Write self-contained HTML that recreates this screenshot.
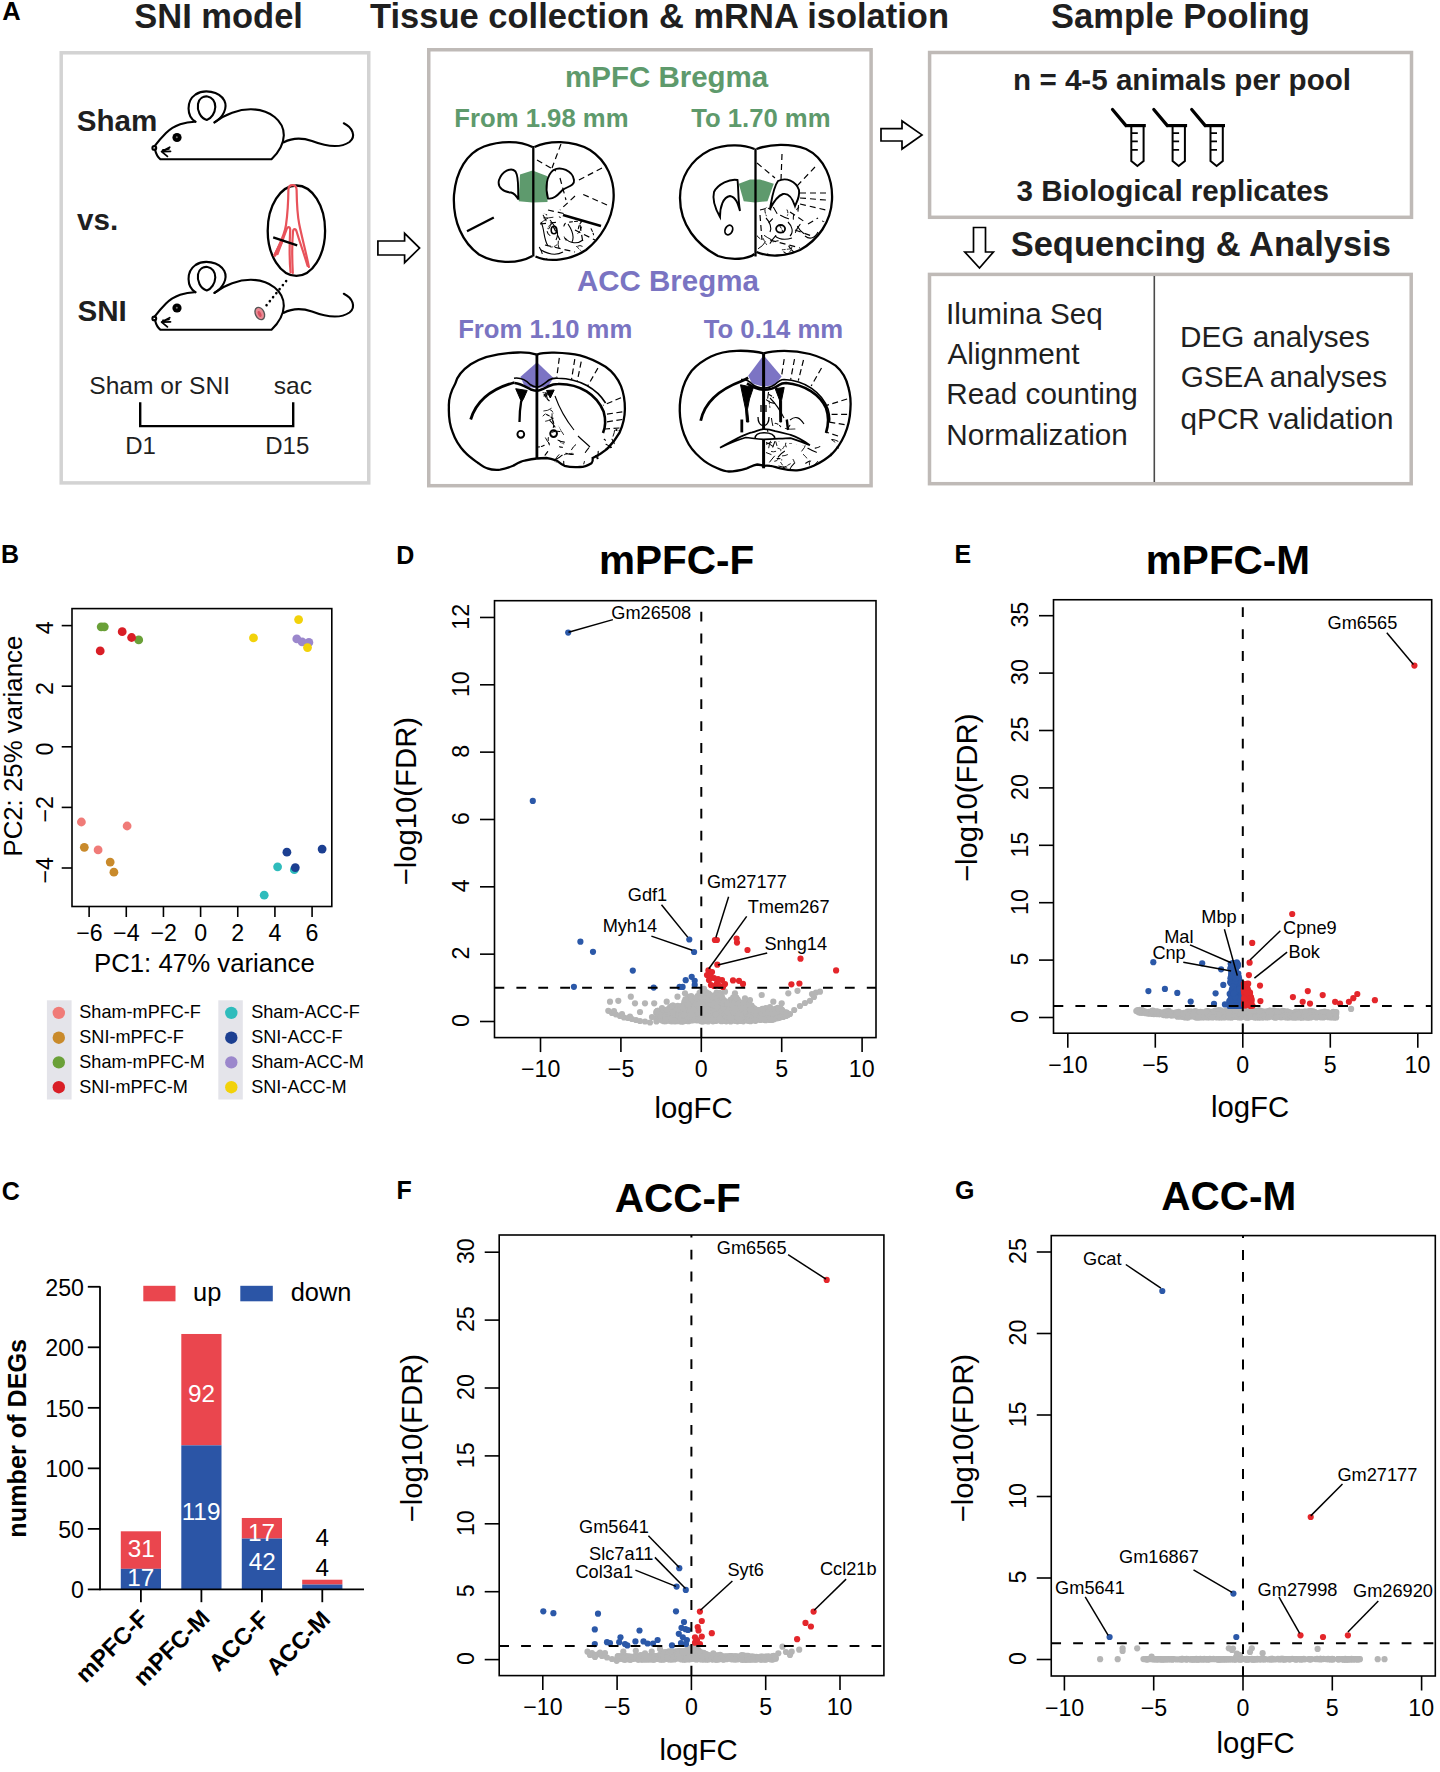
<!DOCTYPE html><html><head><meta charset="utf-8"><style>html,body{margin:0;padding:0;background:#fff;}svg{display:block;} text{font-family:"Liberation Sans",sans-serif;}</style></head><body>
<svg width="1440" height="1772" viewBox="0 0 1440 1772">
<rect width="1440" height="1772" fill="#fff"/>
<rect x="61.20" y="52.80" width="307.55" height="430.10" fill="none" stroke="#d3d3d3" stroke-width="3.5"/>
<rect x="428.75" y="49.75" width="442.35" height="435.95" fill="none" stroke="#bfbab7" stroke-width="3.5"/>
<rect x="929.60" y="52.50" width="481.90" height="164.80" fill="none" stroke="#bfbab7" stroke-width="3.5"/>
<rect x="929.50" y="274.40" width="481.70" height="209.30" fill="none" stroke="#bfbab7" stroke-width="3.5"/>
<line x1="1154.30" y1="276.00" x2="1154.30" y2="482.00" stroke="#4a4a4a" stroke-width="1.6"/>
<text x="2.16" y="20.30" font-size="25.5" font-weight="bold" fill="#000">A</text>
<text x="134.27" y="27.80" font-size="34.5" font-weight="bold" fill="#1f1f1f">SNI model</text>
<text x="370.05" y="28.30" font-size="34.5" font-weight="bold" fill="#1f1f1f">Tissue collection &amp; mRNA isolation</text>
<text x="1051.06" y="27.80" font-size="34.5" font-weight="bold" fill="#1f1f1f">Sample Pooling</text>
<text x="76.81" y="130.60" font-size="29.6" font-weight="bold" fill="#1f1f1f">Sham</text>
<text x="77.05" y="230.00" font-size="29.6" font-weight="bold" fill="#1f1f1f">vs.</text>
<text x="77.41" y="320.50" font-size="29.6" font-weight="bold" fill="#1f1f1f">SNI</text>
<text x="89.29" y="394.00" font-size="24.6" fill="#1f1f1f">Sham or SNI</text>
<text x="273.66" y="394.00" font-size="24.6" fill="#1f1f1f">sac</text>
<text x="125.28" y="453.50" font-size="24" fill="#1f1f1f">D1</text>
<text x="265.28" y="453.50" font-size="24" fill="#1f1f1f">D15</text>
<path d="M 140.2,402.3 L 140.2,426.1 L 293.2,426.1 L 293.2,402.3" stroke="#000" stroke-width="2.4" fill="none" stroke-linejoin="miter"/>
<g transform="translate(0,0)" stroke="#000" stroke-width="2.1" fill="none" stroke-linecap="round" stroke-linejoin="round">
<path d="M 195.4,121.7 C 186,121.5 174,125 166,133 C 161,138 157,143 154.6,146.2 M 155,149.5 C 156,154 158,157.5 160.5,159.3 L 271.5,159.3 C 278,153 283.5,145 283.8,135.5 C 284,121 270,109.5 251,109.3 C 239,109.2 225,114 214.5,122.4"/>
<circle cx="154.3" cy="147.9" r="1.9"/>
<path d="M 195.4,121.7 C 186.5,116.5 186,101 195.5,94.5 C 204,89 219,91 224.3,100.5 C 228,108 223,117.5 214.5,122.4"/>
<path d="M 206.8,120 C 200,118 197,110 198,104 C 199,98 203.5,96 207.5,96.5 C 212,97 215.5,101.5 215.3,107 C 215,113 211.5,118.5 206.8,120 Z"/>
<path d="M 283.8,142.3 C 291,138.5 300,137 312,141 C 325,146 340,148.5 349.5,142 C 356.5,136.5 352.5,127.5 343.8,123.3"/>
<path d="M 169.7,147.2 L 161.6,151.6 L 170.5,151.3 M 161.6,151.6 L 167.4,156.4 M 163,150 L 169,148.8" stroke-width="1.8"/>
</g>
<circle cx="177" cy="137.5" r="4.6" fill="#000"/>
<circle cx="176.8" cy="137.2" r="1.0" fill="#777"/>
<g transform="translate(0,170.5)" stroke="#000" stroke-width="2.1" fill="none" stroke-linecap="round" stroke-linejoin="round">
<path d="M 195.4,121.7 C 186,121.5 174,125 166,133 C 161,138 157,143 154.6,146.2 M 155,149.5 C 156,154 158,157.5 160.5,159.3 L 271.5,159.3 C 278,153 283.5,145 283.8,135.5 C 284,121 270,109.5 251,109.3 C 239,109.2 225,114 214.5,122.4"/>
<circle cx="154.3" cy="147.9" r="1.9"/>
<path d="M 195.4,121.7 C 186.5,116.5 186,101 195.5,94.5 C 204,89 219,91 224.3,100.5 C 228,108 223,117.5 214.5,122.4"/>
<path d="M 206.8,120 C 200,118 197,110 198,104 C 199,98 203.5,96 207.5,96.5 C 212,97 215.5,101.5 215.3,107 C 215,113 211.5,118.5 206.8,120 Z"/>
<path d="M 283.8,142.3 C 291,138.5 300,137 312,141 C 325,146 340,148.5 349.5,142 C 356.5,136.5 352.5,127.5 343.8,123.3"/>
<path d="M 169.7,147.2 L 161.6,151.6 L 170.5,151.3 M 161.6,151.6 L 167.4,156.4 M 163,150 L 169,148.8" stroke-width="1.8"/>
</g>
<circle cx="177" cy="308.0" r="4.6" fill="#000"/>
<circle cx="176.8" cy="307.7" r="1.0" fill="#777"/>
<ellipse cx="296.4" cy="230.7" rx="28.7" ry="45.2" stroke="#000" stroke-width="2.3" fill="#fff"/>
<g stroke="#e8525a" stroke-width="2.2" fill="none" stroke-linecap="round">
<path d="M 274.5,255.5 C 279,245 284.5,236 286,225 C 287.8,212 288.3,200 288.4,190 C 288.4,186.5 290,185.2 292.5,185.2 C 295,185.2 296.5,186.5 296.6,190 C 296.8,202 297.2,214 299.2,224 C 302,238 306,252 308.9,267"/>
<path d="M 277.5,254 C 281,245 284,236 286.5,229.5 C 287.5,226.5 289.7,226.3 290.2,229.5 C 289.6,242 289,258 290.6,272.5"/>
<path d="M 292.8,273 C 292,258 292,243 293,231.5 C 293.5,228.3 295.7,228.3 296.6,231.5 C 300,243 304.5,255 307.6,266"/>
<path d="M 275,255 L 281.5,242" stroke-width="3.2"/>
</g>
<line x1="273.20" y1="237.30" x2="297.20" y2="245.40" stroke="#000" stroke-width="2.3"/>
<line x1="286.10" y1="281.10" x2="264.10" y2="308.20" stroke="#000" stroke-width="2.6" stroke-dasharray="0.01,5.15" stroke-linecap="round"/>
<ellipse cx="259.8" cy="313.5" rx="4.4" ry="6.5" transform="rotate(-25 259.8 313.5)" stroke="#555" stroke-width="1.3" fill="#ea8a94"/>
<ellipse cx="259.6" cy="314" rx="1.6" ry="3.2" transform="rotate(-25 259.6 314)" fill="#d85060"/>
<path d="M 377.9,241 L 404.6,241 L 404.6,233.3 L 419.6,248.1 L 404.6,262.7 L 404.6,255 L 377.9,255 Z" stroke="#000" stroke-width="1.7" fill="#fff" stroke-linejoin="miter"/>
<path d="M 881,128.7 L 902,128.7 L 902,121 L 922,134.9 L 902,149 L 902,141 L 881,141 Z" stroke="#000" stroke-width="1.7" fill="#fff" stroke-linejoin="miter"/>
<path d="M 973.5,227.5 L 985.5,227.5 L 985.5,252 L 993.4,252 L 979.5,268 L 964.8,252 L 973.5,252 Z" stroke="#000" stroke-width="1.7" fill="#fff" stroke-linejoin="miter"/>
<text x="564.98" y="87.10" font-size="29.5" font-weight="bold" fill="#5e9a6c">mPFC Bregma</text>
<text x="454.33" y="126.50" font-size="25.7" font-weight="bold" fill="#5e9a6c">From 1.98 mm</text>
<text x="691.14" y="126.50" font-size="25.7" font-weight="bold" fill="#5e9a6c">To 1.70 mm</text>
<text x="576.96" y="291.20" font-size="29.5" font-weight="bold" fill="#7a74c2">ACC Bregma</text>
<text x="458.13" y="338.20" font-size="25.7" font-weight="bold" fill="#7a74c2">From 1.10 mm</text>
<text x="703.74" y="338.20" font-size="25.7" font-weight="bold" fill="#7a74c2">To 0.14 mm</text>
<polygon points="520,174.4 532.5,170.6 547.5,176.25 547.5,201.9 532.5,202.5 518.75,201.25" fill="#5e9a6d"/>
<path d="M 532.5,147 C 520,140.5 500,140.5 484,146.5 C 467,153 456,171 454,195 C 452.5,222 463,243 479,254.5 C 494,263 516,265 532.5,256" stroke="#000" stroke-width="2.3" fill="none"/>
<path d="M 534.5,147 C 548,140.5 572,139.5 590,150 C 607,161 615,180 613.5,200 C 612,220 601,238 586,250 C 571,260 550,263 535.5,256.5" stroke="#000" stroke-width="2.3" fill="none"/>
<line x1="533.30" y1="146.00" x2="533.30" y2="256.50" stroke="#000" stroke-width="2.3"/>
<path d="M 518.5,199.5 C 517.5,190 519.5,178 515.5,171.5 C 511,166.5 502,171.5 499,180 C 497,187.5 504,192.5 511,192.5 C 515,193.5 517,197 518.5,199.5 Z" stroke="#000" stroke-width="1.9" fill="#fff"/>
<path d="M 548,198.5 C 545,188 546.5,175 553.5,170 C 560.5,166 572.5,170.5 574,180 C 575,186 567,186.5 562.5,190 C 558.5,194 554.5,199.5 548,198.5 Z" stroke="#000" stroke-width="1.9" fill="#fff"/>
<line x1="467.00" y1="231.30" x2="493.80" y2="217.50" stroke="#000" stroke-width="2.3"/>
<line x1="563.00" y1="215.00" x2="601.00" y2="226.00" stroke="#000" stroke-width="2.6"/>
<g stroke="#000" stroke-width="1.2" fill="none" stroke-dasharray="6,4">
<line x1="561.00" y1="144.00" x2="552.00" y2="168.00" stroke="#000" stroke-width="1.2"/>
<line x1="537.00" y1="160.00" x2="556.00" y2="171.00" stroke="#000" stroke-width="1.2"/>
<line x1="602.00" y1="168.00" x2="577.00" y2="181.00" stroke="#000" stroke-width="1.2"/>
<line x1="607.00" y1="205.00" x2="580.00" y2="193.00" stroke="#000" stroke-width="1.2"/>
<line x1="560.00" y1="178.00" x2="566.00" y2="200.00" stroke="#000" stroke-width="1.2"/>
<line x1="575.00" y1="196.00" x2="560.00" y2="210.00" stroke="#000" stroke-width="1.2"/>
<line x1="548.00" y1="210.00" x2="566.00" y2="214.00" stroke="#000" stroke-width="1.2"/>
<line x1="540.00" y1="224.00" x2="560.00" y2="222.00" stroke="#000" stroke-width="1.2"/>
<line x1="575.00" y1="230.00" x2="595.00" y2="240.00" stroke="#000" stroke-width="1.2"/>
<line x1="545.00" y1="245.00" x2="575.00" y2="252.00" stroke="#000" stroke-width="1.2"/>
<line x1="553.00" y1="226.00" x2="560.00" y2="240.00" stroke="#000" stroke-width="1.2"/>
<line x1="580.00" y1="225.00" x2="583.00" y2="243.00" stroke="#000" stroke-width="1.2"/>
</g>
<g stroke="#000" stroke-width="1.1" fill="none">
<path d="M 541,222 C 545,230 543,238 548,246 M 550,220 C 556,228 560,232 556,240 M 565,238 C 570,244 578,244 583,240 M 541,250 C 548,254 556,256 563,252 M 568,224 C 572,230 575,236 572,242" stroke="#000" stroke-width="1.1" fill="none"/>
</g>
<ellipse cx="554" cy="230" rx="2.8" ry="3.8" stroke="#000" stroke-width="1.6" fill="none"/>
<clipPath id="clp1"><path d="M 535,212 L 600,224 C 596,240 585,250 571,256 C 556,262 545,261 535,257 Z"/></clipPath>
<g clip-path="url(#clp1)" stroke="#000" fill="none" stroke-linecap="round">
<path d="M 577.5,221.2 Q 572.8,221.8 568.0,222.3" stroke-width="1.03" stroke-dasharray="3,2"/>
<path d="M 550.9,224.3 Q 548.2,225.6 547.9,228.6" stroke-width="0.82" stroke-dasharray="3,2"/>
<path d="M 539.4,247.4 Q 541.3,250.3 542.2,253.6" stroke-width="1.02"/>
<path d="M 547.2,231.6 Q 547.7,234.1 549.9,235.4" stroke-width="1.04"/>
<path d="M 591.1,228.7 Q 592.6,231.6 593.6,234.8" stroke-width="1.03" stroke-dasharray="3,2"/>
<path d="M 564.2,236.9 Q 564.6,239.0 566.1,240.6" stroke-width="0.80"/>
<path d="M 543.1,212.5 Q 545.5,212.8 546.8,214.9" stroke-width="1.04"/>
<path d="M 558.3,241.1 Q 557.5,244.7 558.9,248.1" stroke-width="0.91"/>
<path d="M 577.7,246.1 Q 579.9,244.8 582.2,246.2" stroke-width="0.92"/>
<path d="M 588.1,252.4 Q 591.6,254.7 595.8,255.4" stroke-width="1.08"/>
<path d="M 547.5,218.4 Q 543.4,220.0 540.8,223.5" stroke-width="0.96"/>
<path d="M 546.9,258.8 Q 544.5,261.1 541.2,260.9" stroke-width="0.99"/>
<path d="M 554.9,211.4 Q 558.7,214.1 560.6,218.3" stroke-width="1.13" stroke-dasharray="3,2"/>
<path d="M 553.0,217.3 Q 548.3,218.2 543.6,217.9" stroke-width="0.83"/>
<path d="M 594.5,208.4 Q 592.8,212.7 590.8,216.8" stroke-width="1.00"/>
<path d="M 552.3,222.5 Q 550.4,225.6 548.7,228.9" stroke-width="0.92"/>
<path d="M 556.8,244.9 Q 554.2,247.2 550.7,247.0" stroke-width="0.88" stroke-dasharray="3,2"/>
<path d="M 543.2,215.3 Q 544.8,217.9 546.1,220.8" stroke-width="1.03"/>
<path d="M 581.5,227.0 Q 580.6,230.8 577.9,233.4" stroke-width="0.99" stroke-dasharray="3,2"/>
<path d="M 576.5,246.5 Q 579.0,248.6 581.3,251.0" stroke-width="0.90" stroke-dasharray="3,2"/>
<path d="M 540.5,259.2 Q 537.9,261.3 536.0,264.1" stroke-width="0.89"/>
<path d="M 596.3,245.7 Q 595.5,250.8 597.3,255.6" stroke-width="0.82"/>
<path d="M 565.3,223.4 Q 563.7,225.4 563.5,228.0" stroke-width="1.10" stroke-dasharray="3,2"/>
<path d="M 581.7,221.6 Q 578.7,224.7 578.3,229.0" stroke-width="1.08" stroke-dasharray="3,2"/>
<path d="M 584.5,216.8 Q 583.0,219.8 580.4,221.9" stroke-width="0.88" stroke-dasharray="3,2"/>
<path d="M 584.8,215.1 Q 587.4,216.0 588.7,218.5" stroke-width="1.06"/>
</g>
<polygon points="738.75,183.75 750,179.4 760,179.4 773.75,183.75 767.5,201.25 755,202.5 743.75,201.25" fill="#5e9a6d"/>
<path d="M 754.5,149 C 745,145 727,143 710,150 C 690,160 680,178 680,198 C 680,225 697,245 718,256 C 732,261 748,259 754.5,254" stroke="#000" stroke-width="2.3" fill="none"/>
<path d="M 756.5,149 C 770,144 790,143 806,149 C 825,158 833,180 832,200 C 831,222 818,240 800,250 C 785,257 768,257 756.5,252" stroke="#000" stroke-width="2.3" fill="none"/>
<line x1="755.50" y1="148.50" x2="755.50" y2="256.50" stroke="#000" stroke-width="2.3"/>
<path d="M 740,211 C 738,200 738.5,188 737.5,180 C 730,178.5 718,184 714,192 C 712,200 716,210 720,217 C 720,207 723,197 730,196 C 736,197 738,204 740,211 Z" stroke="#000" stroke-width="1.9" fill="#fff"/>
<path d="M 770,209 C 772,198 773,188 778,181 C 786,177 796,181 799,190 C 800,198 796,203 795,206 C 792,197 788,193 783,194 C 777,196 773,203 770,209 Z" stroke="#000" stroke-width="1.9" fill="#fff"/>
<ellipse cx="728.8" cy="230" rx="3.6" ry="5" transform="rotate(25 728.8 230)" stroke="#000" stroke-width="1.8" fill="none"/>
<ellipse cx="780.6" cy="228.8" rx="4.5" ry="3.8" stroke="#000" stroke-width="1.8" fill="none"/>
<g stroke="#000" stroke-width="1.2" fill="none" stroke-dasharray="6,4">
<line x1="782.00" y1="154.00" x2="781.00" y2="180.00" stroke="#000" stroke-width="1.2"/>
<line x1="757.00" y1="163.00" x2="775.00" y2="178.00" stroke="#000" stroke-width="1.2"/>
<line x1="815.00" y1="167.00" x2="797.00" y2="186.00" stroke="#000" stroke-width="1.2"/>
<line x1="800.00" y1="193.00" x2="826.00" y2="193.00" stroke="#000" stroke-width="1.2"/>
<line x1="800.00" y1="198.00" x2="826.00" y2="200.00" stroke="#000" stroke-width="1.2"/>
<line x1="800.00" y1="204.00" x2="826.00" y2="210.00" stroke="#000" stroke-width="1.2"/>
<line x1="760.00" y1="210.00" x2="768.00" y2="208.00" stroke="#000" stroke-width="1.2"/>
<line x1="760.00" y1="215.00" x2="762.00" y2="240.00" stroke="#000" stroke-width="1.2"/>
<line x1="790.00" y1="212.00" x2="805.00" y2="222.00" stroke="#000" stroke-width="1.2"/>
<line x1="808.00" y1="224.00" x2="818.00" y2="218.00" stroke="#000" stroke-width="1.2"/>
<line x1="770.00" y1="240.00" x2="800.00" y2="248.00" stroke="#000" stroke-width="1.2"/>
<line x1="795.00" y1="230.00" x2="812.00" y2="236.00" stroke="#000" stroke-width="1.2"/>
</g>
<clipPath id="clp2"><path d="M 757,208 L 800,205 L 828,212 C 822,232 810,246 795,252 C 782,257 768,257 757,252 Z"/></clipPath>
<g clip-path="url(#clp2)" stroke="#000" fill="none" stroke-linecap="round">
<path d="M 764.3,235.5 Q 767.7,237.9 771.4,239.7" stroke-width="0.93"/>
<path d="M 798.7,203.4 Q 798.3,207.3 798.0,211.1" stroke-width="1.11"/>
<path d="M 780.5,215.3 Q 784.3,217.5 788.6,218.8" stroke-width="1.01"/>
<path d="M 793.8,214.3 Q 793.2,216.7 793.3,219.2" stroke-width="1.02"/>
<path d="M 773.0,206.4 Q 775.0,209.9 777.0,213.4" stroke-width="1.06"/>
<path d="M 783.8,251.8 Q 786.0,253.3 788.4,254.4" stroke-width="1.02"/>
<path d="M 800.1,224.3 Q 796.9,227.9 795.4,232.4" stroke-width="1.02"/>
<path d="M 827.9,224.4 Q 825.7,228.5 824.4,232.9" stroke-width="0.94"/>
<path d="M 802.2,250.2 Q 799.5,253.0 799.5,256.8" stroke-width="0.98"/>
<path d="M 823.6,253.9 Q 824.9,256.0 827.4,256.2" stroke-width="1.11"/>
<path d="M 778.2,240.8 Q 775.6,241.4 773.0,241.8" stroke-width="1.03" stroke-dasharray="3,2"/>
<path d="M 787.1,209.9 Q 788.5,212.5 787.5,215.3" stroke-width="0.94" stroke-dasharray="3,2"/>
<path d="M 764.9,210.1 Q 765.0,213.2 766.4,215.8" stroke-width="0.95" stroke-dasharray="3,2"/>
<path d="M 772.5,218.9 Q 770.8,220.8 768.9,222.6" stroke-width="1.08"/>
<path d="M 791.9,247.2 Q 791.9,250.2 789.6,252.1" stroke-width="0.86"/>
<path d="M 790.2,248.9 Q 785.5,249.5 780.7,249.9" stroke-width="0.80" stroke-dasharray="3,2"/>
<path d="M 775.8,235.6 Q 772.5,239.0 770.2,243.2" stroke-width="1.14"/>
<path d="M 788.8,246.1 Q 791.1,249.8 794.5,252.6" stroke-width="1.10" stroke-dasharray="3,2"/>
<path d="M 767.7,253.9 Q 770.6,255.6 773.8,256.8" stroke-width="0.97"/>
<path d="M 822.4,221.1 Q 826.8,223.0 831.1,225.0" stroke-width="0.89" stroke-dasharray="3,2"/>
<path d="M 755.3,233.0 Q 756.7,236.7 760.0,238.7" stroke-width="0.97"/>
<path d="M 765.4,241.8 Q 762.9,246.2 758.4,248.6" stroke-width="0.98"/>
<path d="M 797.6,226.4 Q 799.8,230.7 803.8,233.5" stroke-width="1.05"/>
<path d="M 798.7,207.3 Q 796.8,208.8 796.1,211.1" stroke-width="1.03" stroke-dasharray="3,2"/>
<path d="M 763.9,206.0 Q 768.6,207.9 772.3,211.2" stroke-width="1.11" stroke-dasharray="3,2"/>
<path d="M 779.6,225.6 Q 782.4,229.7 783.8,234.4" stroke-width="0.97" stroke-dasharray="3,2"/>
<path d="M 763.3,238.6 Q 764.5,241.9 766.6,244.6" stroke-width="0.83" stroke-dasharray="3,2"/>
<path d="M 803.8,257.5 Q 807.1,259.2 810.5,257.9" stroke-width="1.09"/>
</g>
<path d="M 766,218 C 770,222 772,228 770,232 M 788,222 C 792,226 794,232 790,236 M 775,236 C 780,240 786,240 792,238 M 805,236 C 810,240 815,238 818,232" stroke="#000" stroke-width="1.1" fill="none"/>
<path d="M 536.9,354.6 C 530,352.5 524,352.3 518,352.5 C 500,353 482,357 470.7,364.3 C 461,371 457,377 455.3,383.5 C 450,393 448.5,400 448.9,406.7 C 448.5,418 450,426 452.7,432.4 C 456,442 460,447 464.3,451.6 C 469,457 474,460 478.4,463.2 C 482,466 485,468 487.4,468.3 C 492,470 496,470 500.2,469.6 C 505,469 509,467.5 513.1,465.8 C 518,463 521,461 524.6,460.6 C 529,459.5 532,458.8 536.9,458.5" stroke="#000" stroke-width="2.3" fill="none"/>
<path d="M 536.9,354.6 C 540,353.5 546,352.5 554.2,352.7 C 563,353 572,353.5 579.9,355.3 C 590,358 598,362 605.6,366.8 C 613,372 618,379 621,386.1 C 624,394 625,401 624.9,409.2 C 624.8,418 622.5,426 619.7,432.4 C 615.5,440 611,445 606.9,449.1 C 601,454 597,456 592.7,458 C 593,460 592.5,462 591.5,463.2 C 587,466 583,467 579.9,467 C 574,467.5 569,467 564.5,465.8 C 561,464 558.5,462 556.8,460.6 C 552,459 549,458.3 546.5,458 C 543,458 540,458 536.9,458.5" stroke="#000" stroke-width="2.3" fill="none"/>
<polygon points="537,362.2 520.5,376.7 524.4,385.9 537,388.5 548.2,385.9 553.5,378" fill="#7c74c4"/>
<line x1="536.90" y1="355.00" x2="536.90" y2="458.50" stroke="#000" stroke-width="2.8"/>
<path d="M 470.7,419.5 C 476,402 490,389 514.5,382.5" stroke="#000" stroke-width="2.8" fill="none"/>
<path d="M 514,378.2 C 521,377.3 526,380 530,384.5 C 533,386.5 535,387 537,387 C 541,387 545,383 549,380 C 552,378.2 556,378 558,378.2 C 580,378.5 597,389 605.6,403" stroke="#000" stroke-width="1.6" fill="none"/>
<path d="M 514.5,383 C 521,383.5 527,387.5 531,389.5 C 534,390.5 535.5,390.8 537,390.8 C 540,390.8 545,388 549,386 C 552,384.5 555,384 558,384 C 580,383.5 597,395 603.7,411.8 C 606,420 605.5,427 603,433" stroke="#000" stroke-width="2.6" fill="none"/>
<path d="M 515.7,388.7 L 527.2,390.5 L 523.4,399 L 521.5,402 Z" stroke="#000" stroke-width="1" fill="#000"/>
<path d="M 546.5,390.5 L 554.2,390 L 550.3,398 Z" stroke="#000" stroke-width="1" fill="#000"/>
<path d="M 521.2,401 C 520,408 519.5,415 519.5,422.1" stroke="#000" stroke-width="2.3" fill="none"/>
<circle cx="520.8" cy="434.3" r="3.4" stroke="#000" stroke-width="1.9" fill="#fff"/>
<circle cx="553.6" cy="433.6" r="3.4" stroke="#000" stroke-width="1.9" fill="#fff"/>
<g stroke="#000" stroke-width="1.2" fill="none" stroke-dasharray="6,3.5">
<line x1="559.30" y1="357.80" x2="556.80" y2="377.10" stroke="#000" stroke-width="1.2"/>
<line x1="574.80" y1="359.10" x2="571.50" y2="379.70" stroke="#000" stroke-width="1.2"/>
<line x1="581.20" y1="361.70" x2="577.30" y2="381.00" stroke="#000" stroke-width="1.2"/>
<line x1="597.90" y1="368.10" x2="587.60" y2="386.10" stroke="#000" stroke-width="1.2"/>
<line x1="621.00" y1="397.70" x2="603.00" y2="405.40" stroke="#000" stroke-width="1.2"/>
<line x1="622.30" y1="411.80" x2="605.60" y2="414.40" stroke="#000" stroke-width="1.2"/>
<line x1="622.30" y1="419.50" x2="605.60" y2="422.10" stroke="#000" stroke-width="1.2"/>
<line x1="619.50" y1="428.00" x2="605.00" y2="429.00" stroke="#000" stroke-width="1.2"/>
</g>
<clipPath id="clp3"><path d="M 538,392 L 550,392 C 552,410 556,425 570,440 C 585,452 600,446 606,436 L 622,425 C 620,440 610,452 598,459 C 585,466 570,468 556,463 C 548,460 543,459 538,459 Z"/></clipPath>
<g clip-path="url(#clp3)" stroke="#000" fill="none" stroke-linecap="round">
<path d="M 625.8,422.3 Q 623.8,426.1 620.5,428.8" stroke-width="0.83"/>
<path d="M 552.9,418.2 Q 549.0,420.9 544.3,421.4" stroke-width="0.83" stroke-dasharray="3,2"/>
<path d="M 608.3,390.4 Q 610.8,391.1 611.8,393.4" stroke-width="0.98" stroke-dasharray="3,2"/>
<path d="M 575.7,444.7 Q 573.0,446.6 571.5,449.7" stroke-width="1.00"/>
<path d="M 560.9,414.1 Q 559.3,418.7 558.4,423.5" stroke-width="0.97" stroke-dasharray="3,2"/>
<path d="M 567.1,406.6 Q 562.4,405.6 557.8,407.0" stroke-width="0.98"/>
<path d="M 560.9,426.1 Q 564.1,426.9 566.7,429.0" stroke-width="0.83"/>
<path d="M 547.7,451.6 Q 546.4,453.4 545.1,455.2" stroke-width="1.15"/>
<path d="M 588.8,447.9 Q 586.9,450.1 585.3,452.5" stroke-width="1.01"/>
<path d="M 610.8,423.1 Q 609.4,424.8 607.7,426.2" stroke-width="0.82"/>
<path d="M 614.7,428.6 Q 614.7,432.6 613.1,436.2" stroke-width="0.94"/>
<path d="M 594.0,416.7 Q 594.1,419.7 594.4,422.6" stroke-width="1.04" stroke-dasharray="3,2"/>
<path d="M 598.2,451.3 Q 598.2,456.3 597.0,461.1" stroke-width="1.12" stroke-dasharray="3,2"/>
<path d="M 565.8,453.3 Q 569.5,454.8 573.4,454.1" stroke-width="1.13"/>
<path d="M 568.9,413.9 Q 569.4,416.5 567.2,417.9" stroke-width="1.11"/>
<path d="M 549.3,419.8 Q 552.7,423.0 555.0,427.1" stroke-width="1.05"/>
<path d="M 565.9,406.5 Q 565.5,409.6 565.5,412.9" stroke-width="0.91"/>
<path d="M 578.1,397.6 Q 574.2,400.2 571.0,403.7" stroke-width="0.99"/>
<path d="M 619.2,388.7 Q 619.7,390.7 619.3,392.8" stroke-width="0.88"/>
<path d="M 595.5,455.7 Q 595.8,458.2 598.3,458.6" stroke-width="1.07"/>
<path d="M 551.3,393.3 Q 547.6,393.0 544.3,394.8" stroke-width="1.07"/>
<path d="M 605.7,407.5 Q 607.5,410.3 610.4,412.1" stroke-width="1.08"/>
<path d="M 585.1,424.9 Q 588.2,427.6 591.7,429.5" stroke-width="0.98"/>
<path d="M 620.5,462.7 Q 623.1,463.9 625.9,464.5" stroke-width="1.04" stroke-dasharray="3,2"/>
<path d="M 620.6,424.5 Q 619.4,426.4 617.4,427.4" stroke-width="0.81"/>
<path d="M 584.4,461.5 Q 583.8,464.5 582.4,467.1" stroke-width="0.93" stroke-dasharray="3,2"/>
<path d="M 545.5,437.9 Q 546.9,441.0 549.2,443.5" stroke-width="0.90"/>
<path d="M 567.3,413.3 Q 566.4,415.4 565.0,417.3" stroke-width="0.84"/>
<path d="M 563.7,461.3 Q 563.8,465.3 564.1,469.3" stroke-width="1.09"/>
<path d="M 589.9,390.7 Q 593.9,392.3 597.6,394.3" stroke-width="1.14"/>
<path d="M 613.6,447.7 Q 609.5,446.8 605.7,448.6" stroke-width="0.95" stroke-dasharray="3,2"/>
<path d="M 551.3,408.4 Q 548.0,411.0 543.8,411.0" stroke-width="0.81"/>
<path d="M 582.6,418.0 Q 585.3,419.3 588.1,418.3" stroke-width="1.05"/>
<path d="M 559.1,440.4 Q 560.7,443.2 563.8,443.8" stroke-width="0.87" stroke-dasharray="3,2"/>
<path d="M 559.0,454.6 Q 556.1,457.1 554.8,460.9" stroke-width="0.96"/>
<path d="M 602.9,410.9 Q 605.7,413.2 608.3,415.8" stroke-width="1.08"/>
<path d="M 599.7,433.9 Q 601.5,438.0 605.5,440.2" stroke-width="1.02"/>
<path d="M 557.7,395.5 Q 557.6,399.3 558.9,402.9" stroke-width="0.97"/>
<path d="M 543.0,392.6 Q 546.0,393.0 548.4,394.8" stroke-width="0.85" stroke-dasharray="3,2"/>
<path d="M 572.2,453.3 Q 567.2,453.6 562.4,455.3" stroke-width="0.80" stroke-dasharray="3,2"/>
<path d="M 627.3,443.2 Q 625.2,445.0 622.6,445.4" stroke-width="0.83"/>
<path d="M 567.9,425.8 Q 570.0,426.4 571.7,427.6" stroke-width="1.12"/>
<path d="M 587.1,391.9 Q 587.3,395.0 588.4,398.0" stroke-width="0.94"/>
<path d="M 559.5,446.8 Q 561.9,447.7 564.3,446.9" stroke-width="1.10" stroke-dasharray="3,2"/>
<path d="M 555.9,462.8 Q 553.9,464.5 554.6,467.1" stroke-width="1.00" stroke-dasharray="3,2"/>
<path d="M 582.8,415.7 Q 582.4,418.9 581.2,422.0" stroke-width="1.06" stroke-dasharray="3,2"/>
<path d="M 612.7,447.8 Q 610.0,447.2 607.8,448.7" stroke-width="1.05" stroke-dasharray="3,2"/>
<path d="M 615.1,427.8 Q 616.5,430.5 619.5,430.6" stroke-width="1.08" stroke-dasharray="3,2"/>
<path d="M 617.9,389.8 Q 614.7,392.3 613.4,396.1" stroke-width="1.12"/>
<path d="M 614.6,425.5 Q 611.2,425.5 608.2,426.9" stroke-width="1.06"/>
<path d="M 606.0,444.2 Q 609.3,446.0 612.6,447.8" stroke-width="1.01" stroke-dasharray="3,2"/>
<path d="M 600.8,419.0 Q 600.1,421.9 597.2,423.0" stroke-width="0.96"/>
<path d="M 608.1,431.3 Q 606.1,433.2 603.4,433.1" stroke-width="0.94"/>
<path d="M 605.5,392.2 Q 604.5,395.1 603.7,398.0" stroke-width="0.83" stroke-dasharray="3,2"/>
<path d="M 596.9,416.3 Q 593.5,417.0 589.9,416.8" stroke-width="0.87"/>
<path d="M 586.0,409.6 Q 582.4,409.2 579.0,410.3" stroke-width="1.04"/>
<path d="M 547.7,462.7 Q 546.7,465.0 546.2,467.5" stroke-width="0.82"/>
<path d="M 545.8,389.3 Q 545.7,393.9 547.2,398.2" stroke-width="1.13"/>
<path d="M 594.1,436.6 Q 591.7,436.9 589.4,437.2" stroke-width="0.99" stroke-dasharray="3,2"/>
<path d="M 612.0,439.2 Q 614.2,443.0 616.2,446.9" stroke-width="1.05"/>
<path d="M 608.7,428.2 Q 613.1,428.6 616.9,430.6" stroke-width="1.00"/>
<path d="M 605.2,393.0 Q 601.0,395.5 596.7,397.8" stroke-width="0.89"/>
</g>
<clipPath id="clp4"><path d="M 538,394 L 551,394 C 551,412 556,428 572,442 L 560,460 L 538,459 Z"/></clipPath>
<g clip-path="url(#clp4)" stroke="#000" fill="none" stroke-linecap="round">
<path d="M 571.7,412.8 Q 568.2,416.2 564.0,418.7" stroke-width="1.07" stroke-dasharray="3,2"/>
<path d="M 545.3,414.0 Q 543.2,415.3 541.8,417.4" stroke-width="0.92" stroke-dasharray="3,2"/>
<path d="M 552.0,413.7 Q 551.4,418.4 553.2,422.9" stroke-width="0.88"/>
<path d="M 561.8,455.3 Q 559.2,457.9 555.8,459.2" stroke-width="1.13"/>
<path d="M 562.9,397.7 Q 558.6,399.0 555.6,402.2" stroke-width="1.14"/>
<path d="M 563.4,415.2 Q 562.3,418.6 562.7,422.2" stroke-width="1.02"/>
<path d="M 559.9,431.6 Q 555.4,430.8 551.2,432.6" stroke-width="1.04" stroke-dasharray="3,2"/>
<path d="M 550.6,410.0 Q 553.1,411.0 553.9,413.5" stroke-width="0.97"/>
<path d="M 568.0,455.8 Q 568.4,458.0 567.0,459.8" stroke-width="0.82"/>
<path d="M 548.3,437.5 Q 547.8,441.4 549.4,444.9" stroke-width="1.03" stroke-dasharray="3,2"/>
<path d="M 562.4,416.0 Q 559.6,417.0 556.8,416.4" stroke-width="1.12"/>
<path d="M 544.2,445.3 Q 541.1,447.1 537.5,447.0" stroke-width="1.10" stroke-dasharray="3,2"/>
<path d="M 548.9,394.0 Q 546.8,396.0 543.8,396.0" stroke-width="0.93"/>
<path d="M 572.9,403.7 Q 570.9,406.0 570.9,409.0" stroke-width="0.97"/>
<path d="M 566.3,426.4 Q 567.5,428.3 566.7,430.4" stroke-width="1.04"/>
<path d="M 560.8,392.1 Q 556.9,394.6 554.5,398.6" stroke-width="1.06"/>
<path d="M 546.6,414.4 Q 550.2,416.2 553.1,418.8" stroke-width="1.08" stroke-dasharray="3,2"/>
<path d="M 544.2,394.5 Q 546.2,398.4 549.7,401.2" stroke-width="1.12" stroke-dasharray="3,2"/>
<path d="M 559.1,426.0 Q 560.8,430.5 563.5,434.5" stroke-width="0.91"/>
<path d="M 552.8,420.6 Q 554.5,423.9 553.3,427.4" stroke-width="1.09" stroke-dasharray="3,2"/>
<path d="M 553.8,401.8 Q 554.7,404.3 552.8,406.1" stroke-width="0.87"/>
<path d="M 558.0,440.1 Q 561.0,441.8 564.4,442.1" stroke-width="1.06"/>
</g>
<path d="M 555,396 C 560,410 566,420 574,430 M 578,436 C 582,440 586,443 590,447" stroke="#000" stroke-width="1.1" fill="none"/>
<path d="M 763.6,353.4 C 757,351.5 748,350.5 736.7,350.8 C 727,351 718,353 711,356.6 C 703,360.5 697,365 691.7,370.7 C 686,378 683,386 681.4,393.8 C 679.5,402 679.5,410 680.1,416.9 C 681,426 683,433 686.6,440.1 C 690,448 695,453 700.7,458 C 706,463 712,466 717.4,468.3 C 721,470 725,471.5 729,471.5 C 735,471.5 741,470 746.9,468.3 C 750,467 753.5,465 757.2,464.5 C 759.5,464.5 761.5,465.5 763.6,465.8" stroke="#000" stroke-width="2.3" fill="none"/>
<path d="M 763.6,353.4 C 769,351.5 776,350.8 784.2,350.8 C 793,350.8 802,352 809.9,354 C 819,356.5 828,360.5 835.6,365.6 C 842,371 846.5,379 848.4,387.4 C 850.5,395 851,402 850.4,409.2 C 850,419 848,427 844.6,434.9 C 841,443 837,449 831.7,454.2 C 826,459.5 820,463 813.7,465.8 C 808,468.3 802,470 797,470.3 C 791,470.5 785,469.5 780.3,468.3 C 776,467.3 773,466 770.1,465.8 C 767.5,465.5 765.5,465.6 763.6,465.8" stroke="#000" stroke-width="2.3" fill="none"/>
<polygon points="763.6,355.3 748.2,375.8 752.1,383.5 763.6,386.8 775.2,384.8 781.6,376.5" fill="#7c74c4"/>
<line x1="763.60" y1="353.40" x2="763.60" y2="468.30" stroke="#000" stroke-width="3"/>
<path d="M 700.7,420.8 C 704,405 715,391 741.8,381 C 744,380 746,379 748.2,377.8" stroke="#000" stroke-width="2.8" fill="none"/>
<path d="M 741,379.5 C 746,379 750,381.5 752.5,384.5 C 756,387 760,388 763.6,388 C 768,388 772,386.5 775,384.5 C 778,381.5 781,379.5 784,379.5 C 805,380 822,393 828,409 C 830,416 830,420 829.2,422.1" stroke="#000" stroke-width="1.6" fill="none"/>
<path d="M 747,383.3 C 751,386 756,389.2 763.6,389.8 C 770,389.8 775,388 779,385 C 781,383.5 783,383 786,383 C 805,384.5 820,395 826,408 C 828.5,415 828.5,425 826,433" stroke="#000" stroke-width="2.6" fill="none"/>
<path d="M 740.5,384.8 L 753.4,387.4 L 749.5,399 L 747.5,409.2 L 748.8,422 L 746.5,422 L 745.5,409 Z" stroke="#000" stroke-width="1" fill="#000"/>
<path d="M 775.2,388.7 L 784.2,387.4 L 781.6,400.2 L 781.6,422 L 779.8,422 L 779.5,400 Z" stroke="#000" stroke-width="1" fill="#000"/>
<path d="M 720,447.8 C 732,441 744,434 752.1,432.4 C 757,431 760,429.3 763.6,429.1 C 768,429 772,430 775.2,431.1 C 782,432.5 787,434 790.6,434.9 C 797,437 804,441 809.9,445.2 C 803,442.5 797,440 790.6,438.1 C 781,438.5 772,439.2 763.6,439.4 C 757,439 751,438 745.7,437.5 C 737,440 728,444 720,447.8 Z" stroke="#000" stroke-width="1.7" fill="#fff"/>
<path d="M 755,438.8 C 755,434.5 759,432.8 764,432.8 C 770,432.8 774.5,434.5 775,438.8" stroke="#000" stroke-width="1.5" fill="none"/>
<line x1="741.80" y1="419.50" x2="741.80" y2="432.40" stroke="#000" stroke-width="2.8"/>
<line x1="786.80" y1="419.50" x2="788.00" y2="429.80" stroke="#000" stroke-width="2.4"/>
<path d="M 758,417 C 758,422 760,425 763,426 M 769,417 C 769,422 767,425 764,426 M 761,405 L 761,412 M 766,405 L 766,412" stroke="#000" stroke-width="1.3" fill="none"/>
<g stroke="#000" stroke-width="1.2" fill="none" stroke-dasharray="6,3.5">
<line x1="784.20" y1="359.10" x2="781.60" y2="375.80" stroke="#000" stroke-width="1.2"/>
<line x1="794.50" y1="359.10" x2="790.60" y2="379.70" stroke="#000" stroke-width="1.2"/>
<line x1="803.50" y1="360.00" x2="798.30" y2="380.60" stroke="#000" stroke-width="1.2"/>
<line x1="821.50" y1="368.00" x2="811.20" y2="386.00" stroke="#000" stroke-width="1.2"/>
<line x1="847.10" y1="399.00" x2="826.60" y2="405.40" stroke="#000" stroke-width="1.2"/>
<line x1="847.10" y1="414.40" x2="829.20" y2="414.40" stroke="#000" stroke-width="1.2"/>
<line x1="844.60" y1="424.70" x2="829.20" y2="422.10" stroke="#000" stroke-width="1.2"/>
<line x1="838.00" y1="436.00" x2="826.00" y2="432.00" stroke="#000" stroke-width="1.2"/>
</g>
<clipPath id="clp5"><path d="M 766,440 L 810,446 C 820,447 830,440 836,436 L 848,425 C 846,442 836,455 822,463 C 808,470 792,472 780,469 C 772,467 768,466 766,466 Z"/></clipPath>
<g clip-path="url(#clp5)" stroke="#000" fill="none" stroke-linecap="round">
<path d="M 848.4,465.6 Q 847.0,468.0 844.9,469.6" stroke-width="1.05"/>
<path d="M 769.6,442.9 Q 767.3,443.2 765.2,444.4" stroke-width="0.92"/>
<path d="M 837.4,455.0 Q 838.1,457.9 839.4,460.6" stroke-width="1.02"/>
<path d="M 803.4,454.4 Q 805.0,456.4 806.9,458.1" stroke-width="0.84"/>
<path d="M 831.1,463.8 Q 832.4,467.0 835.6,468.5" stroke-width="0.92"/>
<path d="M 778.8,466.1 Q 782.7,467.5 786.8,467.1" stroke-width="0.99"/>
<path d="M 839.7,470.0 Q 843.5,470.7 845.8,473.8" stroke-width="0.93" stroke-dasharray="3,2"/>
<path d="M 777.1,458.6 Q 779.8,457.8 781.8,459.9" stroke-width="1.08" stroke-dasharray="3,2"/>
<path d="M 774.5,456.1 Q 772.0,459.0 769.6,462.1" stroke-width="0.99"/>
<path d="M 794.7,462.9 Q 791.1,466.0 789.4,470.4" stroke-width="1.09"/>
<path d="M 810.4,460.9 Q 808.7,462.6 809.4,465.0" stroke-width="0.87"/>
<path d="M 804.9,437.5 Q 803.1,440.9 803.1,444.8" stroke-width="1.01" stroke-dasharray="3,2"/>
<path d="M 815.3,466.5 Q 814.8,471.2 811.6,474.7" stroke-width="1.04" stroke-dasharray="3,2"/>
<path d="M 777.8,448.1 Q 780.1,448.5 781.6,450.5" stroke-width="0.88" stroke-dasharray="3,2"/>
<path d="M 831.4,439.6 Q 833.1,440.8 834.9,442.1" stroke-width="0.88"/>
<path d="M 785.9,442.5 Q 784.8,444.7 786.1,446.9" stroke-width="1.00"/>
<path d="M 812.1,467.0 Q 813.0,470.2 812.2,473.4" stroke-width="0.93"/>
<path d="M 819.8,446.6 Q 817.6,447.8 815.2,448.1" stroke-width="1.07"/>
<path d="M 805.2,435.2 Q 806.0,438.6 803.9,441.6" stroke-width="0.92"/>
<path d="M 765.3,441.9 Q 769.4,443.6 772.9,446.3" stroke-width="1.04"/>
<path d="M 762.9,451.3 Q 767.0,452.9 771.1,454.5" stroke-width="0.93"/>
<path d="M 832.2,439.4 Q 835.2,439.8 837.9,441.2" stroke-width="0.95"/>
<path d="M 851.5,460.4 Q 847.8,461.6 843.9,461.3" stroke-width="1.00" stroke-dasharray="3,2"/>
<path d="M 817.9,442.2 Q 814.8,441.7 812.2,443.5" stroke-width="0.88" stroke-dasharray="3,2"/>
<path d="M 790.3,463.8 Q 786.6,465.8 783.1,468.2" stroke-width="0.85" stroke-dasharray="3,2"/>
<path d="M 764.9,468.0 Q 769.3,468.3 772.6,471.3" stroke-width="0.90"/>
<path d="M 784.1,439.5 Q 781.8,441.8 778.6,441.3" stroke-width="1.05"/>
<path d="M 810.8,435.5 Q 812.5,439.0 812.8,442.9" stroke-width="0.95"/>
<path d="M 824.8,465.7 Q 821.0,464.8 817.7,466.8" stroke-width="0.84"/>
<path d="M 822.4,466.3 Q 821.6,469.7 823.1,472.9" stroke-width="0.96" stroke-dasharray="3,2"/>
<path d="M 806.0,443.3 Q 805.1,447.8 801.8,451.1" stroke-width="0.91"/>
<path d="M 832.3,460.1 Q 833.0,465.0 835.6,469.2" stroke-width="1.09"/>
<path d="M 817.8,442.3 Q 820.0,441.2 821.9,442.7" stroke-width="0.98"/>
<path d="M 817.8,461.4 Q 814.8,465.3 810.9,468.2" stroke-width="0.97"/>
<path d="M 793.1,459.4 Q 794.6,461.5 794.4,464.1" stroke-width="0.93" stroke-dasharray="3,2"/>
<path d="M 836.9,447.1 Q 841.1,449.0 843.3,453.1" stroke-width="1.07"/>
<path d="M 775.7,451.4 Q 773.6,452.2 771.4,451.6" stroke-width="0.86"/>
<path d="M 780.7,462.4 Q 783.7,466.4 784.7,471.3" stroke-width="0.88" stroke-dasharray="3,2"/>
<path d="M 770.7,440.7 Q 769.1,444.1 768.7,447.8" stroke-width="0.88"/>
<path d="M 846.8,447.2 Q 847.8,450.0 850.6,450.6" stroke-width="1.02"/>
<path d="M 804.5,438.0 Q 808.1,440.1 810.7,443.4" stroke-width="0.98"/>
<path d="M 784.5,451.2 Q 780.7,453.3 778.3,456.9" stroke-width="1.12"/>
<path d="M 787.5,454.7 Q 785.1,455.9 782.4,455.9" stroke-width="0.87"/>
<path d="M 775.6,439.2 Q 774.4,443.2 772.8,447.1" stroke-width="1.06"/>
<path d="M 801.0,437.3 Q 797.6,439.7 796.6,443.7" stroke-width="1.05" stroke-dasharray="3,2"/>
<path d="M 784.3,446.2 Q 783.0,449.0 780.5,450.7" stroke-width="0.87" stroke-dasharray="3,2"/>
<path d="M 809.8,461.0 Q 807.7,462.0 805.7,463.2" stroke-width="1.14"/>
<path d="M 778.3,459.1 Q 777.1,461.3 774.7,461.3" stroke-width="0.91"/>
<path d="M 774.5,436.2 Q 775.5,440.9 776.9,445.6" stroke-width="0.90"/>
<path d="M 787.9,442.0 Q 789.3,443.9 791.7,443.6" stroke-width="0.99"/>
<path d="M 810.2,437.6 Q 812.4,440.0 812.6,443.2" stroke-width="0.83"/>
<path d="M 836.4,467.2 Q 839.7,469.2 842.0,472.4" stroke-width="1.10"/>
<path d="M 771.5,442.5 Q 766.5,443.5 762.4,446.4" stroke-width="0.82"/>
<path d="M 831.3,453.1 Q 832.0,457.6 830.1,461.7" stroke-width="1.00"/>
<path d="M 807.9,448.3 Q 812.0,450.7 816.4,452.2" stroke-width="1.13"/>
</g>
<clipPath id="clp6"><path d="M 766,392 L 778,392 C 780,410 790,425 800,432 L 766,432 Z"/></clipPath>
<g clip-path="url(#clp6)" stroke="#000" fill="none" stroke-linecap="round">
<path d="M 785.3,428.5 Q 790.1,429.7 795.0,429.0" stroke-width="0.82"/>
<path d="M 796.4,397.8 Q 793.4,398.2 790.3,398.3" stroke-width="1.03"/>
<path d="M 791.3,399.6 Q 792.1,401.9 791.5,404.4" stroke-width="0.97" stroke-dasharray="3,2"/>
<path d="M 775.1,423.3 Q 778.6,423.9 780.7,426.8" stroke-width="1.06" stroke-dasharray="3,2"/>
<path d="M 771.5,418.4 Q 771.9,422.1 772.8,425.6" stroke-width="0.97"/>
<path d="M 769.0,394.5 Q 771.5,395.7 773.4,397.7" stroke-width="1.11" stroke-dasharray="3,2"/>
<path d="M 766.4,399.8 Q 769.9,402.8 774.6,403.4" stroke-width="1.07"/>
<path d="M 783.3,405.8 Q 785.4,409.2 786.1,413.2" stroke-width="0.98"/>
<path d="M 789.9,425.3 Q 788.5,427.3 787.6,429.6" stroke-width="1.06"/>
<path d="M 768.7,389.9 Q 768.3,394.0 767.7,398.2" stroke-width="1.06"/>
<path d="M 797.7,397.1 Q 794.6,400.3 790.3,401.4" stroke-width="0.88" stroke-dasharray="3,2"/>
<path d="M 788.6,416.6 Q 792.8,416.9 796.8,418.3" stroke-width="1.10" stroke-dasharray="3,2"/>
<path d="M 769.1,401.0 Q 769.4,404.3 769.9,407.5" stroke-width="0.84" stroke-dasharray="3,2"/>
<path d="M 767.3,429.6 Q 768.4,432.4 767.5,435.3" stroke-width="1.01" stroke-dasharray="3,2"/>
</g>
<path d="M 770,398 C 776,404 780,410 784,418 M 790,420 C 796,415 800,418 804,424" stroke="#000" stroke-width="1.1" fill="none"/>
<text x="1013.08" y="90.00" font-size="29.6" font-weight="bold" fill="#1f1f1f">n = 4-5 animals per pool</text>
<text x="1016.56" y="200.70" font-size="29.6" font-weight="bold" fill="#1f1f1f">3 Biological replicates</text>
<g transform="translate(0,0)" stroke="#000" fill="none">
<path d="M 1112.5,109.5 L 1126,125.6" stroke-width="3.2" stroke-linecap="round"/>
<path d="M 1125.5,125.6 L 1145.8,125.6" stroke-width="3.2"/>
<path d="M 1131.3,126.5 L 1131.3,161 L 1137.4,166 L 1143.6,161 L 1143.6,126.5" stroke-width="2"/>
<path d="M 1131.5,133.2 L 1137.8,133.2 M 1131.5,141.4 L 1137.8,141.4 M 1131.5,149.8 L 1137.8,149.8" stroke-width="1.8"/>
</g>
<g transform="translate(41.3,0)" stroke="#000" fill="none">
<path d="M 1112.5,109.5 L 1126,125.6" stroke-width="3.2" stroke-linecap="round"/>
<path d="M 1125.5,125.6 L 1145.8,125.6" stroke-width="3.2"/>
<path d="M 1131.3,126.5 L 1131.3,161 L 1137.4,166 L 1143.6,161 L 1143.6,126.5" stroke-width="2"/>
<path d="M 1131.5,133.2 L 1137.8,133.2 M 1131.5,141.4 L 1137.8,141.4 M 1131.5,149.8 L 1137.8,149.8" stroke-width="1.8"/>
</g>
<g transform="translate(79.2,0)" stroke="#000" fill="none">
<path d="M 1112.5,109.5 L 1126,125.6" stroke-width="3.2" stroke-linecap="round"/>
<path d="M 1125.5,125.6 L 1145.8,125.6" stroke-width="3.2"/>
<path d="M 1131.3,126.5 L 1131.3,161 L 1137.4,166 L 1143.6,161 L 1143.6,126.5" stroke-width="2"/>
<path d="M 1131.5,133.2 L 1137.8,133.2 M 1131.5,141.4 L 1137.8,141.4 M 1131.5,149.8 L 1137.8,149.8" stroke-width="1.8"/>
</g>
<text x="1010.67" y="255.70" font-size="34.5" font-weight="bold" fill="#1f1f1f">Sequencing &amp; Analysis</text>
<text x="946.03" y="324.20" font-size="29.7" fill="#1f1f1f">Ilumina Seq</text>
<text x="947.55" y="364.00" font-size="29.7" fill="#1f1f1f">Alignment</text>
<text x="946.32" y="404.20" font-size="29.7" fill="#1f1f1f">Read counting</text>
<text x="946.32" y="445.00" font-size="29.7" fill="#1f1f1f">Normalization</text>
<text x="1180.12" y="347.40" font-size="29.7" fill="#1f1f1f">DEG analyses</text>
<text x="1180.72" y="387.20" font-size="29.7" fill="#1f1f1f">GSEA analyses</text>
<text x="1180.61" y="428.70" font-size="29.7" fill="#1f1f1f">qPCR validation</text>
<circle cx="101.20" cy="626.80" r="4.4" fill="#6aa038"/>
<circle cx="104.30" cy="626.80" r="4.4" fill="#6aa038"/>
<circle cx="138.70" cy="639.90" r="4.4" fill="#6aa038"/>
<circle cx="122.20" cy="631.70" r="4.4" fill="#d91e26"/>
<circle cx="131.60" cy="637.50" r="4.4" fill="#d91e26"/>
<circle cx="100.20" cy="650.90" r="4.4" fill="#d91e26"/>
<circle cx="81.40" cy="822.00" r="4.4" fill="#f07b78"/>
<circle cx="127.10" cy="826.00" r="4.4" fill="#f07b78"/>
<circle cx="98.10" cy="849.90" r="4.4" fill="#f07b78"/>
<circle cx="84.30" cy="847.30" r="4.4" fill="#c98a2b"/>
<circle cx="110.20" cy="862.10" r="4.4" fill="#c98a2b"/>
<circle cx="113.90" cy="872.20" r="4.4" fill="#c98a2b"/>
<circle cx="296.80" cy="638.90" r="4.4" fill="#9b87cc"/>
<circle cx="302.10" cy="641.80" r="4.4" fill="#9b87cc"/>
<circle cx="308.90" cy="642.40" r="4.4" fill="#9b87cc"/>
<circle cx="298.60" cy="619.60" r="4.4" fill="#f2d20a"/>
<circle cx="253.50" cy="637.90" r="4.4" fill="#f2d20a"/>
<circle cx="307.50" cy="647.60" r="4.4" fill="#f2d20a"/>
<circle cx="277.60" cy="866.80" r="4.4" fill="#2fbcbc"/>
<circle cx="294.30" cy="869.70" r="4.4" fill="#2fbcbc"/>
<circle cx="264.20" cy="895.20" r="4.4" fill="#2fbcbc"/>
<circle cx="286.90" cy="852.20" r="4.4" fill="#1c3f91"/>
<circle cx="295.30" cy="867.70" r="4.4" fill="#1c3f91"/>
<circle cx="322.10" cy="849.10" r="4.4" fill="#1c3f91"/>
<rect x="72.00" y="608.60" width="259.80" height="297.90" fill="none" stroke="#000" stroke-width="1.6"/>
<line x1="89.12" y1="906.50" x2="89.12" y2="917.00" stroke="#000" stroke-width="1.6"/>
<text x="76.14" y="941.00" font-size="23.2" fill="#000">−6</text>
<line x1="126.28" y1="906.50" x2="126.28" y2="917.00" stroke="#000" stroke-width="1.6"/>
<text x="113.12" y="941.00" font-size="23.2" fill="#000">−4</text>
<line x1="163.44" y1="906.50" x2="163.44" y2="917.00" stroke="#000" stroke-width="1.6"/>
<text x="150.52" y="941.00" font-size="23.2" fill="#000">−2</text>
<line x1="200.60" y1="906.50" x2="200.60" y2="917.00" stroke="#000" stroke-width="1.6"/>
<text x="194.16" y="941.00" font-size="23.2" fill="#000">0</text>
<line x1="237.76" y1="906.50" x2="237.76" y2="917.00" stroke="#000" stroke-width="1.6"/>
<text x="231.32" y="941.00" font-size="23.2" fill="#000">2</text>
<line x1="274.92" y1="906.50" x2="274.92" y2="917.00" stroke="#000" stroke-width="1.6"/>
<text x="268.54" y="941.00" font-size="23.2" fill="#000">4</text>
<line x1="312.08" y1="906.50" x2="312.08" y2="917.00" stroke="#000" stroke-width="1.6"/>
<text x="305.58" y="941.00" font-size="23.2" fill="#000">6</text>
<line x1="61.70" y1="868.00" x2="72.00" y2="868.00" stroke="#000" stroke-width="1.6"/>
<text x="0" y="0" font-size="23.2" fill="#000" transform="translate(52.70,883.46) rotate(-90)">−4</text>
<line x1="61.70" y1="807.40" x2="72.00" y2="807.40" stroke="#000" stroke-width="1.6"/>
<text x="0" y="0" font-size="23.2" fill="#000" transform="translate(52.70,822.62) rotate(-90)">−2</text>
<line x1="61.70" y1="746.80" x2="72.00" y2="746.80" stroke="#000" stroke-width="1.6"/>
<text x="0" y="0" font-size="23.2" fill="#000" transform="translate(52.70,755.54) rotate(-90)">0</text>
<line x1="61.70" y1="686.20" x2="72.00" y2="686.20" stroke="#000" stroke-width="1.6"/>
<text x="0" y="0" font-size="23.2" fill="#000" transform="translate(52.70,694.94) rotate(-90)">2</text>
<line x1="61.70" y1="625.60" x2="72.00" y2="625.60" stroke="#000" stroke-width="1.6"/>
<text x="0" y="0" font-size="23.2" fill="#000" transform="translate(52.70,634.28) rotate(-90)">4</text>
<text x="93.94" y="971.70" font-size="25.8" fill="#000">PC1: 47% variance</text>
<text x="0" y="0" font-size="25.8" fill="#000" transform="translate(22.30,856.56) rotate(-90)">PC2: 25% variance</text>
<text x="0.98" y="562.90" font-size="25" font-weight="bold" fill="#000">B</text>
<rect x="46.90" y="1000.30" width="24.70" height="99.20" fill="#e4e4ea" stroke="none" stroke-width="0"/>
<rect x="218.30" y="1000.30" width="24.50" height="99.20" fill="#e4e4ea" stroke="none" stroke-width="0"/>
<circle cx="58.80" cy="1012.90" r="6.2" fill="#f07b78"/>
<text x="79.29" y="1018.40" font-size="18.1" fill="#000">Sham-mPFC-F</text>
<circle cx="58.80" cy="1037.70" r="6.2" fill="#c98a2b"/>
<text x="79.29" y="1043.20" font-size="18.1" fill="#000">SNI-mPFC-F</text>
<circle cx="58.80" cy="1062.40" r="6.2" fill="#6aa038"/>
<text x="79.29" y="1067.90" font-size="18.1" fill="#000">Sham-mPFC-M</text>
<circle cx="58.80" cy="1087.20" r="6.2" fill="#d91e26"/>
<text x="79.29" y="1092.70" font-size="18.1" fill="#000">SNI-mPFC-M</text>
<circle cx="231.30" cy="1012.90" r="6.2" fill="#2fbcbc"/>
<text x="251.19" y="1018.40" font-size="18.1" fill="#000">Sham-ACC-F</text>
<circle cx="231.30" cy="1037.70" r="6.2" fill="#1c3f91"/>
<text x="251.19" y="1043.20" font-size="18.1" fill="#000">SNI-ACC-F</text>
<circle cx="231.30" cy="1062.40" r="6.2" fill="#9b87cc"/>
<text x="251.19" y="1067.90" font-size="18.1" fill="#000">Sham-ACC-M</text>
<circle cx="231.30" cy="1087.20" r="6.2" fill="#f2d20a"/>
<text x="251.19" y="1092.70" font-size="18.1" fill="#000">SNI-ACC-M</text>
<rect x="120.80" y="1531.30" width="40.20" height="37.53" fill="#ea464e" stroke="none" stroke-width="0"/>
<rect x="120.80" y="1568.82" width="40.20" height="20.58" fill="#2b55a6" stroke="none" stroke-width="0"/>
<rect x="181.30" y="1333.98" width="40.20" height="111.37" fill="#ea464e" stroke="none" stroke-width="0"/>
<rect x="181.30" y="1445.35" width="40.20" height="144.05" fill="#2b55a6" stroke="none" stroke-width="0"/>
<rect x="241.80" y="1517.98" width="40.20" height="20.58" fill="#ea464e" stroke="none" stroke-width="0"/>
<rect x="241.80" y="1538.56" width="40.20" height="50.84" fill="#2b55a6" stroke="none" stroke-width="0"/>
<rect x="302.20" y="1579.72" width="40.20" height="4.84" fill="#ea464e" stroke="none" stroke-width="0"/>
<rect x="302.20" y="1584.56" width="40.20" height="4.84" fill="#2b55a6" stroke="none" stroke-width="0"/>
<line x1="100.00" y1="1286.20" x2="100.00" y2="1590.20" stroke="#000" stroke-width="1.8"/>
<line x1="100.00" y1="1589.40" x2="364.00" y2="1589.40" stroke="#000" stroke-width="1.8"/>
<line x1="87.80" y1="1589.40" x2="100.00" y2="1589.40" stroke="#000" stroke-width="1.8"/>
<text x="71.05" y="1598.30" font-size="23.2" fill="#000">0</text>
<line x1="87.80" y1="1528.88" x2="100.00" y2="1528.88" stroke="#000" stroke-width="1.8"/>
<text x="58.18" y="1537.78" font-size="23.2" fill="#000">50</text>
<line x1="87.80" y1="1468.35" x2="100.00" y2="1468.35" stroke="#000" stroke-width="1.8"/>
<text x="45.30" y="1477.25" font-size="23.2" fill="#000">100</text>
<line x1="87.80" y1="1407.83" x2="100.00" y2="1407.83" stroke="#000" stroke-width="1.8"/>
<text x="45.30" y="1416.73" font-size="23.2" fill="#000">150</text>
<line x1="87.80" y1="1347.30" x2="100.00" y2="1347.30" stroke="#000" stroke-width="1.8"/>
<text x="45.30" y="1356.20" font-size="23.2" fill="#000">200</text>
<line x1="87.80" y1="1286.78" x2="100.00" y2="1286.78" stroke="#000" stroke-width="1.8"/>
<text x="45.30" y="1295.68" font-size="23.2" fill="#000">250</text>
<line x1="140.90" y1="1589.40" x2="140.90" y2="1602.20" stroke="#000" stroke-width="1.8"/>
<line x1="201.40" y1="1589.40" x2="201.40" y2="1602.20" stroke="#000" stroke-width="1.8"/>
<line x1="261.90" y1="1589.40" x2="261.90" y2="1602.20" stroke="#000" stroke-width="1.8"/>
<line x1="322.30" y1="1589.40" x2="322.30" y2="1602.20" stroke="#000" stroke-width="1.8"/>
<text x="127.64" y="1556.70" font-size="24.3" fill="#fff">31</text>
<text x="127.21" y="1585.60" font-size="24.3" fill="#fff">17</text>
<text x="187.97" y="1402.40" font-size="24.3" fill="#fff">92</text>
<text x="181.66" y="1519.70" font-size="24.3" fill="#fff">119</text>
<text x="248.11" y="1541.00" font-size="24.3" fill="#fff">17</text>
<text x="248.72" y="1570.00" font-size="24.3" fill="#fff">42</text>
<text x="315.62" y="1546.20" font-size="24.3" fill="#000">4</text>
<text x="315.62" y="1575.60" font-size="24.3" fill="#000">4</text>
<rect x="143.30" y="1285.80" width="32.20" height="15.50" fill="#ea464e" stroke="none" stroke-width="0"/>
<rect x="240.30" y="1285.80" width="32.50" height="15.50" fill="#2b55a6" stroke="none" stroke-width="0"/>
<text x="193.05" y="1301.30" font-size="25.4" fill="#000">up</text>
<text x="290.68" y="1301.30" font-size="25.4" fill="#000">down</text>
<text x="0" y="0" font-size="25.2" font-weight="bold" fill="#000" transform="translate(26.40,1537.64) rotate(-90)">number of DEGs</text>
<text x="1.80" y="1199.90" font-size="25" font-weight="bold" fill="#000">C</text>
<text x="0" y="0" font-size="23.7" font-weight="bold" text-anchor="end" transform="translate(149.8,1619.8) rotate(-45)">mPFC-F</text>
<text x="0" y="0" font-size="23.7" font-weight="bold" text-anchor="end" transform="translate(211.2,1619.5) rotate(-45)">mPFC-M</text>
<text x="0" y="0" font-size="23.7" font-weight="bold" text-anchor="end" transform="translate(270.6,1620.7) rotate(-45)">ACC-F</text>
<text x="0" y="0" font-size="23.7" font-weight="bold" text-anchor="end" transform="translate(331.8,1620.9) rotate(-45)">ACC-M</text>
<circle cx="715.92" cy="995.32" r="3.1" fill="#b5b5b5"/>
<circle cx="717.67" cy="1005.62" r="3.1" fill="#b5b5b5"/>
<circle cx="680.62" cy="1012.56" r="3.1" fill="#b5b5b5"/>
<circle cx="760.83" cy="1017.71" r="3.1" fill="#b5b5b5"/>
<circle cx="747.71" cy="1003.02" r="3.1" fill="#b5b5b5"/>
<circle cx="737.44" cy="1021.32" r="3.1" fill="#b5b5b5"/>
<circle cx="725.95" cy="1018.64" r="3.1" fill="#b5b5b5"/>
<circle cx="688.18" cy="1010.53" r="3.1" fill="#b5b5b5"/>
<circle cx="714.36" cy="1008.50" r="3.1" fill="#b5b5b5"/>
<circle cx="740.70" cy="1009.43" r="3.1" fill="#b5b5b5"/>
<circle cx="716.58" cy="992.57" r="3.1" fill="#b5b5b5"/>
<circle cx="749.60" cy="1017.92" r="3.1" fill="#b5b5b5"/>
<circle cx="694.39" cy="1003.92" r="3.1" fill="#b5b5b5"/>
<circle cx="709.07" cy="1011.99" r="3.1" fill="#b5b5b5"/>
<circle cx="656.35" cy="1011.87" r="3.1" fill="#b5b5b5"/>
<circle cx="718.25" cy="1011.38" r="3.1" fill="#b5b5b5"/>
<circle cx="665.91" cy="1012.70" r="3.1" fill="#b5b5b5"/>
<circle cx="691.85" cy="1014.40" r="3.1" fill="#b5b5b5"/>
<circle cx="671.83" cy="1020.33" r="3.1" fill="#b5b5b5"/>
<circle cx="679.70" cy="1015.52" r="3.1" fill="#b5b5b5"/>
<circle cx="681.42" cy="1019.96" r="3.1" fill="#b5b5b5"/>
<circle cx="741.15" cy="1014.45" r="3.1" fill="#b5b5b5"/>
<circle cx="684.34" cy="1001.73" r="3.1" fill="#b5b5b5"/>
<circle cx="762.21" cy="1010.16" r="3.1" fill="#b5b5b5"/>
<circle cx="684.06" cy="1004.88" r="3.1" fill="#b5b5b5"/>
<circle cx="740.91" cy="1002.50" r="3.1" fill="#b5b5b5"/>
<circle cx="684.39" cy="1006.23" r="3.1" fill="#b5b5b5"/>
<circle cx="699.65" cy="1020.06" r="3.1" fill="#b5b5b5"/>
<circle cx="668.16" cy="1018.92" r="3.1" fill="#b5b5b5"/>
<circle cx="735.56" cy="1011.55" r="3.1" fill="#b5b5b5"/>
<circle cx="782.74" cy="1013.03" r="3.1" fill="#b5b5b5"/>
<circle cx="770.53" cy="1018.77" r="3.1" fill="#b5b5b5"/>
<circle cx="689.17" cy="1002.74" r="3.1" fill="#b5b5b5"/>
<circle cx="780.27" cy="1008.52" r="3.1" fill="#b5b5b5"/>
<circle cx="772.60" cy="1016.05" r="3.1" fill="#b5b5b5"/>
<circle cx="669.97" cy="1007.38" r="3.1" fill="#b5b5b5"/>
<circle cx="687.71" cy="1015.97" r="3.1" fill="#b5b5b5"/>
<circle cx="764.89" cy="1017.28" r="3.1" fill="#b5b5b5"/>
<circle cx="679.41" cy="1020.80" r="3.1" fill="#b5b5b5"/>
<circle cx="686.39" cy="1001.26" r="3.1" fill="#b5b5b5"/>
<circle cx="737.28" cy="1000.65" r="3.1" fill="#b5b5b5"/>
<circle cx="683.17" cy="1017.44" r="3.1" fill="#b5b5b5"/>
<circle cx="715.04" cy="1017.68" r="3.1" fill="#b5b5b5"/>
<circle cx="704.90" cy="1018.29" r="3.1" fill="#b5b5b5"/>
<circle cx="704.03" cy="988.90" r="3.1" fill="#b5b5b5"/>
<circle cx="742.90" cy="1011.59" r="3.1" fill="#b5b5b5"/>
<circle cx="674.78" cy="1021.33" r="3.1" fill="#b5b5b5"/>
<circle cx="719.86" cy="1013.89" r="3.1" fill="#b5b5b5"/>
<circle cx="788.05" cy="1014.18" r="3.1" fill="#b5b5b5"/>
<circle cx="753.47" cy="1010.49" r="3.1" fill="#b5b5b5"/>
<circle cx="776.92" cy="1011.83" r="3.1" fill="#b5b5b5"/>
<circle cx="711.28" cy="998.91" r="3.1" fill="#b5b5b5"/>
<circle cx="731.80" cy="1013.69" r="3.1" fill="#b5b5b5"/>
<circle cx="733.11" cy="1020.14" r="3.1" fill="#b5b5b5"/>
<circle cx="707.49" cy="1005.24" r="3.1" fill="#b5b5b5"/>
<circle cx="714.36" cy="1019.90" r="3.1" fill="#b5b5b5"/>
<circle cx="755.20" cy="1014.31" r="3.1" fill="#b5b5b5"/>
<circle cx="719.69" cy="1002.66" r="3.1" fill="#b5b5b5"/>
<circle cx="721.84" cy="998.59" r="3.1" fill="#b5b5b5"/>
<circle cx="690.01" cy="1014.89" r="3.1" fill="#b5b5b5"/>
<circle cx="745.69" cy="1019.03" r="3.1" fill="#b5b5b5"/>
<circle cx="775.70" cy="1015.01" r="3.1" fill="#b5b5b5"/>
<circle cx="773.86" cy="1013.13" r="3.1" fill="#b5b5b5"/>
<circle cx="682.45" cy="1008.02" r="3.1" fill="#b5b5b5"/>
<circle cx="706.96" cy="1013.23" r="3.1" fill="#b5b5b5"/>
<circle cx="674.23" cy="1007.55" r="3.1" fill="#b5b5b5"/>
<circle cx="768.18" cy="1009.32" r="3.1" fill="#b5b5b5"/>
<circle cx="692.77" cy="1011.66" r="3.1" fill="#b5b5b5"/>
<circle cx="692.56" cy="1012.53" r="3.1" fill="#b5b5b5"/>
<circle cx="738.78" cy="1015.86" r="3.1" fill="#b5b5b5"/>
<circle cx="715.94" cy="1020.96" r="3.1" fill="#b5b5b5"/>
<circle cx="771.36" cy="1012.99" r="3.1" fill="#b5b5b5"/>
<circle cx="731.51" cy="1003.69" r="3.1" fill="#b5b5b5"/>
<circle cx="658.80" cy="1016.87" r="3.1" fill="#b5b5b5"/>
<circle cx="687.58" cy="1020.72" r="3.1" fill="#b5b5b5"/>
<circle cx="739.24" cy="1009.31" r="3.1" fill="#b5b5b5"/>
<circle cx="742.65" cy="1003.94" r="3.1" fill="#b5b5b5"/>
<circle cx="746.53" cy="1013.45" r="3.1" fill="#b5b5b5"/>
<circle cx="701.86" cy="1006.28" r="3.1" fill="#b5b5b5"/>
<circle cx="737.29" cy="1013.63" r="3.1" fill="#b5b5b5"/>
<circle cx="751.53" cy="1014.64" r="3.1" fill="#b5b5b5"/>
<circle cx="705.96" cy="993.72" r="3.1" fill="#b5b5b5"/>
<circle cx="717.42" cy="1016.77" r="3.1" fill="#b5b5b5"/>
<circle cx="740.88" cy="1018.24" r="3.1" fill="#b5b5b5"/>
<circle cx="785.15" cy="1012.53" r="3.1" fill="#b5b5b5"/>
<circle cx="698.52" cy="998.80" r="3.1" fill="#b5b5b5"/>
<circle cx="702.23" cy="1008.78" r="3.1" fill="#b5b5b5"/>
<circle cx="728.84" cy="1012.65" r="3.1" fill="#b5b5b5"/>
<circle cx="679.07" cy="1009.92" r="3.1" fill="#b5b5b5"/>
<circle cx="674.80" cy="1013.52" r="3.1" fill="#b5b5b5"/>
<circle cx="721.23" cy="1019.93" r="3.1" fill="#b5b5b5"/>
<circle cx="685.47" cy="1016.05" r="3.1" fill="#b5b5b5"/>
<circle cx="752.38" cy="1013.92" r="3.1" fill="#b5b5b5"/>
<circle cx="767.51" cy="1017.09" r="3.1" fill="#b5b5b5"/>
<circle cx="725.40" cy="1018.39" r="3.1" fill="#b5b5b5"/>
<circle cx="726.94" cy="1010.85" r="3.1" fill="#b5b5b5"/>
<circle cx="724.32" cy="1005.31" r="3.1" fill="#b5b5b5"/>
<circle cx="730.49" cy="1007.04" r="3.1" fill="#b5b5b5"/>
<circle cx="664.97" cy="1017.37" r="3.1" fill="#b5b5b5"/>
<circle cx="691.77" cy="1019.15" r="3.1" fill="#b5b5b5"/>
<circle cx="713.46" cy="997.50" r="3.1" fill="#b5b5b5"/>
<circle cx="719.11" cy="1017.18" r="3.1" fill="#b5b5b5"/>
<circle cx="659.28" cy="1019.41" r="3.1" fill="#b5b5b5"/>
<circle cx="746.87" cy="1015.68" r="3.1" fill="#b5b5b5"/>
<circle cx="738.00" cy="1006.04" r="3.1" fill="#b5b5b5"/>
<circle cx="672.47" cy="1018.10" r="3.1" fill="#b5b5b5"/>
<circle cx="682.35" cy="1014.89" r="3.1" fill="#b5b5b5"/>
<circle cx="705.82" cy="1005.94" r="3.1" fill="#b5b5b5"/>
<circle cx="677.34" cy="1012.07" r="3.1" fill="#b5b5b5"/>
<circle cx="740.46" cy="1005.24" r="3.1" fill="#b5b5b5"/>
<circle cx="736.93" cy="1017.12" r="3.1" fill="#b5b5b5"/>
<circle cx="775.30" cy="1016.49" r="3.1" fill="#b5b5b5"/>
<circle cx="777.95" cy="1007.77" r="3.1" fill="#b5b5b5"/>
<circle cx="773.30" cy="1017.81" r="3.1" fill="#b5b5b5"/>
<circle cx="752.08" cy="1020.02" r="3.1" fill="#b5b5b5"/>
<circle cx="766.00" cy="1010.87" r="3.1" fill="#b5b5b5"/>
<circle cx="672.89" cy="1010.56" r="3.1" fill="#b5b5b5"/>
<circle cx="658.62" cy="1014.13" r="3.1" fill="#b5b5b5"/>
<circle cx="671.49" cy="1009.78" r="3.1" fill="#b5b5b5"/>
<circle cx="722.57" cy="1018.00" r="3.1" fill="#b5b5b5"/>
<circle cx="665.58" cy="1021.23" r="3.1" fill="#b5b5b5"/>
<circle cx="729.02" cy="1010.83" r="3.1" fill="#b5b5b5"/>
<circle cx="675.60" cy="1018.80" r="3.1" fill="#b5b5b5"/>
<circle cx="778.49" cy="1017.92" r="3.1" fill="#b5b5b5"/>
<circle cx="781.74" cy="1011.01" r="3.1" fill="#b5b5b5"/>
<circle cx="699.37" cy="1008.18" r="3.1" fill="#b5b5b5"/>
<circle cx="712.98" cy="1021.31" r="3.1" fill="#b5b5b5"/>
<circle cx="680.18" cy="1010.88" r="3.1" fill="#b5b5b5"/>
<circle cx="709.72" cy="1018.01" r="3.1" fill="#b5b5b5"/>
<circle cx="723.86" cy="1002.56" r="3.1" fill="#b5b5b5"/>
<circle cx="739.26" cy="1010.00" r="3.1" fill="#b5b5b5"/>
<circle cx="754.43" cy="1011.00" r="3.1" fill="#b5b5b5"/>
<circle cx="709.76" cy="997.61" r="3.1" fill="#b5b5b5"/>
<circle cx="747.89" cy="1007.60" r="3.1" fill="#b5b5b5"/>
<circle cx="709.78" cy="1020.19" r="3.1" fill="#b5b5b5"/>
<circle cx="701.33" cy="1021.33" r="3.1" fill="#b5b5b5"/>
<circle cx="703.17" cy="1002.18" r="3.1" fill="#b5b5b5"/>
<circle cx="744.10" cy="1010.16" r="3.1" fill="#b5b5b5"/>
<circle cx="748.74" cy="1003.31" r="3.1" fill="#b5b5b5"/>
<circle cx="753.69" cy="1016.28" r="3.1" fill="#b5b5b5"/>
<circle cx="662.93" cy="1017.88" r="3.1" fill="#b5b5b5"/>
<circle cx="669.26" cy="1009.00" r="3.1" fill="#b5b5b5"/>
<circle cx="728.80" cy="1002.07" r="3.1" fill="#b5b5b5"/>
<circle cx="740.40" cy="1020.48" r="3.1" fill="#b5b5b5"/>
<circle cx="735.06" cy="1020.79" r="3.1" fill="#b5b5b5"/>
<circle cx="778.92" cy="1013.78" r="3.1" fill="#b5b5b5"/>
<circle cx="678.58" cy="1012.75" r="3.1" fill="#b5b5b5"/>
<circle cx="711.75" cy="1006.75" r="3.1" fill="#b5b5b5"/>
<circle cx="704.48" cy="1001.06" r="3.1" fill="#b5b5b5"/>
<circle cx="730.20" cy="1006.66" r="3.1" fill="#b5b5b5"/>
<circle cx="695.31" cy="1016.76" r="3.1" fill="#b5b5b5"/>
<circle cx="661.92" cy="1013.35" r="3.1" fill="#b5b5b5"/>
<circle cx="707.69" cy="999.93" r="3.1" fill="#b5b5b5"/>
<circle cx="780.81" cy="1009.20" r="3.1" fill="#b5b5b5"/>
<circle cx="712.91" cy="995.50" r="3.1" fill="#b5b5b5"/>
<circle cx="688.41" cy="996.85" r="3.1" fill="#b5b5b5"/>
<circle cx="751.57" cy="1005.49" r="3.1" fill="#b5b5b5"/>
<circle cx="763.96" cy="1019.35" r="3.1" fill="#b5b5b5"/>
<circle cx="738.59" cy="1018.06" r="3.1" fill="#b5b5b5"/>
<circle cx="663.14" cy="1020.48" r="3.1" fill="#b5b5b5"/>
<circle cx="714.67" cy="1010.23" r="3.1" fill="#b5b5b5"/>
<circle cx="690.84" cy="1011.98" r="3.1" fill="#b5b5b5"/>
<circle cx="758.86" cy="1010.21" r="3.1" fill="#b5b5b5"/>
<circle cx="687.71" cy="998.35" r="3.1" fill="#b5b5b5"/>
<circle cx="759.69" cy="1017.32" r="3.1" fill="#b5b5b5"/>
<circle cx="692.08" cy="1008.52" r="3.1" fill="#b5b5b5"/>
<circle cx="734.29" cy="1003.38" r="3.1" fill="#b5b5b5"/>
<circle cx="681.30" cy="1006.01" r="3.1" fill="#b5b5b5"/>
<circle cx="661.49" cy="1018.98" r="3.1" fill="#b5b5b5"/>
<circle cx="712.34" cy="1019.56" r="3.1" fill="#b5b5b5"/>
<circle cx="727.70" cy="1020.35" r="3.1" fill="#b5b5b5"/>
<circle cx="745.45" cy="1010.57" r="3.1" fill="#b5b5b5"/>
<circle cx="705.48" cy="1016.06" r="3.1" fill="#b5b5b5"/>
<circle cx="701.59" cy="995.41" r="3.1" fill="#b5b5b5"/>
<circle cx="712.23" cy="1000.58" r="3.1" fill="#b5b5b5"/>
<circle cx="699.18" cy="1001.34" r="3.1" fill="#b5b5b5"/>
<circle cx="777.69" cy="1015.16" r="3.1" fill="#b5b5b5"/>
<circle cx="666.63" cy="1015.23" r="3.1" fill="#b5b5b5"/>
<circle cx="758.53" cy="1018.93" r="3.1" fill="#b5b5b5"/>
<circle cx="743.58" cy="1016.85" r="3.1" fill="#b5b5b5"/>
<circle cx="751.87" cy="1017.42" r="3.1" fill="#b5b5b5"/>
<circle cx="675.12" cy="1009.75" r="3.1" fill="#b5b5b5"/>
<circle cx="704.59" cy="999.13" r="3.1" fill="#b5b5b5"/>
<circle cx="714.03" cy="1014.51" r="3.1" fill="#b5b5b5"/>
<circle cx="698.16" cy="996.90" r="3.1" fill="#b5b5b5"/>
<circle cx="704.48" cy="1010.05" r="3.1" fill="#b5b5b5"/>
<circle cx="707.38" cy="1005.71" r="3.1" fill="#b5b5b5"/>
<circle cx="761.38" cy="1011.17" r="3.1" fill="#b5b5b5"/>
<circle cx="730.48" cy="1005.40" r="3.1" fill="#b5b5b5"/>
<circle cx="772.43" cy="1019.76" r="3.1" fill="#b5b5b5"/>
<circle cx="724.27" cy="1010.57" r="3.1" fill="#b5b5b5"/>
<circle cx="762.33" cy="1014.52" r="3.1" fill="#b5b5b5"/>
<circle cx="760.19" cy="1019.99" r="3.1" fill="#b5b5b5"/>
<circle cx="667.44" cy="1020.14" r="3.1" fill="#b5b5b5"/>
<circle cx="754.61" cy="1018.46" r="3.1" fill="#b5b5b5"/>
<circle cx="685.34" cy="1010.92" r="3.1" fill="#b5b5b5"/>
<circle cx="757.11" cy="1017.75" r="3.1" fill="#b5b5b5"/>
<circle cx="721.37" cy="1003.57" r="3.1" fill="#b5b5b5"/>
<circle cx="710.42" cy="1004.46" r="3.1" fill="#b5b5b5"/>
<circle cx="725.35" cy="1006.18" r="3.1" fill="#b5b5b5"/>
<circle cx="664.08" cy="1020.57" r="3.1" fill="#b5b5b5"/>
<circle cx="741.72" cy="1018.90" r="3.1" fill="#b5b5b5"/>
<circle cx="664.50" cy="1015.43" r="3.1" fill="#b5b5b5"/>
<circle cx="776.17" cy="1018.22" r="3.1" fill="#b5b5b5"/>
<circle cx="680.61" cy="1018.62" r="3.1" fill="#b5b5b5"/>
<circle cx="756.16" cy="1015.30" r="3.1" fill="#b5b5b5"/>
<circle cx="701.38" cy="991.38" r="3.1" fill="#b5b5b5"/>
<circle cx="719.91" cy="1020.60" r="3.1" fill="#b5b5b5"/>
<circle cx="707.04" cy="1007.04" r="3.1" fill="#b5b5b5"/>
<circle cx="692.48" cy="1006.20" r="3.1" fill="#b5b5b5"/>
<circle cx="705.27" cy="999.25" r="3.1" fill="#b5b5b5"/>
<circle cx="736.19" cy="1018.63" r="3.1" fill="#b5b5b5"/>
<circle cx="724.33" cy="1000.79" r="3.1" fill="#b5b5b5"/>
<circle cx="757.85" cy="1012.45" r="3.1" fill="#b5b5b5"/>
<circle cx="667.14" cy="1013.03" r="3.1" fill="#b5b5b5"/>
<circle cx="669.09" cy="1015.71" r="3.1" fill="#b5b5b5"/>
<circle cx="782.26" cy="1010.39" r="3.1" fill="#b5b5b5"/>
<circle cx="696.31" cy="1012.57" r="3.1" fill="#b5b5b5"/>
<circle cx="777.16" cy="1010.07" r="3.1" fill="#b5b5b5"/>
<circle cx="683.76" cy="1012.25" r="3.1" fill="#b5b5b5"/>
<circle cx="697.34" cy="1020.19" r="3.1" fill="#b5b5b5"/>
<circle cx="696.58" cy="1004.74" r="3.1" fill="#b5b5b5"/>
<circle cx="703.71" cy="1018.98" r="3.1" fill="#b5b5b5"/>
<circle cx="708.26" cy="993.25" r="3.1" fill="#b5b5b5"/>
<circle cx="765.68" cy="1020.20" r="3.1" fill="#b5b5b5"/>
<circle cx="706.00" cy="1015.34" r="3.1" fill="#b5b5b5"/>
<circle cx="730.66" cy="1021.38" r="3.1" fill="#b5b5b5"/>
<circle cx="683.53" cy="1016.92" r="3.1" fill="#b5b5b5"/>
<circle cx="705.85" cy="1013.46" r="3.1" fill="#b5b5b5"/>
<circle cx="700.76" cy="1002.17" r="3.1" fill="#b5b5b5"/>
<circle cx="690.09" cy="1003.18" r="3.1" fill="#b5b5b5"/>
<circle cx="699.71" cy="1006.46" r="3.1" fill="#b5b5b5"/>
<circle cx="751.71" cy="1008.37" r="3.1" fill="#b5b5b5"/>
<circle cx="668.44" cy="1020.61" r="3.1" fill="#b5b5b5"/>
<circle cx="709.32" cy="1006.09" r="3.1" fill="#b5b5b5"/>
<circle cx="777.66" cy="1013.61" r="3.1" fill="#b5b5b5"/>
<circle cx="741.62" cy="1006.50" r="3.1" fill="#b5b5b5"/>
<circle cx="707.17" cy="1010.39" r="3.1" fill="#b5b5b5"/>
<circle cx="658.31" cy="1013.94" r="3.1" fill="#b5b5b5"/>
<circle cx="743.33" cy="1021.31" r="3.1" fill="#b5b5b5"/>
<circle cx="699.92" cy="1003.51" r="3.1" fill="#b5b5b5"/>
<circle cx="670.29" cy="1014.57" r="3.1" fill="#b5b5b5"/>
<circle cx="736.90" cy="1004.23" r="3.1" fill="#b5b5b5"/>
<circle cx="722.26" cy="1004.95" r="3.1" fill="#b5b5b5"/>
<circle cx="786.39" cy="1013.39" r="3.1" fill="#b5b5b5"/>
<circle cx="766.44" cy="1008.81" r="3.1" fill="#b5b5b5"/>
<circle cx="738.96" cy="1020.29" r="3.1" fill="#b5b5b5"/>
<circle cx="688.53" cy="1003.95" r="3.1" fill="#b5b5b5"/>
<circle cx="699.68" cy="1012.48" r="3.1" fill="#b5b5b5"/>
<circle cx="717.33" cy="993.15" r="3.1" fill="#b5b5b5"/>
<circle cx="727.93" cy="1011.52" r="3.1" fill="#b5b5b5"/>
<circle cx="691.13" cy="996.08" r="3.1" fill="#b5b5b5"/>
<circle cx="765.01" cy="1009.31" r="3.1" fill="#b5b5b5"/>
<circle cx="688.04" cy="1000.10" r="3.1" fill="#b5b5b5"/>
<circle cx="660.50" cy="1010.23" r="3.1" fill="#b5b5b5"/>
<circle cx="696.84" cy="1003.96" r="3.1" fill="#b5b5b5"/>
<circle cx="706.60" cy="997.00" r="3.1" fill="#b5b5b5"/>
<circle cx="658.43" cy="1016.73" r="3.1" fill="#b5b5b5"/>
<circle cx="675.13" cy="1012.61" r="3.1" fill="#b5b5b5"/>
<circle cx="679.18" cy="1018.22" r="3.1" fill="#b5b5b5"/>
<circle cx="735.40" cy="1012.55" r="3.1" fill="#b5b5b5"/>
<circle cx="755.39" cy="1009.31" r="3.1" fill="#b5b5b5"/>
<circle cx="710.21" cy="1007.31" r="3.1" fill="#b5b5b5"/>
<circle cx="775.64" cy="1014.11" r="3.1" fill="#b5b5b5"/>
<circle cx="735.06" cy="1015.11" r="3.1" fill="#b5b5b5"/>
<circle cx="734.52" cy="1019.21" r="3.1" fill="#b5b5b5"/>
<circle cx="715.21" cy="1011.76" r="3.1" fill="#b5b5b5"/>
<circle cx="725.66" cy="1016.50" r="3.1" fill="#b5b5b5"/>
<circle cx="708.43" cy="1020.17" r="3.1" fill="#b5b5b5"/>
<circle cx="711.84" cy="1016.78" r="3.1" fill="#b5b5b5"/>
<circle cx="754.72" cy="1009.99" r="3.1" fill="#b5b5b5"/>
<circle cx="672.60" cy="1005.66" r="3.1" fill="#b5b5b5"/>
<circle cx="656.35" cy="1018.82" r="3.1" fill="#b5b5b5"/>
<circle cx="699.10" cy="996.76" r="3.1" fill="#b5b5b5"/>
<circle cx="763.80" cy="1016.61" r="3.1" fill="#b5b5b5"/>
<circle cx="774.75" cy="1014.72" r="3.1" fill="#b5b5b5"/>
<circle cx="718.60" cy="1014.34" r="3.1" fill="#b5b5b5"/>
<circle cx="682.05" cy="1016.43" r="3.1" fill="#b5b5b5"/>
<circle cx="718.58" cy="996.36" r="3.1" fill="#b5b5b5"/>
<circle cx="662.87" cy="1013.77" r="3.1" fill="#b5b5b5"/>
<circle cx="697.55" cy="999.60" r="3.1" fill="#b5b5b5"/>
<circle cx="750.31" cy="1009.77" r="3.1" fill="#b5b5b5"/>
<circle cx="779.93" cy="1017.38" r="3.1" fill="#b5b5b5"/>
<circle cx="685.71" cy="1005.93" r="3.1" fill="#b5b5b5"/>
<circle cx="682.18" cy="1018.30" r="3.1" fill="#b5b5b5"/>
<circle cx="743.91" cy="1015.62" r="3.1" fill="#b5b5b5"/>
<circle cx="692.78" cy="1019.96" r="3.1" fill="#b5b5b5"/>
<circle cx="693.79" cy="1002.79" r="3.1" fill="#b5b5b5"/>
<circle cx="667.77" cy="1012.18" r="3.1" fill="#b5b5b5"/>
<circle cx="688.70" cy="1008.19" r="3.1" fill="#b5b5b5"/>
<circle cx="722.19" cy="1009.01" r="3.1" fill="#b5b5b5"/>
<circle cx="741.32" cy="1009.77" r="3.1" fill="#b5b5b5"/>
<circle cx="759.52" cy="1015.76" r="3.1" fill="#b5b5b5"/>
<circle cx="767.75" cy="1014.65" r="3.1" fill="#b5b5b5"/>
<circle cx="714.35" cy="1000.55" r="3.1" fill="#b5b5b5"/>
<circle cx="760.59" cy="1015.69" r="3.1" fill="#b5b5b5"/>
<circle cx="750.52" cy="1006.52" r="3.1" fill="#b5b5b5"/>
<circle cx="680.01" cy="1021.35" r="3.1" fill="#b5b5b5"/>
<circle cx="721.69" cy="1011.54" r="3.1" fill="#b5b5b5"/>
<circle cx="690.95" cy="1020.24" r="3.1" fill="#b5b5b5"/>
<circle cx="760.65" cy="1019.35" r="3.1" fill="#b5b5b5"/>
<circle cx="697.28" cy="1014.79" r="3.1" fill="#b5b5b5"/>
<circle cx="738.18" cy="1016.74" r="3.1" fill="#b5b5b5"/>
<circle cx="733.90" cy="1001.57" r="3.1" fill="#b5b5b5"/>
<circle cx="678.90" cy="1019.64" r="3.1" fill="#b5b5b5"/>
<circle cx="760.01" cy="1016.71" r="3.1" fill="#b5b5b5"/>
<circle cx="773.64" cy="1016.21" r="3.1" fill="#b5b5b5"/>
<circle cx="695.58" cy="1020.25" r="3.1" fill="#b5b5b5"/>
<circle cx="756.92" cy="1018.83" r="3.1" fill="#b5b5b5"/>
<circle cx="689.66" cy="1016.34" r="3.1" fill="#b5b5b5"/>
<circle cx="717.14" cy="1012.37" r="3.1" fill="#b5b5b5"/>
<circle cx="700.72" cy="1004.05" r="3.1" fill="#b5b5b5"/>
<circle cx="661.51" cy="1014.60" r="3.1" fill="#b5b5b5"/>
<circle cx="663.99" cy="1014.13" r="3.1" fill="#b5b5b5"/>
<circle cx="770.26" cy="1010.79" r="3.1" fill="#b5b5b5"/>
<circle cx="717.27" cy="997.48" r="3.1" fill="#b5b5b5"/>
<circle cx="702.08" cy="1005.18" r="3.1" fill="#b5b5b5"/>
<circle cx="677.88" cy="1018.82" r="3.1" fill="#b5b5b5"/>
<circle cx="717.95" cy="1009.90" r="3.1" fill="#b5b5b5"/>
<circle cx="770.03" cy="1016.49" r="3.1" fill="#b5b5b5"/>
<circle cx="704.12" cy="1021.16" r="3.1" fill="#b5b5b5"/>
<circle cx="680.28" cy="1016.37" r="3.1" fill="#b5b5b5"/>
<circle cx="779.78" cy="1010.49" r="3.1" fill="#b5b5b5"/>
<circle cx="658.97" cy="1017.68" r="3.1" fill="#b5b5b5"/>
<circle cx="663.52" cy="1019.35" r="3.1" fill="#b5b5b5"/>
<circle cx="661.66" cy="1015.27" r="3.1" fill="#b5b5b5"/>
<circle cx="660.47" cy="1017.23" r="3.1" fill="#b5b5b5"/>
<circle cx="728.00" cy="1008.43" r="3.1" fill="#b5b5b5"/>
<circle cx="690.61" cy="1005.22" r="3.1" fill="#b5b5b5"/>
<circle cx="675.68" cy="1017.61" r="3.1" fill="#b5b5b5"/>
<circle cx="750.26" cy="1015.36" r="3.1" fill="#b5b5b5"/>
<circle cx="770.46" cy="1017.44" r="3.1" fill="#b5b5b5"/>
<circle cx="701.76" cy="1020.69" r="3.1" fill="#b5b5b5"/>
<circle cx="730.90" cy="999.53" r="3.1" fill="#b5b5b5"/>
<circle cx="695.58" cy="999.74" r="3.1" fill="#b5b5b5"/>
<circle cx="684.78" cy="1008.15" r="3.1" fill="#b5b5b5"/>
<circle cx="712.67" cy="1020.45" r="3.1" fill="#b5b5b5"/>
<circle cx="718.94" cy="1003.37" r="3.1" fill="#b5b5b5"/>
<circle cx="687.90" cy="1013.80" r="3.1" fill="#b5b5b5"/>
<circle cx="711.96" cy="1007.18" r="3.1" fill="#b5b5b5"/>
<circle cx="748.76" cy="1009.07" r="3.1" fill="#b5b5b5"/>
<circle cx="690.81" cy="1017.76" r="3.1" fill="#b5b5b5"/>
<circle cx="704.09" cy="990.36" r="3.1" fill="#b5b5b5"/>
<circle cx="758.00" cy="1014.72" r="3.1" fill="#b5b5b5"/>
<circle cx="710.46" cy="1015.32" r="3.1" fill="#b5b5b5"/>
<circle cx="706.63" cy="1020.76" r="3.1" fill="#b5b5b5"/>
<circle cx="674.19" cy="1017.07" r="3.1" fill="#b5b5b5"/>
<circle cx="703.80" cy="1017.74" r="3.1" fill="#b5b5b5"/>
<circle cx="681.65" cy="1011.08" r="3.1" fill="#b5b5b5"/>
<circle cx="687.20" cy="1008.74" r="3.1" fill="#b5b5b5"/>
<circle cx="708.21" cy="1008.44" r="3.1" fill="#b5b5b5"/>
<circle cx="742.00" cy="1010.66" r="3.1" fill="#b5b5b5"/>
<circle cx="730.22" cy="1000.49" r="3.1" fill="#b5b5b5"/>
<circle cx="700.25" cy="995.37" r="3.1" fill="#b5b5b5"/>
<circle cx="697.59" cy="1004.52" r="3.1" fill="#b5b5b5"/>
<circle cx="764.98" cy="1013.10" r="3.1" fill="#b5b5b5"/>
<circle cx="720.97" cy="1012.95" r="3.1" fill="#b5b5b5"/>
<circle cx="693.95" cy="1009.84" r="3.1" fill="#b5b5b5"/>
<circle cx="749.21" cy="1013.97" r="3.1" fill="#b5b5b5"/>
<circle cx="663.32" cy="1016.38" r="3.1" fill="#b5b5b5"/>
<circle cx="761.29" cy="1012.74" r="3.1" fill="#b5b5b5"/>
<circle cx="689.48" cy="1014.18" r="3.1" fill="#b5b5b5"/>
<circle cx="700.29" cy="996.79" r="3.1" fill="#b5b5b5"/>
<circle cx="765.52" cy="1015.70" r="3.1" fill="#b5b5b5"/>
<circle cx="761.92" cy="1016.67" r="3.1" fill="#b5b5b5"/>
<circle cx="744.54" cy="1018.88" r="3.1" fill="#b5b5b5"/>
<circle cx="673.91" cy="1015.20" r="3.1" fill="#b5b5b5"/>
<circle cx="739.54" cy="1002.63" r="3.1" fill="#b5b5b5"/>
<circle cx="672.12" cy="1021.25" r="3.1" fill="#b5b5b5"/>
<circle cx="727.82" cy="1015.26" r="3.1" fill="#b5b5b5"/>
<circle cx="697.05" cy="1000.99" r="3.1" fill="#b5b5b5"/>
<circle cx="693.69" cy="1007.64" r="3.1" fill="#b5b5b5"/>
<circle cx="761.78" cy="1018.93" r="3.1" fill="#b5b5b5"/>
<circle cx="689.42" cy="1019.18" r="3.1" fill="#b5b5b5"/>
<circle cx="698.95" cy="1007.03" r="3.1" fill="#b5b5b5"/>
<circle cx="675.22" cy="1017.67" r="3.1" fill="#b5b5b5"/>
<circle cx="686.28" cy="1013.91" r="3.1" fill="#b5b5b5"/>
<circle cx="773.98" cy="1019.15" r="3.1" fill="#b5b5b5"/>
<circle cx="680.34" cy="1006.52" r="3.1" fill="#b5b5b5"/>
<circle cx="682.94" cy="1013.68" r="3.1" fill="#b5b5b5"/>
<circle cx="710.94" cy="1012.24" r="3.1" fill="#b5b5b5"/>
<circle cx="738.43" cy="1001.35" r="3.1" fill="#b5b5b5"/>
<circle cx="714.71" cy="1002.25" r="3.1" fill="#b5b5b5"/>
<circle cx="679.46" cy="1019.54" r="3.1" fill="#b5b5b5"/>
<circle cx="671.94" cy="1016.45" r="3.1" fill="#b5b5b5"/>
<circle cx="755.64" cy="1015.54" r="3.1" fill="#b5b5b5"/>
<circle cx="657.66" cy="1010.78" r="3.1" fill="#b5b5b5"/>
<circle cx="753.24" cy="1010.15" r="3.1" fill="#b5b5b5"/>
<circle cx="786.28" cy="1012.33" r="3.1" fill="#b5b5b5"/>
<circle cx="709.32" cy="1015.78" r="3.1" fill="#b5b5b5"/>
<circle cx="776.22" cy="1013.32" r="3.1" fill="#b5b5b5"/>
<circle cx="742.90" cy="1015.74" r="3.1" fill="#b5b5b5"/>
<circle cx="740.40" cy="1016.98" r="3.1" fill="#b5b5b5"/>
<circle cx="700.42" cy="1016.43" r="3.1" fill="#b5b5b5"/>
<circle cx="754.27" cy="1012.75" r="3.1" fill="#b5b5b5"/>
<circle cx="702.47" cy="1021.35" r="3.1" fill="#b5b5b5"/>
<circle cx="722.54" cy="1015.03" r="3.1" fill="#b5b5b5"/>
<circle cx="698.59" cy="1019.38" r="3.1" fill="#b5b5b5"/>
<circle cx="781.23" cy="1016.23" r="3.1" fill="#b5b5b5"/>
<circle cx="684.27" cy="1003.80" r="3.1" fill="#b5b5b5"/>
<circle cx="769.19" cy="1015.06" r="3.1" fill="#b5b5b5"/>
<circle cx="731.14" cy="1002.84" r="3.1" fill="#b5b5b5"/>
<circle cx="747.24" cy="1009.63" r="3.1" fill="#b5b5b5"/>
<circle cx="711.57" cy="1016.58" r="3.1" fill="#b5b5b5"/>
<circle cx="735.48" cy="1009.94" r="3.1" fill="#b5b5b5"/>
<circle cx="715.19" cy="1005.99" r="3.1" fill="#b5b5b5"/>
<circle cx="697.54" cy="996.10" r="3.1" fill="#b5b5b5"/>
<circle cx="709.29" cy="1018.89" r="3.1" fill="#b5b5b5"/>
<circle cx="786.82" cy="1015.19" r="3.1" fill="#b5b5b5"/>
<circle cx="750.11" cy="1007.52" r="3.1" fill="#b5b5b5"/>
<circle cx="716.15" cy="997.11" r="3.1" fill="#b5b5b5"/>
<circle cx="682.12" cy="1011.37" r="3.1" fill="#b5b5b5"/>
<circle cx="720.98" cy="1000.73" r="3.1" fill="#b5b5b5"/>
<circle cx="728.70" cy="1006.03" r="3.1" fill="#b5b5b5"/>
<circle cx="676.29" cy="1020.32" r="3.1" fill="#b5b5b5"/>
<circle cx="661.13" cy="1011.88" r="3.1" fill="#b5b5b5"/>
<circle cx="766.23" cy="1018.52" r="3.1" fill="#b5b5b5"/>
<circle cx="707.52" cy="1004.09" r="3.1" fill="#b5b5b5"/>
<circle cx="775.18" cy="1008.85" r="3.1" fill="#b5b5b5"/>
<circle cx="752.22" cy="1011.48" r="3.1" fill="#b5b5b5"/>
<circle cx="697.85" cy="1015.49" r="3.1" fill="#b5b5b5"/>
<circle cx="735.79" cy="1018.07" r="3.1" fill="#b5b5b5"/>
<circle cx="673.16" cy="1014.43" r="3.1" fill="#b5b5b5"/>
<circle cx="673.30" cy="1005.63" r="3.1" fill="#b5b5b5"/>
<circle cx="736.71" cy="1017.87" r="3.1" fill="#b5b5b5"/>
<circle cx="712.28" cy="1011.96" r="3.1" fill="#b5b5b5"/>
<circle cx="716.51" cy="994.46" r="3.1" fill="#b5b5b5"/>
<circle cx="701.94" cy="1015.38" r="3.1" fill="#b5b5b5"/>
<circle cx="732.66" cy="1000.66" r="3.1" fill="#b5b5b5"/>
<circle cx="694.05" cy="1006.21" r="3.1" fill="#b5b5b5"/>
<circle cx="716.26" cy="1011.80" r="3.1" fill="#b5b5b5"/>
<circle cx="754.28" cy="1015.88" r="3.1" fill="#b5b5b5"/>
<circle cx="664.74" cy="1018.87" r="3.1" fill="#b5b5b5"/>
<circle cx="714.41" cy="1014.76" r="3.1" fill="#b5b5b5"/>
<circle cx="747.90" cy="1017.62" r="3.1" fill="#b5b5b5"/>
<circle cx="710.54" cy="997.65" r="3.1" fill="#b5b5b5"/>
<circle cx="705.65" cy="1001.02" r="3.1" fill="#b5b5b5"/>
<circle cx="718.14" cy="1009.38" r="3.1" fill="#b5b5b5"/>
<circle cx="697.95" cy="1006.74" r="3.1" fill="#b5b5b5"/>
<circle cx="787.16" cy="1013.18" r="3.1" fill="#b5b5b5"/>
<circle cx="741.98" cy="1002.90" r="3.1" fill="#b5b5b5"/>
<circle cx="683.89" cy="1019.41" r="3.1" fill="#b5b5b5"/>
<circle cx="708.31" cy="1019.81" r="3.1" fill="#b5b5b5"/>
<circle cx="752.65" cy="1019.76" r="3.1" fill="#b5b5b5"/>
<circle cx="659.46" cy="1015.89" r="3.1" fill="#b5b5b5"/>
<circle cx="726.64" cy="1007.02" r="3.1" fill="#b5b5b5"/>
<circle cx="696.04" cy="1019.29" r="3.1" fill="#b5b5b5"/>
<circle cx="731.15" cy="1020.09" r="3.1" fill="#b5b5b5"/>
<circle cx="688.81" cy="1020.57" r="3.1" fill="#b5b5b5"/>
<circle cx="684.97" cy="1010.43" r="3.1" fill="#b5b5b5"/>
<circle cx="716.85" cy="1019.34" r="3.1" fill="#b5b5b5"/>
<circle cx="725.50" cy="1010.35" r="3.1" fill="#b5b5b5"/>
<circle cx="710.78" cy="1018.37" r="3.1" fill="#b5b5b5"/>
<circle cx="764.19" cy="1011.93" r="3.1" fill="#b5b5b5"/>
<circle cx="676.92" cy="1021.23" r="3.1" fill="#b5b5b5"/>
<circle cx="670.81" cy="1006.55" r="3.1" fill="#b5b5b5"/>
<circle cx="708.29" cy="1000.77" r="3.1" fill="#b5b5b5"/>
<circle cx="719.15" cy="1010.55" r="3.1" fill="#b5b5b5"/>
<circle cx="715.72" cy="998.28" r="3.1" fill="#b5b5b5"/>
<circle cx="705.32" cy="1007.27" r="3.1" fill="#b5b5b5"/>
<circle cx="686.64" cy="1010.66" r="3.1" fill="#b5b5b5"/>
<circle cx="657.46" cy="1010.75" r="3.1" fill="#b5b5b5"/>
<circle cx="704.92" cy="1002.81" r="3.1" fill="#b5b5b5"/>
<circle cx="734.00" cy="1010.28" r="3.1" fill="#b5b5b5"/>
<circle cx="724.34" cy="1020.79" r="3.1" fill="#b5b5b5"/>
<circle cx="668.52" cy="1018.52" r="3.1" fill="#b5b5b5"/>
<circle cx="709.32" cy="1003.46" r="3.1" fill="#b5b5b5"/>
<circle cx="765.92" cy="1016.97" r="3.1" fill="#b5b5b5"/>
<circle cx="740.96" cy="1007.42" r="3.1" fill="#b5b5b5"/>
<circle cx="740.49" cy="1003.42" r="3.1" fill="#b5b5b5"/>
<circle cx="755.53" cy="1020.84" r="3.1" fill="#b5b5b5"/>
<circle cx="714.36" cy="1012.48" r="3.1" fill="#b5b5b5"/>
<circle cx="715.30" cy="1019.08" r="3.1" fill="#b5b5b5"/>
<circle cx="698.46" cy="1020.20" r="3.1" fill="#b5b5b5"/>
<circle cx="744.12" cy="1020.01" r="3.1" fill="#b5b5b5"/>
<circle cx="684.12" cy="1011.72" r="3.1" fill="#b5b5b5"/>
<circle cx="766.94" cy="1009.91" r="3.1" fill="#b5b5b5"/>
<circle cx="706.06" cy="992.03" r="3.1" fill="#b5b5b5"/>
<circle cx="758.94" cy="1013.21" r="3.1" fill="#b5b5b5"/>
<circle cx="701.93" cy="1011.84" r="3.1" fill="#b5b5b5"/>
<circle cx="734.26" cy="1013.04" r="3.1" fill="#b5b5b5"/>
<circle cx="733.26" cy="997.29" r="3.1" fill="#b5b5b5"/>
<circle cx="699.53" cy="1016.09" r="3.1" fill="#b5b5b5"/>
<circle cx="690.73" cy="1007.79" r="3.1" fill="#b5b5b5"/>
<circle cx="690.17" cy="1000.50" r="3.1" fill="#b5b5b5"/>
<circle cx="706.06" cy="1009.25" r="3.1" fill="#b5b5b5"/>
<circle cx="737.71" cy="999.62" r="3.1" fill="#b5b5b5"/>
<circle cx="686.78" cy="1019.68" r="3.1" fill="#b5b5b5"/>
<circle cx="748.37" cy="1011.94" r="3.1" fill="#b5b5b5"/>
<circle cx="700.19" cy="993.27" r="3.1" fill="#b5b5b5"/>
<circle cx="733.07" cy="998.99" r="3.1" fill="#b5b5b5"/>
<circle cx="751.02" cy="1007.21" r="3.1" fill="#b5b5b5"/>
<circle cx="752.12" cy="1017.96" r="3.1" fill="#b5b5b5"/>
<circle cx="720.21" cy="1014.89" r="3.1" fill="#b5b5b5"/>
<circle cx="692.88" cy="1000.48" r="3.1" fill="#b5b5b5"/>
<circle cx="768.98" cy="1014.58" r="3.1" fill="#b5b5b5"/>
<circle cx="753.05" cy="1012.20" r="3.1" fill="#b5b5b5"/>
<circle cx="690.54" cy="997.37" r="3.1" fill="#b5b5b5"/>
<circle cx="704.10" cy="1015.24" r="3.1" fill="#b5b5b5"/>
<circle cx="715.98" cy="1001.54" r="3.1" fill="#b5b5b5"/>
<circle cx="780.70" cy="1012.72" r="3.1" fill="#b5b5b5"/>
<circle cx="702.26" cy="990.73" r="3.1" fill="#b5b5b5"/>
<circle cx="742.92" cy="1005.18" r="3.1" fill="#b5b5b5"/>
<circle cx="669.73" cy="1020.24" r="3.1" fill="#b5b5b5"/>
<circle cx="665.23" cy="1015.48" r="3.1" fill="#b5b5b5"/>
<circle cx="725.00" cy="1011.89" r="3.1" fill="#b5b5b5"/>
<circle cx="680.61" cy="1016.89" r="3.1" fill="#b5b5b5"/>
<circle cx="722.07" cy="1004.93" r="3.1" fill="#b5b5b5"/>
<circle cx="711.30" cy="1020.06" r="3.1" fill="#b5b5b5"/>
<circle cx="720.48" cy="994.68" r="3.1" fill="#b5b5b5"/>
<circle cx="730.31" cy="1016.01" r="3.1" fill="#b5b5b5"/>
<circle cx="779.56" cy="1013.51" r="3.1" fill="#b5b5b5"/>
<circle cx="734.16" cy="1007.22" r="3.1" fill="#b5b5b5"/>
<circle cx="667.67" cy="1009.31" r="3.1" fill="#b5b5b5"/>
<circle cx="660.48" cy="1011.76" r="3.1" fill="#b5b5b5"/>
<circle cx="782.48" cy="1017.00" r="3.1" fill="#b5b5b5"/>
<circle cx="765.68" cy="1014.44" r="3.1" fill="#b5b5b5"/>
<circle cx="732.76" cy="1002.37" r="3.1" fill="#b5b5b5"/>
<circle cx="656.37" cy="1013.26" r="3.1" fill="#b5b5b5"/>
<circle cx="710.02" cy="1013.38" r="3.1" fill="#b5b5b5"/>
<circle cx="690.86" cy="1009.16" r="3.1" fill="#b5b5b5"/>
<circle cx="700.50" cy="1009.21" r="3.1" fill="#b5b5b5"/>
<circle cx="687.18" cy="1018.03" r="3.1" fill="#b5b5b5"/>
<circle cx="676.05" cy="1014.36" r="3.1" fill="#b5b5b5"/>
<circle cx="759.61" cy="1018.58" r="3.1" fill="#b5b5b5"/>
<circle cx="742.56" cy="1012.74" r="3.1" fill="#b5b5b5"/>
<circle cx="752.06" cy="1009.31" r="3.1" fill="#b5b5b5"/>
<circle cx="727.49" cy="1007.45" r="3.1" fill="#b5b5b5"/>
<circle cx="688.51" cy="1011.85" r="3.1" fill="#b5b5b5"/>
<circle cx="707.33" cy="998.19" r="3.1" fill="#b5b5b5"/>
<circle cx="706.31" cy="1004.04" r="3.1" fill="#b5b5b5"/>
<circle cx="658.10" cy="1017.76" r="3.1" fill="#b5b5b5"/>
<circle cx="701.36" cy="1018.15" r="3.1" fill="#b5b5b5"/>
<circle cx="781.44" cy="1014.59" r="3.1" fill="#b5b5b5"/>
<circle cx="672.47" cy="1013.26" r="3.1" fill="#b5b5b5"/>
<circle cx="731.13" cy="1010.55" r="3.1" fill="#b5b5b5"/>
<circle cx="781.16" cy="1015.91" r="3.1" fill="#b5b5b5"/>
<circle cx="778.14" cy="1017.15" r="3.1" fill="#b5b5b5"/>
<circle cx="699.84" cy="1014.31" r="3.1" fill="#b5b5b5"/>
<circle cx="717.60" cy="994.10" r="3.1" fill="#b5b5b5"/>
<circle cx="709.09" cy="1017.98" r="3.1" fill="#b5b5b5"/>
<circle cx="658.86" cy="1012.64" r="3.1" fill="#b5b5b5"/>
<circle cx="680.35" cy="1017.67" r="3.1" fill="#b5b5b5"/>
<circle cx="732.88" cy="1009.42" r="3.1" fill="#b5b5b5"/>
<circle cx="716.97" cy="995.22" r="3.1" fill="#b5b5b5"/>
<circle cx="677.72" cy="1005.97" r="3.1" fill="#b5b5b5"/>
<circle cx="694.34" cy="1005.04" r="3.1" fill="#b5b5b5"/>
<circle cx="746.90" cy="1011.77" r="3.1" fill="#b5b5b5"/>
<circle cx="721.84" cy="1009.77" r="3.1" fill="#b5b5b5"/>
<circle cx="691.76" cy="1006.61" r="3.1" fill="#b5b5b5"/>
<circle cx="722.72" cy="1009.55" r="3.1" fill="#b5b5b5"/>
<circle cx="701.43" cy="1016.07" r="3.1" fill="#b5b5b5"/>
<circle cx="746.61" cy="1008.74" r="3.1" fill="#b5b5b5"/>
<circle cx="688.46" cy="1021.16" r="3.1" fill="#b5b5b5"/>
<circle cx="744.25" cy="1003.58" r="3.1" fill="#b5b5b5"/>
<circle cx="771.46" cy="1010.28" r="3.1" fill="#b5b5b5"/>
<circle cx="740.55" cy="1015.00" r="3.1" fill="#b5b5b5"/>
<circle cx="697.94" cy="1017.67" r="3.1" fill="#b5b5b5"/>
<circle cx="699.87" cy="995.08" r="3.1" fill="#b5b5b5"/>
<circle cx="700.22" cy="1007.29" r="3.1" fill="#b5b5b5"/>
<circle cx="720.60" cy="998.26" r="3.1" fill="#b5b5b5"/>
<circle cx="689.21" cy="1007.30" r="3.1" fill="#b5b5b5"/>
<circle cx="709.91" cy="1009.83" r="3.1" fill="#b5b5b5"/>
<circle cx="782.73" cy="1014.15" r="3.1" fill="#b5b5b5"/>
<circle cx="746.68" cy="1011.88" r="3.1" fill="#b5b5b5"/>
<circle cx="775.28" cy="1014.06" r="3.1" fill="#b5b5b5"/>
<circle cx="787.78" cy="1015.14" r="3.1" fill="#b5b5b5"/>
<circle cx="728.97" cy="1007.55" r="3.1" fill="#b5b5b5"/>
<circle cx="741.68" cy="1013.88" r="3.1" fill="#b5b5b5"/>
<circle cx="713.30" cy="1010.04" r="3.1" fill="#b5b5b5"/>
<circle cx="747.85" cy="1019.57" r="3.1" fill="#b5b5b5"/>
<circle cx="712.39" cy="1002.50" r="3.1" fill="#b5b5b5"/>
<circle cx="737.46" cy="1006.10" r="3.1" fill="#b5b5b5"/>
<circle cx="723.37" cy="1013.73" r="3.1" fill="#b5b5b5"/>
<circle cx="773.24" cy="1011.85" r="3.1" fill="#b5b5b5"/>
<circle cx="758.17" cy="1016.32" r="3.1" fill="#b5b5b5"/>
<circle cx="759.88" cy="1013.78" r="3.1" fill="#b5b5b5"/>
<circle cx="708.80" cy="1017.08" r="3.1" fill="#b5b5b5"/>
<circle cx="692.46" cy="1009.60" r="3.1" fill="#b5b5b5"/>
<circle cx="721.57" cy="1006.50" r="3.1" fill="#b5b5b5"/>
<circle cx="762.56" cy="1019.16" r="3.1" fill="#b5b5b5"/>
<circle cx="695.88" cy="1005.75" r="3.1" fill="#b5b5b5"/>
<circle cx="703.54" cy="1021.04" r="3.1" fill="#b5b5b5"/>
<circle cx="705.66" cy="1017.87" r="3.1" fill="#b5b5b5"/>
<circle cx="697.30" cy="998.03" r="3.1" fill="#b5b5b5"/>
<circle cx="747.97" cy="1006.50" r="3.1" fill="#b5b5b5"/>
<circle cx="769.61" cy="1012.82" r="3.1" fill="#b5b5b5"/>
<circle cx="748.48" cy="1005.36" r="3.1" fill="#b5b5b5"/>
<circle cx="685.07" cy="1015.74" r="3.1" fill="#b5b5b5"/>
<circle cx="714.54" cy="1006.97" r="3.1" fill="#b5b5b5"/>
<circle cx="685.73" cy="1008.17" r="3.1" fill="#b5b5b5"/>
<circle cx="701.27" cy="1009.51" r="3.1" fill="#b5b5b5"/>
<circle cx="745.54" cy="1015.82" r="3.1" fill="#b5b5b5"/>
<circle cx="749.42" cy="1005.63" r="3.1" fill="#b5b5b5"/>
<circle cx="771.29" cy="1016.71" r="3.1" fill="#b5b5b5"/>
<circle cx="686.44" cy="1020.77" r="3.1" fill="#b5b5b5"/>
<circle cx="662.11" cy="1010.45" r="3.1" fill="#b5b5b5"/>
<circle cx="735.40" cy="1020.47" r="3.1" fill="#b5b5b5"/>
<circle cx="669.70" cy="1011.94" r="3.1" fill="#b5b5b5"/>
<circle cx="747.98" cy="1013.54" r="3.1" fill="#b5b5b5"/>
<circle cx="694.39" cy="1014.22" r="3.1" fill="#b5b5b5"/>
<circle cx="703.74" cy="1013.40" r="3.1" fill="#b5b5b5"/>
<circle cx="767.83" cy="1014.77" r="3.1" fill="#b5b5b5"/>
<circle cx="738.37" cy="1007.27" r="3.1" fill="#b5b5b5"/>
<circle cx="722.27" cy="1013.24" r="3.1" fill="#b5b5b5"/>
<circle cx="726.56" cy="1004.80" r="3.1" fill="#b5b5b5"/>
<circle cx="685.81" cy="1015.66" r="3.1" fill="#b5b5b5"/>
<circle cx="746.42" cy="1008.09" r="3.1" fill="#b5b5b5"/>
<circle cx="716.22" cy="1006.91" r="3.1" fill="#b5b5b5"/>
<circle cx="666.08" cy="1010.08" r="3.1" fill="#b5b5b5"/>
<circle cx="727.94" cy="1016.45" r="3.1" fill="#b5b5b5"/>
<circle cx="769.93" cy="1009.44" r="3.1" fill="#b5b5b5"/>
<circle cx="740.60" cy="1011.46" r="3.1" fill="#b5b5b5"/>
<circle cx="734.32" cy="1018.16" r="3.1" fill="#b5b5b5"/>
<circle cx="717.46" cy="1002.91" r="3.1" fill="#b5b5b5"/>
<circle cx="700.30" cy="1006.09" r="3.1" fill="#b5b5b5"/>
<circle cx="669.63" cy="1018.41" r="3.1" fill="#b5b5b5"/>
<circle cx="763.66" cy="1011.40" r="3.1" fill="#b5b5b5"/>
<circle cx="663.82" cy="1012.87" r="3.1" fill="#b5b5b5"/>
<circle cx="779.60" cy="1012.72" r="3.1" fill="#b5b5b5"/>
<circle cx="706.76" cy="1015.08" r="3.1" fill="#b5b5b5"/>
<circle cx="750.55" cy="1013.55" r="3.1" fill="#b5b5b5"/>
<circle cx="783.96" cy="1015.25" r="3.1" fill="#b5b5b5"/>
<circle cx="777.26" cy="1018.25" r="3.1" fill="#b5b5b5"/>
<circle cx="680.86" cy="1017.79" r="3.1" fill="#b5b5b5"/>
<circle cx="750.87" cy="1020.50" r="3.1" fill="#b5b5b5"/>
<circle cx="721.15" cy="1008.69" r="3.1" fill="#b5b5b5"/>
<circle cx="662.70" cy="1010.53" r="3.1" fill="#b5b5b5"/>
<circle cx="717.96" cy="1004.62" r="3.1" fill="#b5b5b5"/>
<circle cx="706.51" cy="1020.57" r="3.1" fill="#b5b5b5"/>
<circle cx="767.88" cy="1009.65" r="3.1" fill="#b5b5b5"/>
<circle cx="740.71" cy="1019.00" r="3.1" fill="#b5b5b5"/>
<circle cx="726.89" cy="1019.37" r="3.1" fill="#b5b5b5"/>
<circle cx="731.19" cy="1013.78" r="3.1" fill="#b5b5b5"/>
<circle cx="718.81" cy="1004.90" r="3.1" fill="#b5b5b5"/>
<circle cx="681.77" cy="1021.42" r="3.1" fill="#b5b5b5"/>
<circle cx="680.76" cy="1008.73" r="3.1" fill="#b5b5b5"/>
<circle cx="757.22" cy="1010.50" r="3.1" fill="#b5b5b5"/>
<circle cx="774.67" cy="1010.23" r="3.1" fill="#b5b5b5"/>
<circle cx="693.15" cy="1007.76" r="3.1" fill="#b5b5b5"/>
<circle cx="681.52" cy="1008.03" r="3.1" fill="#b5b5b5"/>
<circle cx="656.42" cy="1021.49" r="3.1" fill="#b5b5b5"/>
<circle cx="699.55" cy="992.92" r="3.1" fill="#b5b5b5"/>
<circle cx="686.93" cy="1004.12" r="3.1" fill="#b5b5b5"/>
<circle cx="711.78" cy="1012.27" r="3.1" fill="#b5b5b5"/>
<circle cx="697.51" cy="1010.91" r="3.1" fill="#b5b5b5"/>
<circle cx="783.75" cy="1013.02" r="3.1" fill="#b5b5b5"/>
<circle cx="677.65" cy="1015.75" r="3.1" fill="#b5b5b5"/>
<circle cx="680.44" cy="1013.57" r="3.1" fill="#b5b5b5"/>
<circle cx="663.96" cy="1021.26" r="3.1" fill="#b5b5b5"/>
<circle cx="716.85" cy="1002.69" r="3.1" fill="#b5b5b5"/>
<circle cx="671.17" cy="1021.27" r="3.1" fill="#b5b5b5"/>
<circle cx="686.52" cy="1018.48" r="3.1" fill="#b5b5b5"/>
<circle cx="735.84" cy="1014.31" r="3.1" fill="#b5b5b5"/>
<circle cx="772.84" cy="1014.30" r="3.1" fill="#b5b5b5"/>
<circle cx="770.08" cy="1009.68" r="3.1" fill="#b5b5b5"/>
<circle cx="691.00" cy="1009.65" r="3.1" fill="#b5b5b5"/>
<circle cx="723.58" cy="1019.36" r="3.1" fill="#b5b5b5"/>
<circle cx="736.31" cy="997.69" r="3.1" fill="#b5b5b5"/>
<circle cx="719.54" cy="992.92" r="3.1" fill="#b5b5b5"/>
<circle cx="755.05" cy="1013.29" r="3.1" fill="#b5b5b5"/>
<circle cx="700.47" cy="998.67" r="3.1" fill="#b5b5b5"/>
<circle cx="670.67" cy="1012.07" r="3.1" fill="#b5b5b5"/>
<circle cx="718.26" cy="999.19" r="3.1" fill="#b5b5b5"/>
<circle cx="718.30" cy="995.06" r="3.1" fill="#b5b5b5"/>
<circle cx="683.76" cy="1020.54" r="3.1" fill="#b5b5b5"/>
<circle cx="661.65" cy="1020.32" r="3.1" fill="#b5b5b5"/>
<circle cx="770.32" cy="1014.67" r="3.1" fill="#b5b5b5"/>
<circle cx="698.13" cy="1002.61" r="3.1" fill="#b5b5b5"/>
<circle cx="756.40" cy="1016.80" r="3.1" fill="#b5b5b5"/>
<circle cx="671.87" cy="1019.37" r="3.1" fill="#b5b5b5"/>
<circle cx="765.24" cy="1012.79" r="3.1" fill="#b5b5b5"/>
<circle cx="704.34" cy="1016.98" r="3.1" fill="#b5b5b5"/>
<circle cx="784.78" cy="1015.94" r="3.1" fill="#b5b5b5"/>
<circle cx="757.79" cy="1011.81" r="3.1" fill="#b5b5b5"/>
<circle cx="705.64" cy="1011.26" r="3.1" fill="#b5b5b5"/>
<circle cx="697.86" cy="1001.31" r="3.1" fill="#b5b5b5"/>
<circle cx="671.71" cy="1011.80" r="3.1" fill="#b5b5b5"/>
<circle cx="756.37" cy="1011.42" r="3.1" fill="#b5b5b5"/>
<circle cx="702.80" cy="1016.26" r="3.1" fill="#b5b5b5"/>
<circle cx="694.61" cy="1016.03" r="3.1" fill="#b5b5b5"/>
<circle cx="672.09" cy="1008.87" r="3.1" fill="#b5b5b5"/>
<circle cx="703.71" cy="993.15" r="3.1" fill="#b5b5b5"/>
<circle cx="732.01" cy="1002.87" r="3.1" fill="#b5b5b5"/>
<circle cx="744.54" cy="1012.68" r="3.1" fill="#b5b5b5"/>
<circle cx="710.80" cy="1003.24" r="3.1" fill="#b5b5b5"/>
<circle cx="765.09" cy="1018.96" r="3.1" fill="#b5b5b5"/>
<circle cx="662.50" cy="1010.82" r="3.1" fill="#b5b5b5"/>
<circle cx="697.09" cy="1011.06" r="3.1" fill="#b5b5b5"/>
<circle cx="700.01" cy="998.47" r="3.1" fill="#b5b5b5"/>
<circle cx="724.91" cy="1013.20" r="3.1" fill="#b5b5b5"/>
<circle cx="690.20" cy="1019.50" r="3.1" fill="#b5b5b5"/>
<circle cx="766.43" cy="1018.77" r="3.1" fill="#b5b5b5"/>
<circle cx="679.76" cy="1009.54" r="3.1" fill="#b5b5b5"/>
<circle cx="779.85" cy="1017.06" r="3.1" fill="#b5b5b5"/>
<circle cx="677.97" cy="1007.60" r="3.1" fill="#b5b5b5"/>
<circle cx="702.76" cy="1001.44" r="3.1" fill="#b5b5b5"/>
<circle cx="751.21" cy="1014.79" r="3.1" fill="#b5b5b5"/>
<circle cx="716.52" cy="1012.26" r="3.1" fill="#b5b5b5"/>
<circle cx="699.31" cy="1018.41" r="3.1" fill="#b5b5b5"/>
<circle cx="662.24" cy="1018.04" r="3.1" fill="#b5b5b5"/>
<circle cx="660.26" cy="1017.86" r="3.1" fill="#b5b5b5"/>
<circle cx="697.30" cy="1007.64" r="3.1" fill="#b5b5b5"/>
<circle cx="670.16" cy="1010.52" r="3.1" fill="#b5b5b5"/>
<circle cx="686.71" cy="1002.50" r="3.1" fill="#b5b5b5"/>
<circle cx="667.28" cy="1018.18" r="3.1" fill="#b5b5b5"/>
<circle cx="757.66" cy="1018.11" r="3.1" fill="#b5b5b5"/>
<circle cx="715.86" cy="1009.43" r="3.1" fill="#b5b5b5"/>
<circle cx="760.92" cy="1011.70" r="3.1" fill="#b5b5b5"/>
<circle cx="777.58" cy="1008.33" r="3.1" fill="#b5b5b5"/>
<circle cx="779.96" cy="1007.95" r="3.1" fill="#b5b5b5"/>
<circle cx="682.72" cy="1019.94" r="3.1" fill="#b5b5b5"/>
<circle cx="746.03" cy="1004.97" r="3.1" fill="#b5b5b5"/>
<circle cx="693.94" cy="1012.68" r="3.1" fill="#b5b5b5"/>
<circle cx="665.68" cy="1013.39" r="3.1" fill="#b5b5b5"/>
<circle cx="701.17" cy="1020.19" r="3.1" fill="#b5b5b5"/>
<circle cx="662.98" cy="1015.93" r="3.1" fill="#b5b5b5"/>
<circle cx="709.00" cy="1014.62" r="3.1" fill="#b5b5b5"/>
<circle cx="700.54" cy="1011.55" r="3.1" fill="#b5b5b5"/>
<circle cx="691.87" cy="1015.28" r="3.1" fill="#b5b5b5"/>
<circle cx="719.66" cy="996.93" r="3.1" fill="#b5b5b5"/>
<circle cx="703.78" cy="1005.58" r="3.1" fill="#b5b5b5"/>
<circle cx="729.65" cy="1015.31" r="3.1" fill="#b5b5b5"/>
<circle cx="755.33" cy="1011.93" r="3.1" fill="#b5b5b5"/>
<circle cx="726.61" cy="1012.43" r="3.1" fill="#b5b5b5"/>
<circle cx="692.55" cy="1004.84" r="3.1" fill="#b5b5b5"/>
<circle cx="752.72" cy="1007.51" r="3.1" fill="#b5b5b5"/>
<circle cx="700.87" cy="994.58" r="3.1" fill="#b5b5b5"/>
<circle cx="692.33" cy="1019.54" r="3.1" fill="#b5b5b5"/>
<circle cx="713.66" cy="996.18" r="3.1" fill="#b5b5b5"/>
<circle cx="716.90" cy="1005.11" r="3.1" fill="#b5b5b5"/>
<circle cx="702.37" cy="1012.91" r="3.1" fill="#b5b5b5"/>
<circle cx="691.00" cy="996.73" r="3.1" fill="#b5b5b5"/>
<circle cx="723.44" cy="1010.89" r="3.1" fill="#b5b5b5"/>
<circle cx="746.01" cy="1019.97" r="3.1" fill="#b5b5b5"/>
<circle cx="686.17" cy="1012.78" r="3.1" fill="#b5b5b5"/>
<circle cx="745.50" cy="1005.74" r="3.1" fill="#b5b5b5"/>
<circle cx="736.57" cy="1007.92" r="3.1" fill="#b5b5b5"/>
<circle cx="765.80" cy="1008.11" r="3.1" fill="#b5b5b5"/>
<circle cx="734.52" cy="1002.84" r="3.1" fill="#b5b5b5"/>
<circle cx="702.60" cy="1010.20" r="3.1" fill="#b5b5b5"/>
<circle cx="696.56" cy="1019.26" r="3.1" fill="#b5b5b5"/>
<circle cx="726.27" cy="1021.36" r="3.1" fill="#b5b5b5"/>
<circle cx="696.05" cy="1015.63" r="3.1" fill="#b5b5b5"/>
<circle cx="726.80" cy="1015.84" r="3.1" fill="#b5b5b5"/>
<circle cx="753.99" cy="1019.70" r="3.1" fill="#b5b5b5"/>
<circle cx="736.01" cy="998.03" r="3.1" fill="#b5b5b5"/>
<circle cx="723.57" cy="999.96" r="3.1" fill="#b5b5b5"/>
<circle cx="707.01" cy="1001.98" r="3.1" fill="#b5b5b5"/>
<circle cx="736.33" cy="1006.47" r="3.1" fill="#b5b5b5"/>
<circle cx="732.99" cy="1019.78" r="3.1" fill="#b5b5b5"/>
<circle cx="764.21" cy="1015.44" r="3.1" fill="#b5b5b5"/>
<circle cx="748.79" cy="1007.64" r="3.1" fill="#b5b5b5"/>
<circle cx="732.59" cy="1009.89" r="3.1" fill="#b5b5b5"/>
<circle cx="692.63" cy="999.94" r="3.1" fill="#b5b5b5"/>
<circle cx="695.31" cy="1017.29" r="3.1" fill="#b5b5b5"/>
<circle cx="711.65" cy="996.32" r="3.1" fill="#b5b5b5"/>
<circle cx="697.64" cy="1008.98" r="3.1" fill="#b5b5b5"/>
<circle cx="669.83" cy="1013.23" r="3.1" fill="#b5b5b5"/>
<circle cx="771.56" cy="1013.07" r="3.1" fill="#b5b5b5"/>
<circle cx="704.90" cy="1020.02" r="3.1" fill="#b5b5b5"/>
<circle cx="695.21" cy="1000.88" r="3.1" fill="#b5b5b5"/>
<circle cx="702.91" cy="1011.40" r="3.1" fill="#b5b5b5"/>
<circle cx="743.03" cy="1012.57" r="3.1" fill="#b5b5b5"/>
<circle cx="708.13" cy="1021.45" r="3.1" fill="#b5b5b5"/>
<circle cx="685.75" cy="1011.51" r="3.1" fill="#b5b5b5"/>
<circle cx="747.77" cy="1020.73" r="3.1" fill="#b5b5b5"/>
<circle cx="707.67" cy="1017.57" r="3.1" fill="#b5b5b5"/>
<circle cx="720.67" cy="999.21" r="3.1" fill="#b5b5b5"/>
<circle cx="684.76" cy="1020.72" r="3.1" fill="#b5b5b5"/>
<circle cx="694.45" cy="1001.27" r="3.1" fill="#b5b5b5"/>
<circle cx="692.09" cy="1020.45" r="3.1" fill="#b5b5b5"/>
<circle cx="711.32" cy="1002.61" r="3.1" fill="#b5b5b5"/>
<circle cx="731.41" cy="1018.98" r="3.1" fill="#b5b5b5"/>
<circle cx="765.36" cy="1009.74" r="3.1" fill="#b5b5b5"/>
<circle cx="729.26" cy="1016.79" r="3.1" fill="#b5b5b5"/>
<circle cx="766.98" cy="1012.94" r="3.1" fill="#b5b5b5"/>
<circle cx="739.68" cy="1018.32" r="3.1" fill="#b5b5b5"/>
<circle cx="683.51" cy="1021.34" r="3.1" fill="#b5b5b5"/>
<circle cx="771.15" cy="1019.88" r="3.1" fill="#b5b5b5"/>
<circle cx="732.26" cy="1007.76" r="3.1" fill="#b5b5b5"/>
<circle cx="693.19" cy="1015.64" r="3.1" fill="#b5b5b5"/>
<circle cx="701.86" cy="1004.19" r="3.1" fill="#b5b5b5"/>
<circle cx="688.17" cy="1001.67" r="3.1" fill="#b5b5b5"/>
<circle cx="704.19" cy="994.65" r="3.1" fill="#b5b5b5"/>
<circle cx="728.41" cy="1010.37" r="3.1" fill="#b5b5b5"/>
<circle cx="729.15" cy="1019.64" r="3.1" fill="#b5b5b5"/>
<circle cx="694.94" cy="1010.31" r="3.1" fill="#b5b5b5"/>
<circle cx="716.14" cy="999.57" r="3.1" fill="#b5b5b5"/>
<circle cx="667.52" cy="1018.58" r="3.1" fill="#b5b5b5"/>
<circle cx="737.03" cy="1011.87" r="3.1" fill="#b5b5b5"/>
<circle cx="747.07" cy="1008.25" r="3.1" fill="#b5b5b5"/>
<circle cx="737.54" cy="1004.73" r="3.1" fill="#b5b5b5"/>
<circle cx="713.79" cy="1006.24" r="3.1" fill="#b5b5b5"/>
<circle cx="719.70" cy="1008.34" r="3.1" fill="#b5b5b5"/>
<circle cx="703.49" cy="992.41" r="3.1" fill="#b5b5b5"/>
<circle cx="782.16" cy="1015.41" r="3.1" fill="#b5b5b5"/>
<circle cx="741.71" cy="1017.02" r="3.1" fill="#b5b5b5"/>
<circle cx="711.91" cy="1015.58" r="3.1" fill="#b5b5b5"/>
<circle cx="738.03" cy="1004.48" r="3.1" fill="#b5b5b5"/>
<circle cx="762.35" cy="1008.85" r="3.1" fill="#b5b5b5"/>
<circle cx="728.32" cy="1017.41" r="3.1" fill="#b5b5b5"/>
<circle cx="732.43" cy="1009.39" r="3.1" fill="#b5b5b5"/>
<circle cx="754.22" cy="1008.31" r="3.1" fill="#b5b5b5"/>
<circle cx="658.32" cy="1012.45" r="3.1" fill="#b5b5b5"/>
<circle cx="692.61" cy="1018.15" r="3.1" fill="#b5b5b5"/>
<circle cx="721.58" cy="1021.22" r="3.1" fill="#b5b5b5"/>
<circle cx="678.08" cy="1020.96" r="3.1" fill="#b5b5b5"/>
<circle cx="762.45" cy="1013.97" r="3.1" fill="#b5b5b5"/>
<circle cx="716.30" cy="1017.54" r="3.1" fill="#b5b5b5"/>
<circle cx="660.86" cy="1015.86" r="3.1" fill="#b5b5b5"/>
<circle cx="682.11" cy="1009.11" r="3.1" fill="#b5b5b5"/>
<circle cx="715.13" cy="1003.45" r="3.1" fill="#b5b5b5"/>
<circle cx="673.19" cy="1019.07" r="3.1" fill="#b5b5b5"/>
<circle cx="708.93" cy="1003.85" r="3.1" fill="#b5b5b5"/>
<circle cx="698.07" cy="1013.42" r="3.1" fill="#b5b5b5"/>
<circle cx="719.77" cy="1018.37" r="3.1" fill="#b5b5b5"/>
<circle cx="752.82" cy="1015.93" r="3.1" fill="#b5b5b5"/>
<circle cx="783.46" cy="1016.81" r="3.1" fill="#b5b5b5"/>
<circle cx="665.24" cy="1016.04" r="3.1" fill="#b5b5b5"/>
<circle cx="734.86" cy="1006.59" r="3.1" fill="#b5b5b5"/>
<circle cx="688.92" cy="1004.99" r="3.1" fill="#b5b5b5"/>
<circle cx="736.34" cy="1016.85" r="3.1" fill="#b5b5b5"/>
<circle cx="696.31" cy="1000.27" r="3.1" fill="#b5b5b5"/>
<circle cx="781.70" cy="1009.65" r="3.1" fill="#b5b5b5"/>
<circle cx="665.30" cy="1010.82" r="3.1" fill="#b5b5b5"/>
<circle cx="706.24" cy="996.20" r="3.1" fill="#b5b5b5"/>
<circle cx="694.41" cy="1018.99" r="3.1" fill="#b5b5b5"/>
<circle cx="733.57" cy="1012.32" r="3.1" fill="#b5b5b5"/>
<circle cx="731.22" cy="1018.31" r="3.1" fill="#b5b5b5"/>
<circle cx="694.80" cy="1008.27" r="3.1" fill="#b5b5b5"/>
<circle cx="717.90" cy="1000.07" r="3.1" fill="#b5b5b5"/>
<circle cx="739.11" cy="1010.97" r="3.1" fill="#b5b5b5"/>
<circle cx="689.97" cy="1010.56" r="3.1" fill="#b5b5b5"/>
<circle cx="725.54" cy="1014.62" r="3.1" fill="#b5b5b5"/>
<circle cx="775.23" cy="1012.74" r="3.1" fill="#b5b5b5"/>
<circle cx="676.78" cy="1016.17" r="3.1" fill="#b5b5b5"/>
<circle cx="700.41" cy="1017.80" r="3.1" fill="#b5b5b5"/>
<circle cx="709.04" cy="999.65" r="3.1" fill="#b5b5b5"/>
<circle cx="702.93" cy="1009.02" r="3.1" fill="#b5b5b5"/>
<circle cx="744.15" cy="1011.00" r="3.1" fill="#b5b5b5"/>
<circle cx="710.79" cy="1010.77" r="3.1" fill="#b5b5b5"/>
<circle cx="756.21" cy="1020.10" r="3.1" fill="#b5b5b5"/>
<circle cx="707.63" cy="1019.22" r="3.1" fill="#b5b5b5"/>
<circle cx="713.26" cy="1018.35" r="3.1" fill="#b5b5b5"/>
<circle cx="695.04" cy="1004.03" r="3.1" fill="#b5b5b5"/>
<circle cx="713.80" cy="1011.75" r="3.1" fill="#b5b5b5"/>
<circle cx="683.71" cy="1014.23" r="3.1" fill="#b5b5b5"/>
<circle cx="729.69" cy="1003.68" r="3.1" fill="#b5b5b5"/>
<circle cx="723.12" cy="1020.27" r="3.1" fill="#b5b5b5"/>
<circle cx="744.14" cy="1004.22" r="3.1" fill="#b5b5b5"/>
<circle cx="712.09" cy="997.06" r="3.1" fill="#b5b5b5"/>
<circle cx="741.86" cy="1008.13" r="3.1" fill="#b5b5b5"/>
<circle cx="753.89" cy="1020.35" r="3.1" fill="#b5b5b5"/>
<circle cx="679.39" cy="1012.73" r="3.1" fill="#b5b5b5"/>
<circle cx="740.22" cy="1015.30" r="3.1" fill="#b5b5b5"/>
<circle cx="767.38" cy="1018.25" r="3.1" fill="#b5b5b5"/>
<circle cx="755.27" cy="1019.33" r="3.1" fill="#b5b5b5"/>
<circle cx="677.48" cy="1009.84" r="3.1" fill="#b5b5b5"/>
<circle cx="691.61" cy="1000.37" r="3.1" fill="#b5b5b5"/>
<circle cx="717.17" cy="1004.10" r="3.1" fill="#b5b5b5"/>
<circle cx="760.21" cy="1010.39" r="3.1" fill="#b5b5b5"/>
<circle cx="692.08" cy="999.95" r="3.1" fill="#b5b5b5"/>
<circle cx="678.50" cy="1015.52" r="3.1" fill="#b5b5b5"/>
<circle cx="753.15" cy="1017.20" r="3.1" fill="#b5b5b5"/>
<circle cx="717.28" cy="998.11" r="3.1" fill="#b5b5b5"/>
<circle cx="692.69" cy="1016.30" r="3.1" fill="#b5b5b5"/>
<circle cx="754.59" cy="1014.10" r="3.1" fill="#b5b5b5"/>
<circle cx="726.27" cy="1002.67" r="3.1" fill="#b5b5b5"/>
<circle cx="738.88" cy="1018.62" r="3.1" fill="#b5b5b5"/>
<circle cx="668.73" cy="1016.94" r="3.1" fill="#b5b5b5"/>
<circle cx="726.37" cy="1016.34" r="3.1" fill="#b5b5b5"/>
<circle cx="695.58" cy="998.07" r="3.1" fill="#b5b5b5"/>
<circle cx="783.97" cy="1014.04" r="3.1" fill="#b5b5b5"/>
<circle cx="700.89" cy="1019.83" r="3.1" fill="#b5b5b5"/>
<circle cx="723.13" cy="1008.01" r="3.1" fill="#b5b5b5"/>
<circle cx="730.94" cy="1019.08" r="3.1" fill="#b5b5b5"/>
<circle cx="782.09" cy="1011.21" r="3.1" fill="#b5b5b5"/>
<circle cx="682.25" cy="1021.37" r="3.1" fill="#b5b5b5"/>
<circle cx="733.19" cy="1005.02" r="3.1" fill="#b5b5b5"/>
<circle cx="715.46" cy="1014.64" r="3.1" fill="#b5b5b5"/>
<circle cx="675.13" cy="1011.99" r="3.1" fill="#b5b5b5"/>
<circle cx="687.84" cy="1004.12" r="3.1" fill="#b5b5b5"/>
<circle cx="735.39" cy="1007.00" r="3.1" fill="#b5b5b5"/>
<circle cx="729.20" cy="1017.54" r="3.1" fill="#b5b5b5"/>
<circle cx="738.54" cy="1014.36" r="3.1" fill="#b5b5b5"/>
<circle cx="719.79" cy="995.57" r="3.1" fill="#b5b5b5"/>
<circle cx="702.87" cy="996.72" r="3.1" fill="#b5b5b5"/>
<circle cx="762.91" cy="1009.55" r="3.1" fill="#b5b5b5"/>
<circle cx="751.97" cy="1010.08" r="3.1" fill="#b5b5b5"/>
<circle cx="734.67" cy="1008.88" r="3.1" fill="#b5b5b5"/>
<circle cx="750.44" cy="1021.15" r="3.1" fill="#b5b5b5"/>
<circle cx="683.82" cy="1014.78" r="3.1" fill="#b5b5b5"/>
<circle cx="668.39" cy="1013.91" r="3.1" fill="#b5b5b5"/>
<circle cx="713.59" cy="1004.45" r="3.1" fill="#b5b5b5"/>
<circle cx="665.69" cy="1019.33" r="3.1" fill="#b5b5b5"/>
<circle cx="778.08" cy="1008.15" r="3.1" fill="#b5b5b5"/>
<circle cx="668.64" cy="1011.95" r="3.1" fill="#b5b5b5"/>
<circle cx="690.43" cy="1014.40" r="3.1" fill="#b5b5b5"/>
<circle cx="675.87" cy="1010.67" r="3.1" fill="#b5b5b5"/>
<circle cx="785.52" cy="1013.99" r="3.1" fill="#b5b5b5"/>
<circle cx="667.11" cy="1009.77" r="3.1" fill="#b5b5b5"/>
<circle cx="675.93" cy="1014.66" r="3.1" fill="#b5b5b5"/>
<circle cx="673.01" cy="1016.19" r="3.1" fill="#b5b5b5"/>
<circle cx="674.38" cy="1020.49" r="3.1" fill="#b5b5b5"/>
<circle cx="750.72" cy="1011.37" r="3.1" fill="#b5b5b5"/>
<circle cx="673.23" cy="1020.39" r="3.1" fill="#b5b5b5"/>
<circle cx="693.44" cy="1009.45" r="3.1" fill="#b5b5b5"/>
<circle cx="723.32" cy="1003.27" r="3.1" fill="#b5b5b5"/>
<circle cx="769.66" cy="1019.88" r="3.1" fill="#b5b5b5"/>
<circle cx="702.48" cy="993.40" r="3.1" fill="#b5b5b5"/>
<circle cx="685.35" cy="999.27" r="3.1" fill="#b5b5b5"/>
<circle cx="740.08" cy="1020.88" r="3.1" fill="#b5b5b5"/>
<circle cx="728.09" cy="1005.00" r="3.1" fill="#b5b5b5"/>
<circle cx="727.41" cy="1012.36" r="3.1" fill="#b5b5b5"/>
<circle cx="709.14" cy="994.21" r="3.1" fill="#b5b5b5"/>
<circle cx="764.09" cy="1019.87" r="3.1" fill="#b5b5b5"/>
<circle cx="672.95" cy="1012.87" r="3.1" fill="#b5b5b5"/>
<circle cx="749.32" cy="1021.02" r="3.1" fill="#b5b5b5"/>
<circle cx="749.53" cy="1004.26" r="3.1" fill="#b5b5b5"/>
<circle cx="721.99" cy="996.83" r="3.1" fill="#b5b5b5"/>
<circle cx="705.43" cy="1019.66" r="3.1" fill="#b5b5b5"/>
<circle cx="727.08" cy="1003.65" r="3.1" fill="#b5b5b5"/>
<circle cx="739.92" cy="1019.11" r="3.1" fill="#b5b5b5"/>
<circle cx="750.47" cy="1009.23" r="3.1" fill="#b5b5b5"/>
<circle cx="717.43" cy="1007.12" r="3.1" fill="#b5b5b5"/>
<circle cx="608.30" cy="1010.80" r="3.1" fill="#b5b5b5"/>
<circle cx="612.00" cy="1013.00" r="3.1" fill="#b5b5b5"/>
<circle cx="616.00" cy="1014.50" r="3.1" fill="#b5b5b5"/>
<circle cx="620.00" cy="1016.00" r="3.1" fill="#b5b5b5"/>
<circle cx="624.00" cy="1017.50" r="3.1" fill="#b5b5b5"/>
<circle cx="628.00" cy="1018.00" r="3.1" fill="#b5b5b5"/>
<circle cx="632.00" cy="1019.00" r="3.1" fill="#b5b5b5"/>
<circle cx="636.00" cy="1020.00" r="3.1" fill="#b5b5b5"/>
<circle cx="640.00" cy="1021.00" r="3.1" fill="#b5b5b5"/>
<circle cx="645.00" cy="1021.50" r="3.1" fill="#b5b5b5"/>
<circle cx="650.00" cy="1022.50" r="3.1" fill="#b5b5b5"/>
<circle cx="614.00" cy="1011.00" r="3.1" fill="#b5b5b5"/>
<circle cx="622.00" cy="1014.00" r="3.1" fill="#b5b5b5"/>
<circle cx="630.00" cy="1016.50" r="3.1" fill="#b5b5b5"/>
<circle cx="610.00" cy="1001.70" r="3.1" fill="#b5b5b5"/>
<circle cx="618.30" cy="1000.80" r="3.1" fill="#b5b5b5"/>
<circle cx="630.80" cy="996.70" r="3.1" fill="#b5b5b5"/>
<circle cx="635.00" cy="1003.30" r="3.1" fill="#b5b5b5"/>
<circle cx="645.00" cy="1003.30" r="3.1" fill="#b5b5b5"/>
<circle cx="654.20" cy="1003.30" r="3.1" fill="#b5b5b5"/>
<circle cx="666.70" cy="1001.70" r="3.1" fill="#b5b5b5"/>
<circle cx="677.50" cy="996.70" r="3.1" fill="#b5b5b5"/>
<circle cx="685.00" cy="993.30" r="3.1" fill="#b5b5b5"/>
<circle cx="662.00" cy="1008.00" r="3.1" fill="#b5b5b5"/>
<circle cx="657.00" cy="1012.00" r="3.1" fill="#b5b5b5"/>
<circle cx="652.00" cy="1017.00" r="3.1" fill="#b5b5b5"/>
<circle cx="640.00" cy="1012.00" r="3.1" fill="#b5b5b5"/>
<circle cx="725.00" cy="991.70" r="3.1" fill="#b5b5b5"/>
<circle cx="735.00" cy="993.30" r="3.1" fill="#b5b5b5"/>
<circle cx="745.00" cy="998.30" r="3.1" fill="#b5b5b5"/>
<circle cx="750.00" cy="1000.00" r="3.1" fill="#b5b5b5"/>
<circle cx="761.70" cy="995.00" r="3.1" fill="#b5b5b5"/>
<circle cx="773.30" cy="1001.70" r="3.1" fill="#b5b5b5"/>
<circle cx="781.70" cy="1003.30" r="3.1" fill="#b5b5b5"/>
<circle cx="788.30" cy="993.30" r="3.1" fill="#b5b5b5"/>
<circle cx="797.50" cy="990.80" r="3.1" fill="#b5b5b5"/>
<circle cx="810.00" cy="1000.80" r="3.1" fill="#b5b5b5"/>
<circle cx="794.20" cy="1010.00" r="3.1" fill="#b5b5b5"/>
<circle cx="790.00" cy="1014.00" r="3.1" fill="#b5b5b5"/>
<circle cx="800.00" cy="1006.00" r="3.1" fill="#b5b5b5"/>
<circle cx="805.00" cy="1003.00" r="3.1" fill="#b5b5b5"/>
<circle cx="812.00" cy="994.00" r="3.1" fill="#b5b5b5"/>
<circle cx="816.00" cy="992.50" r="3.1" fill="#b5b5b5"/>
<circle cx="820.00" cy="991.70" r="3.1" fill="#b5b5b5"/>
<circle cx="814.00" cy="997.00" r="3.1" fill="#b5b5b5"/>
<circle cx="786.00" cy="1016.00" r="3.1" fill="#b5b5b5"/>
<circle cx="770.00" cy="1007.00" r="3.1" fill="#b5b5b5"/>
<circle cx="778.00" cy="1009.00" r="3.1" fill="#b5b5b5"/>
<circle cx="568.20" cy="632.60" r="3.1" fill="#2b58a8"/>
<circle cx="532.80" cy="800.90" r="3.1" fill="#2b58a8"/>
<circle cx="580.40" cy="941.70" r="3.1" fill="#2b58a8"/>
<circle cx="593.00" cy="951.80" r="3.1" fill="#2b58a8"/>
<circle cx="632.80" cy="970.60" r="3.1" fill="#2b58a8"/>
<circle cx="573.90" cy="986.80" r="3.1" fill="#2b58a8"/>
<circle cx="653.70" cy="987.60" r="3.1" fill="#2b58a8"/>
<circle cx="689.30" cy="939.50" r="3.1" fill="#2b58a8"/>
<circle cx="694.10" cy="952.00" r="3.1" fill="#2b58a8"/>
<circle cx="679.60" cy="986.90" r="3.1" fill="#2b58a8"/>
<circle cx="682.60" cy="986.90" r="3.1" fill="#2b58a8"/>
<circle cx="685.70" cy="980.20" r="3.1" fill="#2b58a8"/>
<circle cx="691.70" cy="976.80" r="3.1" fill="#2b58a8"/>
<circle cx="694.70" cy="980.80" r="3.1" fill="#2b58a8"/>
<circle cx="694.70" cy="984.90" r="3.1" fill="#2b58a8"/>
<circle cx="714.90" cy="940.00" r="3.1" fill="#e4262b"/>
<circle cx="716.90" cy="940.00" r="3.1" fill="#e4262b"/>
<circle cx="736.60" cy="938.50" r="3.1" fill="#e4262b"/>
<circle cx="737.00" cy="942.60" r="3.1" fill="#e4262b"/>
<circle cx="747.50" cy="950.00" r="3.1" fill="#e4262b"/>
<circle cx="800.50" cy="958.70" r="3.1" fill="#e4262b"/>
<circle cx="836.10" cy="970.40" r="3.1" fill="#e4262b"/>
<circle cx="791.40" cy="984.30" r="3.1" fill="#e4262b"/>
<circle cx="799.40" cy="983.50" r="3.1" fill="#e4262b"/>
<circle cx="708.40" cy="970.40" r="3.1" fill="#e4262b"/>
<circle cx="717.30" cy="964.70" r="3.1" fill="#e4262b"/>
<circle cx="733.00" cy="980.40" r="3.1" fill="#e4262b"/>
<circle cx="739.00" cy="980.80" r="3.1" fill="#e4262b"/>
<circle cx="743.00" cy="983.90" r="3.1" fill="#e4262b"/>
<circle cx="707.00" cy="975.00" r="3.1" fill="#e4262b"/>
<circle cx="709.00" cy="980.00" r="3.1" fill="#e4262b"/>
<circle cx="711.00" cy="985.00" r="3.1" fill="#e4262b"/>
<circle cx="714.00" cy="978.00" r="3.1" fill="#e4262b"/>
<circle cx="717.00" cy="983.00" r="3.1" fill="#e4262b"/>
<circle cx="720.00" cy="986.00" r="3.1" fill="#e4262b"/>
<circle cx="722.00" cy="980.00" r="3.1" fill="#e4262b"/>
<circle cx="725.00" cy="984.00" r="3.1" fill="#e4262b"/>
<circle cx="712.00" cy="972.00" r="3.1" fill="#e4262b"/>
<circle cx="710.00" cy="976.00" r="3.1" fill="#e4262b"/>
<circle cx="718.00" cy="979.00" r="3.1" fill="#e4262b"/>
<circle cx="723.00" cy="987.00" r="3.1" fill="#e4262b"/>
<circle cx="714.00" cy="986.00" r="3.1" fill="#e4262b"/>
<g stroke="#000" stroke-width="2" stroke-dasharray="9.8,12.1">
<line x1="701.30" y1="1037.60" x2="701.30" y2="600.70" stroke="#000" stroke-width="2"/>
<line x1="494.50" y1="987.83" x2="876.00" y2="987.83" stroke="#000" stroke-width="2"/>
</g>
<line x1="612.90" y1="619.60" x2="568.50" y2="632.20" stroke="#000" stroke-width="1.5"/>
<text x="611.29" y="618.50" font-size="18.2" fill="#000">Gm26508</text>
<line x1="661.50" y1="904.70" x2="687.70" y2="937.10" stroke="#000" stroke-width="1.5"/>
<text x="627.79" y="901.30" font-size="18.2" fill="#000">Gdf1</text>
<line x1="651.40" y1="936.10" x2="692.30" y2="950.20" stroke="#000" stroke-width="1.5"/>
<text x="602.64" y="931.90" font-size="18.2" fill="#000">Myh14</text>
<line x1="728.60" y1="896.70" x2="715.90" y2="937.50" stroke="#000" stroke-width="1.5"/>
<text x="706.89" y="888.20" font-size="18.2" fill="#000">Gm27177</text>
<line x1="746.70" y1="916.40" x2="708.80" y2="968.70" stroke="#000" stroke-width="1.5"/>
<text x="747.64" y="913.40" font-size="18.2" fill="#000">Tmem267</text>
<line x1="767.20" y1="953.00" x2="717.90" y2="965.10" stroke="#000" stroke-width="1.5"/>
<text x="764.38" y="949.60" font-size="18.2" fill="#000">Snhg14</text>
<rect x="494.50" y="600.70" width="381.50" height="436.90" fill="none" stroke="#000" stroke-width="1.6"/>
<line x1="540.50" y1="1037.60" x2="540.50" y2="1052.10" stroke="#000" stroke-width="1.6"/>
<text x="521.02" y="1077.10" font-size="23.2" fill="#000">−10</text>
<line x1="620.90" y1="1037.60" x2="620.90" y2="1052.10" stroke="#000" stroke-width="1.6"/>
<text x="607.86" y="1077.10" font-size="23.2" fill="#000">−5</text>
<line x1="701.30" y1="1037.60" x2="701.30" y2="1052.10" stroke="#000" stroke-width="1.6"/>
<text x="694.86" y="1077.10" font-size="23.2" fill="#000">0</text>
<line x1="781.70" y1="1037.60" x2="781.70" y2="1052.10" stroke="#000" stroke-width="1.6"/>
<text x="775.26" y="1077.10" font-size="23.2" fill="#000">5</text>
<line x1="862.10" y1="1037.60" x2="862.10" y2="1052.10" stroke="#000" stroke-width="1.6"/>
<text x="848.82" y="1077.10" font-size="23.2" fill="#000">10</text>
<line x1="480.00" y1="1021.50" x2="494.50" y2="1021.50" stroke="#000" stroke-width="1.6"/>
<text x="0" y="0" font-size="23.2" fill="#000" transform="translate(469.20,1026.94) rotate(-90)">0</text>
<line x1="480.00" y1="954.16" x2="494.50" y2="954.16" stroke="#000" stroke-width="1.6"/>
<text x="0" y="0" font-size="23.2" fill="#000" transform="translate(469.20,959.60) rotate(-90)">2</text>
<line x1="480.00" y1="886.82" x2="494.50" y2="886.82" stroke="#000" stroke-width="1.6"/>
<text x="0" y="0" font-size="23.2" fill="#000" transform="translate(469.20,892.20) rotate(-90)">4</text>
<line x1="480.00" y1="819.48" x2="494.50" y2="819.48" stroke="#000" stroke-width="1.6"/>
<text x="0" y="0" font-size="23.2" fill="#000" transform="translate(469.20,824.98) rotate(-90)">6</text>
<line x1="480.00" y1="752.14" x2="494.50" y2="752.14" stroke="#000" stroke-width="1.6"/>
<text x="0" y="0" font-size="23.2" fill="#000" transform="translate(469.20,757.64) rotate(-90)">8</text>
<line x1="480.00" y1="684.80" x2="494.50" y2="684.80" stroke="#000" stroke-width="1.6"/>
<text x="0" y="0" font-size="23.2" fill="#000" transform="translate(469.20,697.08) rotate(-90)">10</text>
<line x1="480.00" y1="617.46" x2="494.50" y2="617.46" stroke="#000" stroke-width="1.6"/>
<text x="0" y="0" font-size="23.2" fill="#000" transform="translate(469.20,629.63) rotate(-90)">12</text>
<text x="0" y="0" font-size="29.3" fill="#000" transform="translate(416.40,885.47) rotate(-90)">−log10(FDR)</text>
<text x="654.40" y="1118.00" font-size="29.3" fill="#000">logFC</text>
<text x="599.07" y="574.40" font-size="40.5" font-weight="bold" fill="#000">mPFC-F</text>
<text x="396.27" y="563.60" font-size="25" font-weight="bold" fill="#000">D</text>
<circle cx="1231.14" cy="1012.99" r="3.1" fill="#b5b5b5"/>
<circle cx="1164.62" cy="1013.81" r="3.1" fill="#b5b5b5"/>
<circle cx="1190.96" cy="1013.06" r="3.1" fill="#b5b5b5"/>
<circle cx="1256.57" cy="1012.81" r="3.1" fill="#b5b5b5"/>
<circle cx="1203.58" cy="1012.53" r="3.1" fill="#b5b5b5"/>
<circle cx="1139.78" cy="1009.96" r="3.1" fill="#b5b5b5"/>
<circle cx="1238.03" cy="1010.79" r="3.1" fill="#b5b5b5"/>
<circle cx="1325.75" cy="1015.50" r="3.1" fill="#b5b5b5"/>
<circle cx="1163.11" cy="1012.60" r="3.1" fill="#b5b5b5"/>
<circle cx="1146.34" cy="1011.99" r="3.1" fill="#b5b5b5"/>
<circle cx="1216.30" cy="1013.70" r="3.1" fill="#b5b5b5"/>
<circle cx="1231.58" cy="1017.40" r="3.1" fill="#b5b5b5"/>
<circle cx="1331.68" cy="1015.97" r="3.1" fill="#b5b5b5"/>
<circle cx="1208.81" cy="1013.57" r="3.1" fill="#b5b5b5"/>
<circle cx="1158.86" cy="1013.58" r="3.1" fill="#b5b5b5"/>
<circle cx="1238.51" cy="1014.63" r="3.1" fill="#b5b5b5"/>
<circle cx="1222.24" cy="1016.33" r="3.1" fill="#b5b5b5"/>
<circle cx="1221.66" cy="1011.83" r="3.1" fill="#b5b5b5"/>
<circle cx="1143.43" cy="1012.41" r="3.1" fill="#b5b5b5"/>
<circle cx="1263.67" cy="1015.19" r="3.1" fill="#b5b5b5"/>
<circle cx="1231.48" cy="1014.48" r="3.1" fill="#b5b5b5"/>
<circle cx="1327.59" cy="1012.41" r="3.1" fill="#b5b5b5"/>
<circle cx="1209.03" cy="1013.05" r="3.1" fill="#b5b5b5"/>
<circle cx="1318.80" cy="1016.53" r="3.1" fill="#b5b5b5"/>
<circle cx="1290.47" cy="1016.61" r="3.1" fill="#b5b5b5"/>
<circle cx="1137.78" cy="1011.04" r="3.1" fill="#b5b5b5"/>
<circle cx="1236.96" cy="1015.82" r="3.1" fill="#b5b5b5"/>
<circle cx="1293.83" cy="1014.38" r="3.1" fill="#b5b5b5"/>
<circle cx="1182.04" cy="1015.05" r="3.1" fill="#b5b5b5"/>
<circle cx="1261.69" cy="1011.14" r="3.1" fill="#b5b5b5"/>
<circle cx="1315.25" cy="1016.30" r="3.1" fill="#b5b5b5"/>
<circle cx="1311.01" cy="1011.12" r="3.1" fill="#b5b5b5"/>
<circle cx="1239.28" cy="1013.01" r="3.1" fill="#b5b5b5"/>
<circle cx="1187.13" cy="1013.71" r="3.1" fill="#b5b5b5"/>
<circle cx="1220.27" cy="1014.64" r="3.1" fill="#b5b5b5"/>
<circle cx="1332.31" cy="1014.34" r="3.1" fill="#b5b5b5"/>
<circle cx="1288.42" cy="1014.47" r="3.1" fill="#b5b5b5"/>
<circle cx="1316.58" cy="1014.86" r="3.1" fill="#b5b5b5"/>
<circle cx="1205.68" cy="1013.03" r="3.1" fill="#b5b5b5"/>
<circle cx="1248.93" cy="1011.85" r="3.1" fill="#b5b5b5"/>
<circle cx="1317.15" cy="1013.05" r="3.1" fill="#b5b5b5"/>
<circle cx="1318.49" cy="1013.78" r="3.1" fill="#b5b5b5"/>
<circle cx="1212.09" cy="1015.85" r="3.1" fill="#b5b5b5"/>
<circle cx="1274.13" cy="1013.47" r="3.1" fill="#b5b5b5"/>
<circle cx="1276.44" cy="1016.34" r="3.1" fill="#b5b5b5"/>
<circle cx="1217.58" cy="1012.68" r="3.1" fill="#b5b5b5"/>
<circle cx="1275.47" cy="1013.37" r="3.1" fill="#b5b5b5"/>
<circle cx="1323.34" cy="1017.43" r="3.1" fill="#b5b5b5"/>
<circle cx="1233.80" cy="1016.62" r="3.1" fill="#b5b5b5"/>
<circle cx="1269.78" cy="1016.32" r="3.1" fill="#b5b5b5"/>
<circle cx="1192.09" cy="1014.94" r="3.1" fill="#b5b5b5"/>
<circle cx="1236.44" cy="1016.78" r="3.1" fill="#b5b5b5"/>
<circle cx="1229.15" cy="1011.83" r="3.1" fill="#b5b5b5"/>
<circle cx="1186.12" cy="1012.67" r="3.1" fill="#b5b5b5"/>
<circle cx="1302.70" cy="1014.69" r="3.1" fill="#b5b5b5"/>
<circle cx="1247.03" cy="1015.00" r="3.1" fill="#b5b5b5"/>
<circle cx="1282.78" cy="1014.58" r="3.1" fill="#b5b5b5"/>
<circle cx="1208.35" cy="1016.96" r="3.1" fill="#b5b5b5"/>
<circle cx="1186.51" cy="1013.01" r="3.1" fill="#b5b5b5"/>
<circle cx="1256.03" cy="1010.90" r="3.1" fill="#b5b5b5"/>
<circle cx="1264.48" cy="1014.31" r="3.1" fill="#b5b5b5"/>
<circle cx="1188.79" cy="1015.60" r="3.1" fill="#b5b5b5"/>
<circle cx="1213.12" cy="1012.77" r="3.1" fill="#b5b5b5"/>
<circle cx="1170.08" cy="1015.11" r="3.1" fill="#b5b5b5"/>
<circle cx="1330.62" cy="1017.36" r="3.1" fill="#b5b5b5"/>
<circle cx="1303.44" cy="1012.80" r="3.1" fill="#b5b5b5"/>
<circle cx="1207.94" cy="1016.01" r="3.1" fill="#b5b5b5"/>
<circle cx="1302.97" cy="1012.34" r="3.1" fill="#b5b5b5"/>
<circle cx="1138.65" cy="1012.30" r="3.1" fill="#b5b5b5"/>
<circle cx="1279.48" cy="1016.69" r="3.1" fill="#b5b5b5"/>
<circle cx="1308.81" cy="1017.11" r="3.1" fill="#b5b5b5"/>
<circle cx="1273.31" cy="1014.77" r="3.1" fill="#b5b5b5"/>
<circle cx="1241.76" cy="1011.45" r="3.1" fill="#b5b5b5"/>
<circle cx="1239.58" cy="1016.08" r="3.1" fill="#b5b5b5"/>
<circle cx="1321.37" cy="1013.02" r="3.1" fill="#b5b5b5"/>
<circle cx="1274.39" cy="1013.02" r="3.1" fill="#b5b5b5"/>
<circle cx="1221.58" cy="1013.29" r="3.1" fill="#b5b5b5"/>
<circle cx="1287.11" cy="1017.01" r="3.1" fill="#b5b5b5"/>
<circle cx="1148.55" cy="1013.53" r="3.1" fill="#b5b5b5"/>
<circle cx="1147.36" cy="1013.18" r="3.1" fill="#b5b5b5"/>
<circle cx="1259.44" cy="1010.25" r="3.1" fill="#b5b5b5"/>
<circle cx="1141.67" cy="1010.17" r="3.1" fill="#b5b5b5"/>
<circle cx="1220.92" cy="1015.60" r="3.1" fill="#b5b5b5"/>
<circle cx="1184.48" cy="1014.33" r="3.1" fill="#b5b5b5"/>
<circle cx="1289.38" cy="1015.94" r="3.1" fill="#b5b5b5"/>
<circle cx="1256.30" cy="1017.47" r="3.1" fill="#b5b5b5"/>
<circle cx="1181.84" cy="1013.31" r="3.1" fill="#b5b5b5"/>
<circle cx="1301.52" cy="1015.88" r="3.1" fill="#b5b5b5"/>
<circle cx="1212.52" cy="1011.48" r="3.1" fill="#b5b5b5"/>
<circle cx="1233.23" cy="1013.28" r="3.1" fill="#b5b5b5"/>
<circle cx="1243.44" cy="1016.09" r="3.1" fill="#b5b5b5"/>
<circle cx="1213.26" cy="1017.03" r="3.1" fill="#b5b5b5"/>
<circle cx="1244.44" cy="1011.14" r="3.1" fill="#b5b5b5"/>
<circle cx="1186.57" cy="1017.16" r="3.1" fill="#b5b5b5"/>
<circle cx="1283.74" cy="1016.72" r="3.1" fill="#b5b5b5"/>
<circle cx="1245.87" cy="1012.77" r="3.1" fill="#b5b5b5"/>
<circle cx="1335.94" cy="1014.73" r="3.1" fill="#b5b5b5"/>
<circle cx="1228.21" cy="1015.34" r="3.1" fill="#b5b5b5"/>
<circle cx="1209.61" cy="1011.69" r="3.1" fill="#b5b5b5"/>
<circle cx="1195.54" cy="1013.38" r="3.1" fill="#b5b5b5"/>
<circle cx="1215.65" cy="1013.44" r="3.1" fill="#b5b5b5"/>
<circle cx="1156.32" cy="1011.27" r="3.1" fill="#b5b5b5"/>
<circle cx="1334.33" cy="1016.81" r="3.1" fill="#b5b5b5"/>
<circle cx="1223.87" cy="1011.77" r="3.1" fill="#b5b5b5"/>
<circle cx="1182.78" cy="1014.01" r="3.1" fill="#b5b5b5"/>
<circle cx="1328.22" cy="1012.40" r="3.1" fill="#b5b5b5"/>
<circle cx="1214.54" cy="1015.67" r="3.1" fill="#b5b5b5"/>
<circle cx="1241.45" cy="1014.20" r="3.1" fill="#b5b5b5"/>
<circle cx="1268.78" cy="1013.09" r="3.1" fill="#b5b5b5"/>
<circle cx="1207.24" cy="1017.44" r="3.1" fill="#b5b5b5"/>
<circle cx="1314.45" cy="1015.68" r="3.1" fill="#b5b5b5"/>
<circle cx="1220.38" cy="1016.01" r="3.1" fill="#b5b5b5"/>
<circle cx="1218.97" cy="1017.31" r="3.1" fill="#b5b5b5"/>
<circle cx="1159.47" cy="1014.35" r="3.1" fill="#b5b5b5"/>
<circle cx="1212.12" cy="1014.28" r="3.1" fill="#b5b5b5"/>
<circle cx="1323.00" cy="1016.59" r="3.1" fill="#b5b5b5"/>
<circle cx="1308.45" cy="1011.38" r="3.1" fill="#b5b5b5"/>
<circle cx="1241.93" cy="1016.50" r="3.1" fill="#b5b5b5"/>
<circle cx="1318.52" cy="1015.12" r="3.1" fill="#b5b5b5"/>
<circle cx="1294.63" cy="1014.90" r="3.1" fill="#b5b5b5"/>
<circle cx="1304.22" cy="1015.38" r="3.1" fill="#b5b5b5"/>
<circle cx="1320.45" cy="1014.95" r="3.1" fill="#b5b5b5"/>
<circle cx="1304.83" cy="1014.65" r="3.1" fill="#b5b5b5"/>
<circle cx="1245.05" cy="1014.79" r="3.1" fill="#b5b5b5"/>
<circle cx="1316.47" cy="1013.56" r="3.1" fill="#b5b5b5"/>
<circle cx="1241.80" cy="1009.59" r="3.1" fill="#b5b5b5"/>
<circle cx="1296.27" cy="1014.74" r="3.1" fill="#b5b5b5"/>
<circle cx="1291.75" cy="1013.17" r="3.1" fill="#b5b5b5"/>
<circle cx="1266.33" cy="1016.24" r="3.1" fill="#b5b5b5"/>
<circle cx="1152.49" cy="1013.95" r="3.1" fill="#b5b5b5"/>
<circle cx="1331.54" cy="1014.56" r="3.1" fill="#b5b5b5"/>
<circle cx="1242.80" cy="1010.73" r="3.1" fill="#b5b5b5"/>
<circle cx="1268.45" cy="1014.23" r="3.1" fill="#b5b5b5"/>
<circle cx="1276.53" cy="1012.25" r="3.1" fill="#b5b5b5"/>
<circle cx="1286.51" cy="1012.87" r="3.1" fill="#b5b5b5"/>
<circle cx="1222.95" cy="1017.44" r="3.1" fill="#b5b5b5"/>
<circle cx="1260.74" cy="1017.13" r="3.1" fill="#b5b5b5"/>
<circle cx="1234.25" cy="1015.67" r="3.1" fill="#b5b5b5"/>
<circle cx="1249.51" cy="1013.68" r="3.1" fill="#b5b5b5"/>
<circle cx="1195.90" cy="1015.88" r="3.1" fill="#b5b5b5"/>
<circle cx="1322.77" cy="1013.78" r="3.1" fill="#b5b5b5"/>
<circle cx="1328.35" cy="1016.87" r="3.1" fill="#b5b5b5"/>
<circle cx="1223.67" cy="1015.80" r="3.1" fill="#b5b5b5"/>
<circle cx="1312.62" cy="1014.89" r="3.1" fill="#b5b5b5"/>
<circle cx="1149.57" cy="1012.82" r="3.1" fill="#b5b5b5"/>
<circle cx="1239.11" cy="1014.82" r="3.1" fill="#b5b5b5"/>
<circle cx="1225.75" cy="1016.60" r="3.1" fill="#b5b5b5"/>
<circle cx="1214.52" cy="1011.25" r="3.1" fill="#b5b5b5"/>
<circle cx="1319.11" cy="1014.56" r="3.1" fill="#b5b5b5"/>
<circle cx="1169.51" cy="1013.33" r="3.1" fill="#b5b5b5"/>
<circle cx="1258.03" cy="1013.72" r="3.1" fill="#b5b5b5"/>
<circle cx="1235.34" cy="1016.85" r="3.1" fill="#b5b5b5"/>
<circle cx="1191.20" cy="1016.26" r="3.1" fill="#b5b5b5"/>
<circle cx="1308.30" cy="1017.22" r="3.1" fill="#b5b5b5"/>
<circle cx="1168.71" cy="1010.92" r="3.1" fill="#b5b5b5"/>
<circle cx="1312.05" cy="1015.19" r="3.1" fill="#b5b5b5"/>
<circle cx="1161.29" cy="1013.49" r="3.1" fill="#b5b5b5"/>
<circle cx="1308.87" cy="1017.29" r="3.1" fill="#b5b5b5"/>
<circle cx="1223.99" cy="1011.82" r="3.1" fill="#b5b5b5"/>
<circle cx="1195.24" cy="1011.18" r="3.1" fill="#b5b5b5"/>
<circle cx="1328.43" cy="1017.27" r="3.1" fill="#b5b5b5"/>
<circle cx="1189.32" cy="1016.27" r="3.1" fill="#b5b5b5"/>
<circle cx="1280.56" cy="1013.59" r="3.1" fill="#b5b5b5"/>
<circle cx="1284.83" cy="1015.03" r="3.1" fill="#b5b5b5"/>
<circle cx="1333.39" cy="1011.91" r="3.1" fill="#b5b5b5"/>
<circle cx="1157.26" cy="1011.95" r="3.1" fill="#b5b5b5"/>
<circle cx="1313.47" cy="1012.99" r="3.1" fill="#b5b5b5"/>
<circle cx="1231.62" cy="1017.15" r="3.1" fill="#b5b5b5"/>
<circle cx="1137.51" cy="1010.09" r="3.1" fill="#b5b5b5"/>
<circle cx="1272.18" cy="1010.78" r="3.1" fill="#b5b5b5"/>
<circle cx="1214.75" cy="1013.59" r="3.1" fill="#b5b5b5"/>
<circle cx="1274.70" cy="1011.33" r="3.1" fill="#b5b5b5"/>
<circle cx="1273.83" cy="1011.71" r="3.1" fill="#b5b5b5"/>
<circle cx="1198.63" cy="1013.51" r="3.1" fill="#b5b5b5"/>
<circle cx="1199.23" cy="1016.14" r="3.1" fill="#b5b5b5"/>
<circle cx="1334.22" cy="1015.14" r="3.1" fill="#b5b5b5"/>
<circle cx="1207.28" cy="1015.76" r="3.1" fill="#b5b5b5"/>
<circle cx="1322.00" cy="1012.03" r="3.1" fill="#b5b5b5"/>
<circle cx="1299.13" cy="1016.48" r="3.1" fill="#b5b5b5"/>
<circle cx="1273.21" cy="1016.84" r="3.1" fill="#b5b5b5"/>
<circle cx="1294.69" cy="1017.23" r="3.1" fill="#b5b5b5"/>
<circle cx="1286.41" cy="1014.87" r="3.1" fill="#b5b5b5"/>
<circle cx="1225.18" cy="1017.29" r="3.1" fill="#b5b5b5"/>
<circle cx="1289.90" cy="1012.42" r="3.1" fill="#b5b5b5"/>
<circle cx="1219.17" cy="1010.81" r="3.1" fill="#b5b5b5"/>
<circle cx="1329.16" cy="1014.75" r="3.1" fill="#b5b5b5"/>
<circle cx="1265.95" cy="1012.64" r="3.1" fill="#b5b5b5"/>
<circle cx="1251.94" cy="1015.02" r="3.1" fill="#b5b5b5"/>
<circle cx="1290.92" cy="1014.04" r="3.1" fill="#b5b5b5"/>
<circle cx="1182.88" cy="1014.77" r="3.1" fill="#b5b5b5"/>
<circle cx="1281.71" cy="1016.88" r="3.1" fill="#b5b5b5"/>
<circle cx="1312.72" cy="1016.50" r="3.1" fill="#b5b5b5"/>
<circle cx="1255.71" cy="1014.74" r="3.1" fill="#b5b5b5"/>
<circle cx="1235.54" cy="1010.98" r="3.1" fill="#b5b5b5"/>
<circle cx="1333.20" cy="1012.11" r="3.1" fill="#b5b5b5"/>
<circle cx="1248.85" cy="1012.65" r="3.1" fill="#b5b5b5"/>
<circle cx="1227.54" cy="1013.25" r="3.1" fill="#b5b5b5"/>
<circle cx="1277.30" cy="1014.50" r="3.1" fill="#b5b5b5"/>
<circle cx="1244.52" cy="1016.30" r="3.1" fill="#b5b5b5"/>
<circle cx="1315.49" cy="1012.65" r="3.1" fill="#b5b5b5"/>
<circle cx="1260.75" cy="1014.87" r="3.1" fill="#b5b5b5"/>
<circle cx="1296.02" cy="1016.80" r="3.1" fill="#b5b5b5"/>
<circle cx="1263.83" cy="1014.58" r="3.1" fill="#b5b5b5"/>
<circle cx="1273.51" cy="1016.23" r="3.1" fill="#b5b5b5"/>
<circle cx="1227.17" cy="1012.01" r="3.1" fill="#b5b5b5"/>
<circle cx="1302.60" cy="1013.81" r="3.1" fill="#b5b5b5"/>
<circle cx="1233.10" cy="1010.41" r="3.1" fill="#b5b5b5"/>
<circle cx="1202.42" cy="1016.51" r="3.1" fill="#b5b5b5"/>
<circle cx="1236.56" cy="1012.10" r="3.1" fill="#b5b5b5"/>
<circle cx="1307.49" cy="1013.74" r="3.1" fill="#b5b5b5"/>
<circle cx="1197.52" cy="1017.48" r="3.1" fill="#b5b5b5"/>
<circle cx="1225.46" cy="1014.85" r="3.1" fill="#b5b5b5"/>
<circle cx="1260.81" cy="1013.60" r="3.1" fill="#b5b5b5"/>
<circle cx="1211.01" cy="1012.88" r="3.1" fill="#b5b5b5"/>
<circle cx="1331.89" cy="1015.41" r="3.1" fill="#b5b5b5"/>
<circle cx="1199.04" cy="1015.65" r="3.1" fill="#b5b5b5"/>
<circle cx="1288.99" cy="1017.11" r="3.1" fill="#b5b5b5"/>
<circle cx="1195.52" cy="1011.96" r="3.1" fill="#b5b5b5"/>
<circle cx="1215.30" cy="1012.98" r="3.1" fill="#b5b5b5"/>
<circle cx="1333.70" cy="1013.68" r="3.1" fill="#b5b5b5"/>
<circle cx="1285.54" cy="1014.01" r="3.1" fill="#b5b5b5"/>
<circle cx="1271.48" cy="1015.68" r="3.1" fill="#b5b5b5"/>
<circle cx="1219.48" cy="1012.16" r="3.1" fill="#b5b5b5"/>
<circle cx="1306.78" cy="1012.00" r="3.1" fill="#b5b5b5"/>
<circle cx="1189.13" cy="1012.09" r="3.1" fill="#b5b5b5"/>
<circle cx="1284.68" cy="1013.65" r="3.1" fill="#b5b5b5"/>
<circle cx="1286.43" cy="1013.81" r="3.1" fill="#b5b5b5"/>
<circle cx="1256.06" cy="1012.14" r="3.1" fill="#b5b5b5"/>
<circle cx="1197.16" cy="1012.53" r="3.1" fill="#b5b5b5"/>
<circle cx="1221.64" cy="1014.90" r="3.1" fill="#b5b5b5"/>
<circle cx="1251.48" cy="1014.54" r="3.1" fill="#b5b5b5"/>
<circle cx="1197.83" cy="1014.15" r="3.1" fill="#b5b5b5"/>
<circle cx="1225.43" cy="1014.59" r="3.1" fill="#b5b5b5"/>
<circle cx="1292.92" cy="1016.96" r="3.1" fill="#b5b5b5"/>
<circle cx="1330.06" cy="1016.21" r="3.1" fill="#b5b5b5"/>
<circle cx="1279.65" cy="1015.39" r="3.1" fill="#b5b5b5"/>
<circle cx="1153.43" cy="1012.27" r="3.1" fill="#b5b5b5"/>
<circle cx="1312.91" cy="1011.35" r="3.1" fill="#b5b5b5"/>
<circle cx="1258.65" cy="1017.03" r="3.1" fill="#b5b5b5"/>
<circle cx="1255.73" cy="1013.73" r="3.1" fill="#b5b5b5"/>
<circle cx="1310.57" cy="1015.26" r="3.1" fill="#b5b5b5"/>
<circle cx="1301.29" cy="1012.86" r="3.1" fill="#b5b5b5"/>
<circle cx="1327.38" cy="1013.48" r="3.1" fill="#b5b5b5"/>
<circle cx="1317.16" cy="1016.17" r="3.1" fill="#b5b5b5"/>
<circle cx="1177.49" cy="1016.71" r="3.1" fill="#b5b5b5"/>
<circle cx="1239.30" cy="1011.35" r="3.1" fill="#b5b5b5"/>
<circle cx="1269.11" cy="1011.25" r="3.1" fill="#b5b5b5"/>
<circle cx="1250.17" cy="1015.38" r="3.1" fill="#b5b5b5"/>
<circle cx="1237.86" cy="1013.43" r="3.1" fill="#b5b5b5"/>
<circle cx="1266.57" cy="1017.46" r="3.1" fill="#b5b5b5"/>
<circle cx="1228.07" cy="1014.49" r="3.1" fill="#b5b5b5"/>
<circle cx="1282.45" cy="1010.76" r="3.1" fill="#b5b5b5"/>
<circle cx="1241.29" cy="1013.19" r="3.1" fill="#b5b5b5"/>
<circle cx="1299.05" cy="1011.53" r="3.1" fill="#b5b5b5"/>
<circle cx="1314.88" cy="1014.53" r="3.1" fill="#b5b5b5"/>
<circle cx="1248.22" cy="1013.18" r="3.1" fill="#b5b5b5"/>
<circle cx="1167.67" cy="1011.79" r="3.1" fill="#b5b5b5"/>
<circle cx="1252.16" cy="1009.99" r="3.1" fill="#b5b5b5"/>
<circle cx="1279.08" cy="1013.72" r="3.1" fill="#b5b5b5"/>
<circle cx="1186.49" cy="1015.24" r="3.1" fill="#b5b5b5"/>
<circle cx="1262.13" cy="1014.70" r="3.1" fill="#b5b5b5"/>
<circle cx="1318.96" cy="1015.40" r="3.1" fill="#b5b5b5"/>
<circle cx="1304.44" cy="1011.52" r="3.1" fill="#b5b5b5"/>
<circle cx="1277.99" cy="1015.26" r="3.1" fill="#b5b5b5"/>
<circle cx="1291.94" cy="1017.48" r="3.1" fill="#b5b5b5"/>
<circle cx="1248.87" cy="1015.09" r="3.1" fill="#b5b5b5"/>
<circle cx="1194.59" cy="1014.00" r="3.1" fill="#b5b5b5"/>
<circle cx="1204.35" cy="1017.20" r="3.1" fill="#b5b5b5"/>
<circle cx="1309.66" cy="1015.70" r="3.1" fill="#b5b5b5"/>
<circle cx="1303.45" cy="1017.31" r="3.1" fill="#b5b5b5"/>
<circle cx="1202.35" cy="1012.37" r="3.1" fill="#b5b5b5"/>
<circle cx="1140.88" cy="1011.17" r="3.1" fill="#b5b5b5"/>
<circle cx="1146.78" cy="1012.44" r="3.1" fill="#b5b5b5"/>
<circle cx="1306.23" cy="1012.72" r="3.1" fill="#b5b5b5"/>
<circle cx="1247.37" cy="1013.49" r="3.1" fill="#b5b5b5"/>
<circle cx="1293.93" cy="1012.94" r="3.1" fill="#b5b5b5"/>
<circle cx="1189.17" cy="1011.56" r="3.1" fill="#b5b5b5"/>
<circle cx="1321.54" cy="1015.02" r="3.1" fill="#b5b5b5"/>
<circle cx="1235.56" cy="1014.88" r="3.1" fill="#b5b5b5"/>
<circle cx="1232.25" cy="1016.58" r="3.1" fill="#b5b5b5"/>
<circle cx="1158.08" cy="1011.57" r="3.1" fill="#b5b5b5"/>
<circle cx="1206.31" cy="1014.62" r="3.1" fill="#b5b5b5"/>
<circle cx="1299.42" cy="1013.93" r="3.1" fill="#b5b5b5"/>
<circle cx="1302.43" cy="1016.95" r="3.1" fill="#b5b5b5"/>
<circle cx="1251.95" cy="1012.23" r="3.1" fill="#b5b5b5"/>
<circle cx="1327.59" cy="1015.78" r="3.1" fill="#b5b5b5"/>
<circle cx="1214.96" cy="1016.90" r="3.1" fill="#b5b5b5"/>
<circle cx="1263.19" cy="1016.11" r="3.1" fill="#b5b5b5"/>
<circle cx="1306.50" cy="1015.22" r="3.1" fill="#b5b5b5"/>
<circle cx="1188.11" cy="1013.90" r="3.1" fill="#b5b5b5"/>
<circle cx="1288.41" cy="1017.50" r="3.1" fill="#b5b5b5"/>
<circle cx="1245.55" cy="1016.88" r="3.1" fill="#b5b5b5"/>
<circle cx="1190.39" cy="1015.93" r="3.1" fill="#b5b5b5"/>
<circle cx="1238.78" cy="1017.48" r="3.1" fill="#b5b5b5"/>
<circle cx="1184.73" cy="1017.37" r="3.1" fill="#b5b5b5"/>
<circle cx="1228.50" cy="1016.66" r="3.1" fill="#b5b5b5"/>
<circle cx="1278.88" cy="1011.64" r="3.1" fill="#b5b5b5"/>
<circle cx="1336.13" cy="1017.44" r="3.1" fill="#b5b5b5"/>
<circle cx="1187.59" cy="1011.50" r="3.1" fill="#b5b5b5"/>
<circle cx="1224.86" cy="1013.55" r="3.1" fill="#b5b5b5"/>
<circle cx="1191.75" cy="1011.93" r="3.1" fill="#b5b5b5"/>
<circle cx="1321.27" cy="1013.70" r="3.1" fill="#b5b5b5"/>
<circle cx="1280.89" cy="1017.27" r="3.1" fill="#b5b5b5"/>
<circle cx="1274.95" cy="1016.95" r="3.1" fill="#b5b5b5"/>
<circle cx="1197.64" cy="1016.17" r="3.1" fill="#b5b5b5"/>
<circle cx="1258.82" cy="1012.10" r="3.1" fill="#b5b5b5"/>
<circle cx="1166.55" cy="1011.25" r="3.1" fill="#b5b5b5"/>
<circle cx="1220.22" cy="1010.98" r="3.1" fill="#b5b5b5"/>
<circle cx="1262.25" cy="1016.15" r="3.1" fill="#b5b5b5"/>
<circle cx="1211.51" cy="1016.36" r="3.1" fill="#b5b5b5"/>
<circle cx="1258.48" cy="1017.43" r="3.1" fill="#b5b5b5"/>
<circle cx="1144.70" cy="1011.24" r="3.1" fill="#b5b5b5"/>
<circle cx="1251.81" cy="1016.80" r="3.1" fill="#b5b5b5"/>
<circle cx="1247.75" cy="1017.19" r="3.1" fill="#b5b5b5"/>
<circle cx="1214.67" cy="1016.11" r="3.1" fill="#b5b5b5"/>
<circle cx="1335.02" cy="1015.86" r="3.1" fill="#b5b5b5"/>
<circle cx="1262.15" cy="1012.40" r="3.1" fill="#b5b5b5"/>
<circle cx="1241.27" cy="1017.31" r="3.1" fill="#b5b5b5"/>
<circle cx="1292.54" cy="1014.03" r="3.1" fill="#b5b5b5"/>
<circle cx="1206.72" cy="1015.71" r="3.1" fill="#b5b5b5"/>
<circle cx="1259.97" cy="1016.50" r="3.1" fill="#b5b5b5"/>
<circle cx="1279.29" cy="1013.33" r="3.1" fill="#b5b5b5"/>
<circle cx="1307.34" cy="1012.36" r="3.1" fill="#b5b5b5"/>
<circle cx="1200.01" cy="1016.53" r="3.1" fill="#b5b5b5"/>
<circle cx="1314.16" cy="1011.89" r="3.1" fill="#b5b5b5"/>
<circle cx="1141.75" cy="1012.15" r="3.1" fill="#b5b5b5"/>
<circle cx="1271.09" cy="1016.47" r="3.1" fill="#b5b5b5"/>
<circle cx="1301.07" cy="1017.33" r="3.1" fill="#b5b5b5"/>
<circle cx="1148.78" cy="1011.97" r="3.1" fill="#b5b5b5"/>
<circle cx="1284.13" cy="1011.32" r="3.1" fill="#b5b5b5"/>
<circle cx="1253.10" cy="1012.27" r="3.1" fill="#b5b5b5"/>
<circle cx="1287.76" cy="1015.72" r="3.1" fill="#b5b5b5"/>
<circle cx="1319.33" cy="1016.50" r="3.1" fill="#b5b5b5"/>
<circle cx="1209.32" cy="1017.32" r="3.1" fill="#b5b5b5"/>
<circle cx="1224.57" cy="1012.99" r="3.1" fill="#b5b5b5"/>
<circle cx="1233.03" cy="1013.21" r="3.1" fill="#b5b5b5"/>
<circle cx="1297.49" cy="1013.79" r="3.1" fill="#b5b5b5"/>
<circle cx="1220.01" cy="1015.49" r="3.1" fill="#b5b5b5"/>
<circle cx="1248.18" cy="1010.01" r="3.1" fill="#b5b5b5"/>
<circle cx="1302.00" cy="1017.41" r="3.1" fill="#b5b5b5"/>
<circle cx="1253.77" cy="1013.45" r="3.1" fill="#b5b5b5"/>
<circle cx="1154.92" cy="1012.28" r="3.1" fill="#b5b5b5"/>
<circle cx="1183.87" cy="1015.77" r="3.1" fill="#b5b5b5"/>
<circle cx="1288.44" cy="1012.45" r="3.1" fill="#b5b5b5"/>
<circle cx="1183.83" cy="1012.74" r="3.1" fill="#b5b5b5"/>
<circle cx="1314.65" cy="1016.66" r="3.1" fill="#b5b5b5"/>
<circle cx="1236.21" cy="1010.79" r="3.1" fill="#b5b5b5"/>
<circle cx="1223.46" cy="1016.53" r="3.1" fill="#b5b5b5"/>
<circle cx="1257.92" cy="1015.02" r="3.1" fill="#b5b5b5"/>
<circle cx="1246.20" cy="1013.61" r="3.1" fill="#b5b5b5"/>
<circle cx="1219.45" cy="1016.08" r="3.1" fill="#b5b5b5"/>
<circle cx="1156.15" cy="1013.36" r="3.1" fill="#b5b5b5"/>
<circle cx="1307.48" cy="1017.25" r="3.1" fill="#b5b5b5"/>
<circle cx="1236.62" cy="1015.73" r="3.1" fill="#b5b5b5"/>
<circle cx="1164.76" cy="1011.76" r="3.1" fill="#b5b5b5"/>
<circle cx="1233.67" cy="1011.33" r="3.1" fill="#b5b5b5"/>
<circle cx="1312.86" cy="1014.56" r="3.1" fill="#b5b5b5"/>
<circle cx="1327.75" cy="1016.05" r="3.1" fill="#b5b5b5"/>
<circle cx="1239.66" cy="1010.98" r="3.1" fill="#b5b5b5"/>
<circle cx="1279.98" cy="1012.21" r="3.1" fill="#b5b5b5"/>
<circle cx="1255.27" cy="1017.09" r="3.1" fill="#b5b5b5"/>
<circle cx="1277.91" cy="1016.26" r="3.1" fill="#b5b5b5"/>
<circle cx="1272.17" cy="1012.99" r="3.1" fill="#b5b5b5"/>
<circle cx="1156.70" cy="1012.29" r="3.1" fill="#b5b5b5"/>
<circle cx="1165.58" cy="1013.47" r="3.1" fill="#b5b5b5"/>
<circle cx="1245.56" cy="1009.38" r="3.1" fill="#b5b5b5"/>
<circle cx="1264.70" cy="1011.66" r="3.1" fill="#b5b5b5"/>
<circle cx="1334.47" cy="1017.48" r="3.1" fill="#b5b5b5"/>
<circle cx="1248.09" cy="1017.35" r="3.1" fill="#b5b5b5"/>
<circle cx="1280.81" cy="1012.03" r="3.1" fill="#b5b5b5"/>
<circle cx="1244.99" cy="1014.63" r="3.1" fill="#b5b5b5"/>
<circle cx="1192.03" cy="1014.05" r="3.1" fill="#b5b5b5"/>
<circle cx="1298.16" cy="1012.25" r="3.1" fill="#b5b5b5"/>
<circle cx="1153.93" cy="1014.17" r="3.1" fill="#b5b5b5"/>
<circle cx="1321.51" cy="1016.68" r="3.1" fill="#b5b5b5"/>
<circle cx="1257.26" cy="1015.93" r="3.1" fill="#b5b5b5"/>
<circle cx="1295.57" cy="1017.36" r="3.1" fill="#b5b5b5"/>
<circle cx="1334.58" cy="1016.45" r="3.1" fill="#b5b5b5"/>
<circle cx="1267.66" cy="1013.83" r="3.1" fill="#b5b5b5"/>
<circle cx="1181.75" cy="1016.33" r="3.1" fill="#b5b5b5"/>
<circle cx="1336.32" cy="1012.11" r="3.1" fill="#b5b5b5"/>
<circle cx="1226.58" cy="1014.25" r="3.1" fill="#b5b5b5"/>
<circle cx="1150.25" cy="1013.61" r="3.1" fill="#b5b5b5"/>
<circle cx="1171.54" cy="1015.69" r="3.1" fill="#b5b5b5"/>
<circle cx="1320.30" cy="1016.55" r="3.1" fill="#b5b5b5"/>
<circle cx="1281.28" cy="1017.25" r="3.1" fill="#b5b5b5"/>
<circle cx="1196.25" cy="1012.86" r="3.1" fill="#b5b5b5"/>
<circle cx="1202.77" cy="1017.42" r="3.1" fill="#b5b5b5"/>
<circle cx="1187.82" cy="1012.79" r="3.1" fill="#b5b5b5"/>
<circle cx="1311.16" cy="1017.28" r="3.1" fill="#b5b5b5"/>
<circle cx="1303.73" cy="1016.20" r="3.1" fill="#b5b5b5"/>
<circle cx="1162.29" cy="1014.17" r="3.1" fill="#b5b5b5"/>
<circle cx="1207.58" cy="1013.06" r="3.1" fill="#b5b5b5"/>
<circle cx="1280.19" cy="1016.64" r="3.1" fill="#b5b5b5"/>
<circle cx="1172.92" cy="1015.03" r="3.1" fill="#b5b5b5"/>
<circle cx="1333.14" cy="1016.27" r="3.1" fill="#b5b5b5"/>
<circle cx="1282.29" cy="1013.96" r="3.1" fill="#b5b5b5"/>
<circle cx="1218.04" cy="1017.12" r="3.1" fill="#b5b5b5"/>
<circle cx="1305.52" cy="1016.71" r="3.1" fill="#b5b5b5"/>
<circle cx="1282.12" cy="1015.49" r="3.1" fill="#b5b5b5"/>
<circle cx="1158.72" cy="1012.11" r="3.1" fill="#b5b5b5"/>
<circle cx="1191.04" cy="1011.49" r="3.1" fill="#b5b5b5"/>
<circle cx="1254.18" cy="1014.08" r="3.1" fill="#b5b5b5"/>
<circle cx="1194.27" cy="1012.26" r="3.1" fill="#b5b5b5"/>
<circle cx="1326.07" cy="1013.19" r="3.1" fill="#b5b5b5"/>
<circle cx="1300.93" cy="1017.08" r="3.1" fill="#b5b5b5"/>
<circle cx="1315.87" cy="1015.06" r="3.1" fill="#b5b5b5"/>
<circle cx="1300.45" cy="1016.30" r="3.1" fill="#b5b5b5"/>
<circle cx="1239.53" cy="1016.50" r="3.1" fill="#b5b5b5"/>
<circle cx="1284.42" cy="1012.94" r="3.1" fill="#b5b5b5"/>
<circle cx="1250.26" cy="1014.50" r="3.1" fill="#b5b5b5"/>
<circle cx="1282.99" cy="1013.34" r="3.1" fill="#b5b5b5"/>
<circle cx="1234.59" cy="1013.81" r="3.1" fill="#b5b5b5"/>
<circle cx="1300.58" cy="1015.95" r="3.1" fill="#b5b5b5"/>
<circle cx="1210.13" cy="1015.31" r="3.1" fill="#b5b5b5"/>
<circle cx="1183.04" cy="1016.50" r="3.1" fill="#b5b5b5"/>
<circle cx="1226.06" cy="1013.18" r="3.1" fill="#b5b5b5"/>
<circle cx="1263.87" cy="1011.99" r="3.1" fill="#b5b5b5"/>
<circle cx="1203.25" cy="1014.08" r="3.1" fill="#b5b5b5"/>
<circle cx="1297.10" cy="1016.13" r="3.1" fill="#b5b5b5"/>
<circle cx="1309.75" cy="1011.20" r="3.1" fill="#b5b5b5"/>
<circle cx="1230.74" cy="1011.66" r="3.1" fill="#b5b5b5"/>
<circle cx="1265.33" cy="1013.31" r="3.1" fill="#b5b5b5"/>
<circle cx="1274.92" cy="1014.89" r="3.1" fill="#b5b5b5"/>
<circle cx="1218.12" cy="1011.38" r="3.1" fill="#b5b5b5"/>
<circle cx="1160.26" cy="1012.46" r="3.1" fill="#b5b5b5"/>
<circle cx="1216.15" cy="1017.29" r="3.1" fill="#b5b5b5"/>
<circle cx="1258.27" cy="1010.68" r="3.1" fill="#b5b5b5"/>
<circle cx="1240.59" cy="1017.26" r="3.1" fill="#b5b5b5"/>
<circle cx="1197.21" cy="1011.89" r="3.1" fill="#b5b5b5"/>
<circle cx="1314.81" cy="1012.40" r="3.1" fill="#b5b5b5"/>
<circle cx="1216.29" cy="1013.00" r="3.1" fill="#b5b5b5"/>
<circle cx="1242.30" cy="1011.37" r="3.1" fill="#b5b5b5"/>
<circle cx="1157.02" cy="1014.24" r="3.1" fill="#b5b5b5"/>
<circle cx="1185.18" cy="1013.59" r="3.1" fill="#b5b5b5"/>
<circle cx="1225.99" cy="1010.88" r="3.1" fill="#b5b5b5"/>
<circle cx="1284.17" cy="1017.04" r="3.1" fill="#b5b5b5"/>
<circle cx="1244.59" cy="1014.27" r="3.1" fill="#b5b5b5"/>
<circle cx="1247.81" cy="1011.68" r="3.1" fill="#b5b5b5"/>
<circle cx="1272.31" cy="1013.82" r="3.1" fill="#b5b5b5"/>
<circle cx="1319.61" cy="1012.71" r="3.1" fill="#b5b5b5"/>
<circle cx="1200.51" cy="1015.18" r="3.1" fill="#b5b5b5"/>
<circle cx="1226.96" cy="1016.76" r="3.1" fill="#b5b5b5"/>
<circle cx="1309.93" cy="1013.68" r="3.1" fill="#b5b5b5"/>
<circle cx="1136.31" cy="1011.10" r="3.1" fill="#b5b5b5"/>
<circle cx="1274.20" cy="1015.17" r="3.1" fill="#b5b5b5"/>
<circle cx="1246.83" cy="1012.42" r="3.1" fill="#b5b5b5"/>
<circle cx="1283.50" cy="1011.09" r="3.1" fill="#b5b5b5"/>
<circle cx="1324.96" cy="1015.76" r="3.1" fill="#b5b5b5"/>
<circle cx="1138.73" cy="1010.32" r="3.1" fill="#b5b5b5"/>
<circle cx="1200.22" cy="1017.30" r="3.1" fill="#b5b5b5"/>
<circle cx="1213.80" cy="1012.74" r="3.1" fill="#b5b5b5"/>
<circle cx="1289.65" cy="1014.04" r="3.1" fill="#b5b5b5"/>
<circle cx="1201.53" cy="1016.49" r="3.1" fill="#b5b5b5"/>
<circle cx="1263.31" cy="1017.28" r="3.1" fill="#b5b5b5"/>
<circle cx="1147.58" cy="1012.03" r="3.1" fill="#b5b5b5"/>
<circle cx="1215.41" cy="1010.71" r="3.1" fill="#b5b5b5"/>
<circle cx="1143.76" cy="1011.61" r="3.1" fill="#b5b5b5"/>
<circle cx="1140.67" cy="1012.70" r="3.1" fill="#b5b5b5"/>
<circle cx="1259.99" cy="1017.37" r="3.1" fill="#b5b5b5"/>
<circle cx="1296.80" cy="1015.80" r="3.1" fill="#b5b5b5"/>
<circle cx="1286.01" cy="1013.07" r="3.1" fill="#b5b5b5"/>
<circle cx="1260.41" cy="1011.55" r="3.1" fill="#b5b5b5"/>
<circle cx="1142.24" cy="1010.28" r="3.1" fill="#b5b5b5"/>
<circle cx="1332.09" cy="1017.35" r="3.1" fill="#b5b5b5"/>
<circle cx="1249.01" cy="1017.33" r="3.1" fill="#b5b5b5"/>
<circle cx="1237.92" cy="1016.46" r="3.1" fill="#b5b5b5"/>
<circle cx="1295.91" cy="1012.08" r="3.1" fill="#b5b5b5"/>
<circle cx="1210.91" cy="1013.16" r="3.1" fill="#b5b5b5"/>
<circle cx="1220.43" cy="1017.42" r="3.1" fill="#b5b5b5"/>
<circle cx="1295.80" cy="1014.23" r="3.1" fill="#b5b5b5"/>
<circle cx="1303.48" cy="1013.85" r="3.1" fill="#b5b5b5"/>
<circle cx="1153.01" cy="1010.51" r="3.1" fill="#b5b5b5"/>
<circle cx="1197.01" cy="1014.85" r="3.1" fill="#b5b5b5"/>
<circle cx="1252.18" cy="1011.40" r="3.1" fill="#b5b5b5"/>
<circle cx="1202.30" cy="1015.61" r="3.1" fill="#b5b5b5"/>
<circle cx="1271.04" cy="1011.34" r="3.1" fill="#b5b5b5"/>
<circle cx="1267.14" cy="1016.34" r="3.1" fill="#b5b5b5"/>
<circle cx="1267.57" cy="1015.62" r="3.1" fill="#b5b5b5"/>
<circle cx="1224.48" cy="1015.77" r="3.1" fill="#b5b5b5"/>
<circle cx="1262.52" cy="1017.29" r="3.1" fill="#b5b5b5"/>
<circle cx="1189.06" cy="1015.21" r="3.1" fill="#b5b5b5"/>
<circle cx="1307.01" cy="1016.64" r="3.1" fill="#b5b5b5"/>
<circle cx="1188.12" cy="1017.50" r="3.1" fill="#b5b5b5"/>
<circle cx="1216.12" cy="1011.01" r="3.1" fill="#b5b5b5"/>
<circle cx="1204.66" cy="1016.77" r="3.1" fill="#b5b5b5"/>
<circle cx="1286.75" cy="1017.43" r="3.1" fill="#b5b5b5"/>
<circle cx="1287.25" cy="1011.33" r="3.1" fill="#b5b5b5"/>
<circle cx="1244.94" cy="1011.50" r="3.1" fill="#b5b5b5"/>
<circle cx="1246.68" cy="1009.76" r="3.1" fill="#b5b5b5"/>
<circle cx="1195.54" cy="1017.31" r="3.1" fill="#b5b5b5"/>
<circle cx="1246.38" cy="1016.50" r="3.1" fill="#b5b5b5"/>
<circle cx="1247.09" cy="1011.10" r="3.1" fill="#b5b5b5"/>
<circle cx="1194.06" cy="1015.10" r="3.1" fill="#b5b5b5"/>
<circle cx="1263.19" cy="1012.92" r="3.1" fill="#b5b5b5"/>
<circle cx="1180.40" cy="1016.69" r="3.1" fill="#b5b5b5"/>
<circle cx="1323.03" cy="1013.30" r="3.1" fill="#b5b5b5"/>
<circle cx="1296.01" cy="1011.68" r="3.1" fill="#b5b5b5"/>
<circle cx="1218.60" cy="1010.12" r="3.1" fill="#b5b5b5"/>
<circle cx="1207.80" cy="1011.20" r="3.1" fill="#b5b5b5"/>
<circle cx="1201.77" cy="1012.73" r="3.1" fill="#b5b5b5"/>
<circle cx="1254.94" cy="1013.34" r="3.1" fill="#b5b5b5"/>
<circle cx="1153.65" cy="1011.91" r="3.1" fill="#b5b5b5"/>
<circle cx="1142.25" cy="1012.74" r="3.1" fill="#b5b5b5"/>
<circle cx="1231.81" cy="1014.30" r="3.1" fill="#b5b5b5"/>
<circle cx="1190.92" cy="1013.99" r="3.1" fill="#b5b5b5"/>
<circle cx="1139.73" cy="1012.03" r="3.1" fill="#b5b5b5"/>
<circle cx="1297.78" cy="1013.14" r="3.1" fill="#b5b5b5"/>
<circle cx="1245.16" cy="1010.19" r="3.1" fill="#b5b5b5"/>
<circle cx="1139.02" cy="1011.73" r="3.1" fill="#b5b5b5"/>
<circle cx="1227.72" cy="1015.23" r="3.1" fill="#b5b5b5"/>
<circle cx="1210.02" cy="1013.96" r="3.1" fill="#b5b5b5"/>
<circle cx="1229.17" cy="1012.54" r="3.1" fill="#b5b5b5"/>
<circle cx="1283.69" cy="1015.01" r="3.1" fill="#b5b5b5"/>
<circle cx="1305.12" cy="1017.25" r="3.1" fill="#b5b5b5"/>
<circle cx="1285.30" cy="1017.06" r="3.1" fill="#b5b5b5"/>
<circle cx="1155.99" cy="1012.62" r="3.1" fill="#b5b5b5"/>
<circle cx="1220.78" cy="1010.41" r="3.1" fill="#b5b5b5"/>
<circle cx="1269.89" cy="1010.57" r="3.1" fill="#b5b5b5"/>
<circle cx="1184.06" cy="1017.11" r="3.1" fill="#b5b5b5"/>
<circle cx="1245.67" cy="1017.35" r="3.1" fill="#b5b5b5"/>
<circle cx="1277.74" cy="1013.35" r="3.1" fill="#b5b5b5"/>
<circle cx="1274.59" cy="1017.49" r="3.1" fill="#b5b5b5"/>
<circle cx="1173.93" cy="1015.35" r="3.1" fill="#b5b5b5"/>
<circle cx="1329.12" cy="1014.38" r="3.1" fill="#b5b5b5"/>
<circle cx="1266.88" cy="1012.14" r="3.1" fill="#b5b5b5"/>
<circle cx="1231.98" cy="1015.22" r="3.1" fill="#b5b5b5"/>
<circle cx="1217.42" cy="1011.58" r="3.1" fill="#b5b5b5"/>
<circle cx="1301.44" cy="1014.58" r="3.1" fill="#b5b5b5"/>
<circle cx="1241.11" cy="1015.32" r="3.1" fill="#b5b5b5"/>
<circle cx="1324.32" cy="1016.93" r="3.1" fill="#b5b5b5"/>
<circle cx="1254.67" cy="1015.58" r="3.1" fill="#b5b5b5"/>
<circle cx="1209.91" cy="1016.66" r="3.1" fill="#b5b5b5"/>
<circle cx="1223.83" cy="1014.34" r="3.1" fill="#b5b5b5"/>
<circle cx="1243.21" cy="1013.17" r="3.1" fill="#b5b5b5"/>
<circle cx="1236.50" cy="1014.42" r="3.1" fill="#b5b5b5"/>
<circle cx="1247.68" cy="1009.02" r="3.1" fill="#b5b5b5"/>
<circle cx="1301.83" cy="1011.94" r="3.1" fill="#b5b5b5"/>
<circle cx="1266.61" cy="1011.51" r="3.1" fill="#b5b5b5"/>
<circle cx="1250.93" cy="1012.96" r="3.1" fill="#b5b5b5"/>
<circle cx="1300.39" cy="1017.35" r="3.1" fill="#b5b5b5"/>
<circle cx="1145.74" cy="1013.27" r="3.1" fill="#b5b5b5"/>
<circle cx="1174.35" cy="1013.35" r="3.1" fill="#b5b5b5"/>
<circle cx="1266.15" cy="1013.44" r="3.1" fill="#b5b5b5"/>
<circle cx="1265.77" cy="1015.63" r="3.1" fill="#b5b5b5"/>
<circle cx="1205.44" cy="1014.80" r="3.1" fill="#b5b5b5"/>
<circle cx="1310.35" cy="1017.22" r="3.1" fill="#b5b5b5"/>
<circle cx="1206.21" cy="1013.20" r="3.1" fill="#b5b5b5"/>
<circle cx="1153.91" cy="1011.70" r="3.1" fill="#b5b5b5"/>
<circle cx="1233.74" cy="1013.41" r="3.1" fill="#b5b5b5"/>
<circle cx="1166.41" cy="1015.49" r="3.1" fill="#b5b5b5"/>
<circle cx="1308.69" cy="1012.18" r="3.1" fill="#b5b5b5"/>
<circle cx="1259.70" cy="1012.73" r="3.1" fill="#b5b5b5"/>
<circle cx="1223.20" cy="1012.88" r="3.1" fill="#b5b5b5"/>
<circle cx="1167.95" cy="1012.14" r="3.1" fill="#b5b5b5"/>
<circle cx="1318.04" cy="1013.22" r="3.1" fill="#b5b5b5"/>
<circle cx="1298.06" cy="1014.57" r="3.1" fill="#b5b5b5"/>
<circle cx="1228.78" cy="1017.50" r="3.1" fill="#b5b5b5"/>
<circle cx="1200.39" cy="1013.78" r="3.1" fill="#b5b5b5"/>
<circle cx="1322.82" cy="1015.50" r="3.1" fill="#b5b5b5"/>
<circle cx="1287.69" cy="1016.70" r="3.1" fill="#b5b5b5"/>
<circle cx="1275.36" cy="1017.48" r="3.1" fill="#b5b5b5"/>
<circle cx="1213.09" cy="1013.44" r="3.1" fill="#b5b5b5"/>
<circle cx="1233.02" cy="1011.65" r="3.1" fill="#b5b5b5"/>
<circle cx="1277.13" cy="1013.97" r="3.1" fill="#b5b5b5"/>
<circle cx="1320.68" cy="1017.30" r="3.1" fill="#b5b5b5"/>
<circle cx="1199.59" cy="1012.27" r="3.1" fill="#b5b5b5"/>
<circle cx="1163.56" cy="1015.10" r="3.1" fill="#b5b5b5"/>
<circle cx="1206.39" cy="1016.70" r="3.1" fill="#b5b5b5"/>
<circle cx="1196.33" cy="1017.21" r="3.1" fill="#b5b5b5"/>
<circle cx="1168.62" cy="1015.03" r="3.1" fill="#b5b5b5"/>
<circle cx="1306.95" cy="1017.48" r="3.1" fill="#b5b5b5"/>
<circle cx="1231.16" cy="1010.13" r="3.1" fill="#b5b5b5"/>
<circle cx="1172.80" cy="1013.51" r="3.1" fill="#b5b5b5"/>
<circle cx="1171.75" cy="1012.54" r="3.1" fill="#b5b5b5"/>
<circle cx="1273.94" cy="1010.52" r="3.1" fill="#b5b5b5"/>
<circle cx="1279.94" cy="1015.27" r="3.1" fill="#b5b5b5"/>
<circle cx="1297.66" cy="1017.49" r="3.1" fill="#b5b5b5"/>
<circle cx="1257.42" cy="1016.59" r="3.1" fill="#b5b5b5"/>
<circle cx="1251.22" cy="1016.07" r="3.1" fill="#b5b5b5"/>
<circle cx="1254.48" cy="1017.49" r="3.1" fill="#b5b5b5"/>
<circle cx="1176.14" cy="1012.41" r="3.1" fill="#b5b5b5"/>
<circle cx="1170.03" cy="1014.29" r="3.1" fill="#b5b5b5"/>
<circle cx="1262.86" cy="1013.43" r="3.1" fill="#b5b5b5"/>
<circle cx="1276.61" cy="1017.34" r="3.1" fill="#b5b5b5"/>
<circle cx="1220.92" cy="1012.95" r="3.1" fill="#b5b5b5"/>
<circle cx="1152.01" cy="1010.88" r="3.1" fill="#b5b5b5"/>
<circle cx="1270.11" cy="1014.40" r="3.1" fill="#b5b5b5"/>
<circle cx="1198.80" cy="1017.49" r="3.1" fill="#b5b5b5"/>
<circle cx="1192.56" cy="1016.48" r="3.1" fill="#b5b5b5"/>
<circle cx="1246.73" cy="1017.40" r="3.1" fill="#b5b5b5"/>
<circle cx="1304.72" cy="1015.32" r="3.1" fill="#b5b5b5"/>
<circle cx="1260.06" cy="1015.02" r="3.1" fill="#b5b5b5"/>
<circle cx="1332.29" cy="1013.18" r="3.1" fill="#b5b5b5"/>
<circle cx="1238.08" cy="1013.27" r="3.1" fill="#b5b5b5"/>
<circle cx="1290.36" cy="1015.25" r="3.1" fill="#b5b5b5"/>
<circle cx="1203.24" cy="1014.81" r="3.1" fill="#b5b5b5"/>
<circle cx="1267.80" cy="1011.34" r="3.1" fill="#b5b5b5"/>
<circle cx="1305.75" cy="1011.49" r="3.1" fill="#b5b5b5"/>
<circle cx="1250.66" cy="1011.20" r="3.1" fill="#b5b5b5"/>
<circle cx="1329.58" cy="1014.27" r="3.1" fill="#b5b5b5"/>
<circle cx="1268.36" cy="1015.18" r="3.1" fill="#b5b5b5"/>
<circle cx="1316.39" cy="1017.42" r="3.1" fill="#b5b5b5"/>
<circle cx="1200.46" cy="1011.96" r="3.1" fill="#b5b5b5"/>
<circle cx="1193.02" cy="1014.17" r="3.1" fill="#b5b5b5"/>
<circle cx="1324.74" cy="1011.62" r="3.1" fill="#b5b5b5"/>
<circle cx="1259.28" cy="1011.34" r="3.1" fill="#b5b5b5"/>
<circle cx="1253.33" cy="1010.81" r="3.1" fill="#b5b5b5"/>
<circle cx="1176.30" cy="1015.08" r="3.1" fill="#b5b5b5"/>
<circle cx="1216.70" cy="1017.03" r="3.1" fill="#b5b5b5"/>
<circle cx="1235.03" cy="1012.48" r="3.1" fill="#b5b5b5"/>
<circle cx="1334.12" cy="1017.27" r="3.1" fill="#b5b5b5"/>
<circle cx="1278.54" cy="1011.30" r="3.1" fill="#b5b5b5"/>
<circle cx="1234.87" cy="1010.58" r="3.1" fill="#b5b5b5"/>
<circle cx="1276.55" cy="1011.26" r="3.1" fill="#b5b5b5"/>
<circle cx="1265.29" cy="1016.79" r="3.1" fill="#b5b5b5"/>
<circle cx="1229.21" cy="1016.18" r="3.1" fill="#b5b5b5"/>
<circle cx="1292.79" cy="1016.86" r="3.1" fill="#b5b5b5"/>
<circle cx="1329.34" cy="1015.16" r="3.1" fill="#b5b5b5"/>
<circle cx="1180.41" cy="1013.43" r="3.1" fill="#b5b5b5"/>
<circle cx="1334.81" cy="1012.22" r="3.1" fill="#b5b5b5"/>
<circle cx="1207.80" cy="1014.22" r="3.1" fill="#b5b5b5"/>
<circle cx="1268.58" cy="1017.17" r="3.1" fill="#b5b5b5"/>
<circle cx="1213.07" cy="1015.09" r="3.1" fill="#b5b5b5"/>
<circle cx="1187.43" cy="1017.32" r="3.1" fill="#b5b5b5"/>
<circle cx="1336.19" cy="1014.05" r="3.1" fill="#b5b5b5"/>
<circle cx="1206.11" cy="1011.39" r="3.1" fill="#b5b5b5"/>
<circle cx="1336.05" cy="1016.91" r="3.1" fill="#b5b5b5"/>
<circle cx="1271.28" cy="1012.78" r="3.1" fill="#b5b5b5"/>
<circle cx="1178.68" cy="1011.80" r="3.1" fill="#b5b5b5"/>
<circle cx="1249.78" cy="1016.84" r="3.1" fill="#b5b5b5"/>
<circle cx="1177.83" cy="1013.24" r="3.1" fill="#b5b5b5"/>
<circle cx="1212.26" cy="1017.44" r="3.1" fill="#b5b5b5"/>
<circle cx="1219.31" cy="1014.01" r="3.1" fill="#b5b5b5"/>
<circle cx="1228.73" cy="1011.92" r="3.1" fill="#b5b5b5"/>
<circle cx="1294.07" cy="1017.39" r="3.1" fill="#b5b5b5"/>
<circle cx="1269.82" cy="1010.83" r="3.1" fill="#b5b5b5"/>
<circle cx="1351.10" cy="1008.90" r="3.1" fill="#b5b5b5"/>
<circle cx="1236.99" cy="982.44" r="3.1" fill="#2b58a8"/>
<circle cx="1238.30" cy="973.64" r="3.1" fill="#2b58a8"/>
<circle cx="1238.33" cy="976.53" r="3.1" fill="#2b58a8"/>
<circle cx="1234.66" cy="1005.58" r="3.1" fill="#2b58a8"/>
<circle cx="1235.44" cy="965.58" r="3.1" fill="#2b58a8"/>
<circle cx="1231.24" cy="967.93" r="3.1" fill="#2b58a8"/>
<circle cx="1232.08" cy="989.71" r="3.1" fill="#2b58a8"/>
<circle cx="1235.46" cy="986.26" r="3.1" fill="#2b58a8"/>
<circle cx="1231.53" cy="1005.86" r="3.1" fill="#2b58a8"/>
<circle cx="1239.76" cy="997.70" r="3.1" fill="#2b58a8"/>
<circle cx="1231.46" cy="975.19" r="3.1" fill="#2b58a8"/>
<circle cx="1231.31" cy="973.53" r="3.1" fill="#2b58a8"/>
<circle cx="1230.98" cy="982.71" r="3.1" fill="#2b58a8"/>
<circle cx="1239.78" cy="1006.01" r="3.1" fill="#2b58a8"/>
<circle cx="1231.60" cy="1000.30" r="3.1" fill="#2b58a8"/>
<circle cx="1237.03" cy="963.39" r="3.1" fill="#2b58a8"/>
<circle cx="1240.26" cy="997.32" r="3.1" fill="#2b58a8"/>
<circle cx="1236.53" cy="986.48" r="3.1" fill="#2b58a8"/>
<circle cx="1240.25" cy="1000.47" r="3.1" fill="#2b58a8"/>
<circle cx="1238.92" cy="979.06" r="3.1" fill="#2b58a8"/>
<circle cx="1232.72" cy="968.32" r="3.1" fill="#2b58a8"/>
<circle cx="1231.12" cy="994.41" r="3.1" fill="#2b58a8"/>
<circle cx="1229.74" cy="1002.45" r="3.1" fill="#2b58a8"/>
<circle cx="1236.10" cy="996.85" r="3.1" fill="#2b58a8"/>
<circle cx="1237.34" cy="1005.99" r="3.1" fill="#2b58a8"/>
<circle cx="1232.74" cy="995.38" r="3.1" fill="#2b58a8"/>
<circle cx="1234.26" cy="972.40" r="3.1" fill="#2b58a8"/>
<circle cx="1234.69" cy="996.27" r="3.1" fill="#2b58a8"/>
<circle cx="1230.44" cy="978.34" r="3.1" fill="#2b58a8"/>
<circle cx="1230.67" cy="963.80" r="3.1" fill="#2b58a8"/>
<circle cx="1237.60" cy="976.02" r="3.1" fill="#2b58a8"/>
<circle cx="1238.71" cy="1005.78" r="3.1" fill="#2b58a8"/>
<circle cx="1235.74" cy="994.20" r="3.1" fill="#2b58a8"/>
<circle cx="1229.39" cy="1005.92" r="3.1" fill="#2b58a8"/>
<circle cx="1240.48" cy="1001.29" r="3.1" fill="#2b58a8"/>
<circle cx="1238.05" cy="1000.76" r="3.1" fill="#2b58a8"/>
<circle cx="1237.76" cy="966.34" r="3.1" fill="#2b58a8"/>
<circle cx="1233.24" cy="995.11" r="3.1" fill="#2b58a8"/>
<circle cx="1237.57" cy="987.16" r="3.1" fill="#2b58a8"/>
<circle cx="1238.11" cy="1003.60" r="3.1" fill="#2b58a8"/>
<circle cx="1237.57" cy="973.53" r="3.1" fill="#2b58a8"/>
<circle cx="1240.67" cy="1005.43" r="3.1" fill="#2b58a8"/>
<circle cx="1233.09" cy="1004.08" r="3.1" fill="#2b58a8"/>
<circle cx="1238.75" cy="983.04" r="3.1" fill="#2b58a8"/>
<circle cx="1239.68" cy="995.29" r="3.1" fill="#2b58a8"/>
<circle cx="1232.79" cy="986.20" r="3.1" fill="#2b58a8"/>
<circle cx="1231.22" cy="996.23" r="3.1" fill="#2b58a8"/>
<circle cx="1230.71" cy="1004.43" r="3.1" fill="#2b58a8"/>
<circle cx="1239.21" cy="979.13" r="3.1" fill="#2b58a8"/>
<circle cx="1229.55" cy="1001.94" r="3.1" fill="#2b58a8"/>
<circle cx="1234.49" cy="963.15" r="3.1" fill="#2b58a8"/>
<circle cx="1231.95" cy="992.51" r="3.1" fill="#2b58a8"/>
<circle cx="1237.90" cy="983.86" r="3.1" fill="#2b58a8"/>
<circle cx="1233.95" cy="990.32" r="3.1" fill="#2b58a8"/>
<circle cx="1240.27" cy="1005.00" r="3.1" fill="#2b58a8"/>
<circle cx="1235.01" cy="1005.51" r="3.1" fill="#2b58a8"/>
<circle cx="1231.29" cy="971.33" r="3.1" fill="#2b58a8"/>
<circle cx="1238.61" cy="976.96" r="3.1" fill="#2b58a8"/>
<circle cx="1237.42" cy="982.07" r="3.1" fill="#2b58a8"/>
<circle cx="1234.25" cy="1003.64" r="3.1" fill="#2b58a8"/>
<circle cx="1239.22" cy="1002.34" r="3.1" fill="#2b58a8"/>
<circle cx="1234.38" cy="997.10" r="3.1" fill="#2b58a8"/>
<circle cx="1236.82" cy="962.44" r="3.1" fill="#2b58a8"/>
<circle cx="1233.90" cy="963.75" r="3.1" fill="#2b58a8"/>
<circle cx="1237.17" cy="988.85" r="3.1" fill="#2b58a8"/>
<circle cx="1232.55" cy="989.26" r="3.1" fill="#2b58a8"/>
<circle cx="1230.95" cy="992.60" r="3.1" fill="#2b58a8"/>
<circle cx="1240.29" cy="993.75" r="3.1" fill="#2b58a8"/>
<circle cx="1235.24" cy="964.66" r="3.1" fill="#2b58a8"/>
<circle cx="1233.05" cy="988.33" r="3.1" fill="#2b58a8"/>
<circle cx="1232.24" cy="1004.14" r="3.1" fill="#2b58a8"/>
<circle cx="1237.69" cy="974.33" r="3.1" fill="#2b58a8"/>
<circle cx="1238.07" cy="994.41" r="3.1" fill="#2b58a8"/>
<circle cx="1236.19" cy="974.71" r="3.1" fill="#2b58a8"/>
<circle cx="1237.06" cy="980.40" r="3.1" fill="#2b58a8"/>
<circle cx="1237.15" cy="994.32" r="3.1" fill="#2b58a8"/>
<circle cx="1234.77" cy="997.65" r="3.1" fill="#2b58a8"/>
<circle cx="1236.17" cy="974.98" r="3.1" fill="#2b58a8"/>
<circle cx="1240.06" cy="997.14" r="3.1" fill="#2b58a8"/>
<circle cx="1235.38" cy="981.12" r="3.1" fill="#2b58a8"/>
<circle cx="1235.69" cy="1005.89" r="3.1" fill="#2b58a8"/>
<circle cx="1236.97" cy="998.80" r="3.1" fill="#2b58a8"/>
<circle cx="1238.16" cy="989.99" r="3.1" fill="#2b58a8"/>
<circle cx="1237.46" cy="981.23" r="3.1" fill="#2b58a8"/>
<circle cx="1236.50" cy="994.96" r="3.1" fill="#2b58a8"/>
<circle cx="1237.49" cy="976.64" r="3.1" fill="#2b58a8"/>
<circle cx="1238.74" cy="994.87" r="3.1" fill="#2b58a8"/>
<circle cx="1235.92" cy="969.62" r="3.1" fill="#2b58a8"/>
<circle cx="1237.68" cy="963.75" r="3.1" fill="#2b58a8"/>
<circle cx="1235.03" cy="987.46" r="3.1" fill="#2b58a8"/>
<circle cx="1239.09" cy="1001.79" r="3.1" fill="#2b58a8"/>
<circle cx="1234.12" cy="965.91" r="3.1" fill="#2b58a8"/>
<circle cx="1236.61" cy="979.02" r="3.1" fill="#2b58a8"/>
<circle cx="1231.53" cy="977.03" r="3.1" fill="#2b58a8"/>
<circle cx="1235.18" cy="974.42" r="3.1" fill="#2b58a8"/>
<circle cx="1233.83" cy="980.32" r="3.1" fill="#2b58a8"/>
<circle cx="1237.31" cy="982.40" r="3.1" fill="#2b58a8"/>
<circle cx="1236.75" cy="981.75" r="3.1" fill="#2b58a8"/>
<circle cx="1230.82" cy="1005.61" r="3.1" fill="#2b58a8"/>
<circle cx="1236.42" cy="990.97" r="3.1" fill="#2b58a8"/>
<circle cx="1237.19" cy="999.96" r="3.1" fill="#2b58a8"/>
<circle cx="1230.17" cy="982.05" r="3.1" fill="#2b58a8"/>
<circle cx="1231.86" cy="989.60" r="3.1" fill="#2b58a8"/>
<circle cx="1230.51" cy="1005.04" r="3.1" fill="#2b58a8"/>
<circle cx="1231.27" cy="996.21" r="3.1" fill="#2b58a8"/>
<circle cx="1229.43" cy="1000.87" r="3.1" fill="#2b58a8"/>
<circle cx="1233.50" cy="989.88" r="3.1" fill="#2b58a8"/>
<circle cx="1235.52" cy="982.99" r="3.1" fill="#2b58a8"/>
<circle cx="1239.72" cy="999.28" r="3.1" fill="#2b58a8"/>
<circle cx="1233.91" cy="1006.02" r="3.1" fill="#2b58a8"/>
<circle cx="1233.89" cy="997.74" r="3.1" fill="#2b58a8"/>
<circle cx="1239.12" cy="1003.40" r="3.1" fill="#2b58a8"/>
<circle cx="1229.69" cy="993.88" r="3.1" fill="#2b58a8"/>
<circle cx="1230.66" cy="982.90" r="3.1" fill="#2b58a8"/>
<circle cx="1233.06" cy="986.19" r="3.1" fill="#2b58a8"/>
<circle cx="1239.26" cy="984.49" r="3.1" fill="#2b58a8"/>
<circle cx="1233.73" cy="972.39" r="3.1" fill="#2b58a8"/>
<circle cx="1235.65" cy="972.69" r="3.1" fill="#2b58a8"/>
<circle cx="1230.87" cy="994.07" r="3.1" fill="#2b58a8"/>
<circle cx="1235.29" cy="983.76" r="3.1" fill="#2b58a8"/>
<circle cx="1237.85" cy="964.81" r="3.1" fill="#2b58a8"/>
<circle cx="1233.18" cy="983.14" r="3.1" fill="#2b58a8"/>
<circle cx="1230.32" cy="968.34" r="3.1" fill="#2b58a8"/>
<circle cx="1235.86" cy="1003.61" r="3.1" fill="#2b58a8"/>
<circle cx="1231.11" cy="982.82" r="3.1" fill="#2b58a8"/>
<circle cx="1238.43" cy="982.12" r="3.1" fill="#2b58a8"/>
<circle cx="1234.09" cy="993.80" r="3.1" fill="#2b58a8"/>
<circle cx="1232.50" cy="999.70" r="3.1" fill="#2b58a8"/>
<circle cx="1233.35" cy="963.95" r="3.1" fill="#2b58a8"/>
<circle cx="1237.42" cy="964.59" r="3.1" fill="#2b58a8"/>
<circle cx="1232.27" cy="983.77" r="3.1" fill="#2b58a8"/>
<circle cx="1234.22" cy="963.47" r="3.1" fill="#2b58a8"/>
<circle cx="1232.85" cy="992.09" r="3.1" fill="#2b58a8"/>
<circle cx="1234.18" cy="963.29" r="3.1" fill="#2b58a8"/>
<circle cx="1234.66" cy="997.43" r="3.1" fill="#2b58a8"/>
<circle cx="1236.54" cy="1003.19" r="3.1" fill="#2b58a8"/>
<circle cx="1232.57" cy="990.86" r="3.1" fill="#2b58a8"/>
<circle cx="1237.34" cy="974.35" r="3.1" fill="#2b58a8"/>
<circle cx="1235.51" cy="1005.86" r="3.1" fill="#2b58a8"/>
<circle cx="1240.00" cy="997.92" r="3.1" fill="#2b58a8"/>
<circle cx="1232.23" cy="974.34" r="3.1" fill="#2b58a8"/>
<circle cx="1230.92" cy="998.16" r="3.1" fill="#2b58a8"/>
<circle cx="1232.70" cy="963.03" r="3.1" fill="#2b58a8"/>
<circle cx="1234.39" cy="983.17" r="3.1" fill="#2b58a8"/>
<circle cx="1235.61" cy="981.36" r="3.1" fill="#2b58a8"/>
<circle cx="1231.06" cy="976.35" r="3.1" fill="#2b58a8"/>
<circle cx="1232.71" cy="975.47" r="3.1" fill="#2b58a8"/>
<circle cx="1233.03" cy="986.74" r="3.1" fill="#2b58a8"/>
<circle cx="1235.26" cy="997.03" r="3.1" fill="#2b58a8"/>
<circle cx="1233.30" cy="989.93" r="3.1" fill="#2b58a8"/>
<circle cx="1235.32" cy="976.27" r="3.1" fill="#2b58a8"/>
<circle cx="1231.99" cy="1005.43" r="3.1" fill="#2b58a8"/>
<circle cx="1239.25" cy="990.32" r="3.1" fill="#2b58a8"/>
<circle cx="1234.72" cy="968.64" r="3.1" fill="#2b58a8"/>
<circle cx="1238.60" cy="1005.84" r="3.1" fill="#2b58a8"/>
<circle cx="1235.63" cy="991.56" r="3.1" fill="#2b58a8"/>
<circle cx="1235.76" cy="978.16" r="3.1" fill="#2b58a8"/>
<circle cx="1239.11" cy="989.13" r="3.1" fill="#2b58a8"/>
<circle cx="1233.65" cy="993.39" r="3.1" fill="#2b58a8"/>
<circle cx="1231.86" cy="970.60" r="3.1" fill="#2b58a8"/>
<circle cx="1250.80" cy="1001.29" r="3.1" fill="#e4262b"/>
<circle cx="1251.62" cy="1005.35" r="3.1" fill="#e4262b"/>
<circle cx="1246.53" cy="991.72" r="3.1" fill="#e4262b"/>
<circle cx="1250.42" cy="1001.50" r="3.1" fill="#e4262b"/>
<circle cx="1244.54" cy="985.69" r="3.1" fill="#e4262b"/>
<circle cx="1247.93" cy="997.22" r="3.1" fill="#e4262b"/>
<circle cx="1246.27" cy="996.75" r="3.1" fill="#e4262b"/>
<circle cx="1249.12" cy="1004.01" r="3.1" fill="#e4262b"/>
<circle cx="1244.22" cy="988.51" r="3.1" fill="#e4262b"/>
<circle cx="1250.96" cy="1002.62" r="3.1" fill="#e4262b"/>
<circle cx="1247.55" cy="989.07" r="3.1" fill="#e4262b"/>
<circle cx="1250.65" cy="1005.82" r="3.1" fill="#e4262b"/>
<circle cx="1248.19" cy="983.69" r="3.1" fill="#e4262b"/>
<circle cx="1244.15" cy="991.55" r="3.1" fill="#e4262b"/>
<circle cx="1245.00" cy="987.66" r="3.1" fill="#e4262b"/>
<circle cx="1250.02" cy="993.02" r="3.1" fill="#e4262b"/>
<circle cx="1244.67" cy="991.24" r="3.1" fill="#e4262b"/>
<circle cx="1251.55" cy="1001.38" r="3.1" fill="#e4262b"/>
<circle cx="1249.35" cy="1004.08" r="3.1" fill="#e4262b"/>
<circle cx="1245.10" cy="998.73" r="3.1" fill="#e4262b"/>
<circle cx="1244.14" cy="993.62" r="3.1" fill="#e4262b"/>
<circle cx="1247.32" cy="1004.74" r="3.1" fill="#e4262b"/>
<circle cx="1244.38" cy="1005.27" r="3.1" fill="#e4262b"/>
<circle cx="1248.97" cy="994.83" r="3.1" fill="#e4262b"/>
<circle cx="1244.52" cy="986.62" r="3.1" fill="#e4262b"/>
<circle cx="1246.27" cy="998.32" r="3.1" fill="#e4262b"/>
<circle cx="1247.15" cy="994.20" r="3.1" fill="#e4262b"/>
<circle cx="1245.58" cy="984.88" r="3.1" fill="#e4262b"/>
<circle cx="1250.35" cy="1005.48" r="3.1" fill="#e4262b"/>
<circle cx="1249.53" cy="1004.05" r="3.1" fill="#e4262b"/>
<circle cx="1250.48" cy="996.55" r="3.1" fill="#e4262b"/>
<circle cx="1248.20" cy="995.34" r="3.1" fill="#e4262b"/>
<circle cx="1248.55" cy="1001.97" r="3.1" fill="#e4262b"/>
<circle cx="1250.28" cy="1002.15" r="3.1" fill="#e4262b"/>
<circle cx="1244.82" cy="996.28" r="3.1" fill="#e4262b"/>
<circle cx="1247.06" cy="1002.54" r="3.1" fill="#e4262b"/>
<circle cx="1244.91" cy="990.59" r="3.1" fill="#e4262b"/>
<circle cx="1247.82" cy="991.22" r="3.1" fill="#e4262b"/>
<circle cx="1250.02" cy="1005.08" r="3.1" fill="#e4262b"/>
<circle cx="1245.00" cy="1005.00" r="3.1" fill="#e4262b"/>
<circle cx="1245.47" cy="994.36" r="3.1" fill="#e4262b"/>
<circle cx="1246.26" cy="986.66" r="3.1" fill="#e4262b"/>
<circle cx="1250.41" cy="1000.73" r="3.1" fill="#e4262b"/>
<circle cx="1250.66" cy="1005.79" r="3.1" fill="#e4262b"/>
<circle cx="1245.26" cy="1005.51" r="3.1" fill="#e4262b"/>
<circle cx="1246.93" cy="984.48" r="3.1" fill="#e4262b"/>
<circle cx="1244.86" cy="1002.75" r="3.1" fill="#e4262b"/>
<circle cx="1246.77" cy="983.87" r="3.1" fill="#e4262b"/>
<circle cx="1244.60" cy="988.26" r="3.1" fill="#e4262b"/>
<circle cx="1246.19" cy="993.56" r="3.1" fill="#e4262b"/>
<circle cx="1246.73" cy="1002.53" r="3.1" fill="#e4262b"/>
<circle cx="1246.17" cy="993.85" r="3.1" fill="#e4262b"/>
<circle cx="1244.93" cy="999.36" r="3.1" fill="#e4262b"/>
<circle cx="1247.30" cy="987.97" r="3.1" fill="#e4262b"/>
<circle cx="1246.23" cy="988.72" r="3.1" fill="#e4262b"/>
<circle cx="1246.54" cy="987.39" r="3.1" fill="#e4262b"/>
<circle cx="1247.74" cy="994.39" r="3.1" fill="#e4262b"/>
<circle cx="1246.18" cy="990.49" r="3.1" fill="#e4262b"/>
<circle cx="1244.16" cy="1004.91" r="3.1" fill="#e4262b"/>
<circle cx="1244.20" cy="1003.14" r="3.1" fill="#e4262b"/>
<circle cx="1246.23" cy="986.31" r="3.1" fill="#e4262b"/>
<circle cx="1243.85" cy="989.94" r="3.1" fill="#e4262b"/>
<circle cx="1250.51" cy="997.41" r="3.1" fill="#e4262b"/>
<circle cx="1246.69" cy="993.70" r="3.1" fill="#e4262b"/>
<circle cx="1244.60" cy="997.52" r="3.1" fill="#e4262b"/>
<circle cx="1245.28" cy="1003.99" r="3.1" fill="#e4262b"/>
<circle cx="1246.93" cy="999.61" r="3.1" fill="#e4262b"/>
<circle cx="1244.61" cy="986.57" r="3.1" fill="#e4262b"/>
<circle cx="1246.23" cy="1002.15" r="3.1" fill="#e4262b"/>
<circle cx="1246.42" cy="1003.87" r="3.1" fill="#e4262b"/>
<circle cx="1248.02" cy="1002.52" r="3.1" fill="#e4262b"/>
<circle cx="1252.53" cy="1005.76" r="3.1" fill="#e4262b"/>
<circle cx="1251.37" cy="999.74" r="3.1" fill="#e4262b"/>
<circle cx="1248.04" cy="991.91" r="3.1" fill="#e4262b"/>
<circle cx="1250.92" cy="997.37" r="3.1" fill="#e4262b"/>
<circle cx="1249.95" cy="1004.59" r="3.1" fill="#e4262b"/>
<circle cx="1249.51" cy="1001.40" r="3.1" fill="#e4262b"/>
<circle cx="1244.82" cy="990.79" r="3.1" fill="#e4262b"/>
<circle cx="1244.07" cy="1003.17" r="3.1" fill="#e4262b"/>
<circle cx="1244.53" cy="1002.61" r="3.1" fill="#e4262b"/>
<circle cx="1251.49" cy="999.02" r="3.1" fill="#e4262b"/>
<circle cx="1246.36" cy="999.84" r="3.1" fill="#e4262b"/>
<circle cx="1245.97" cy="997.46" r="3.1" fill="#e4262b"/>
<circle cx="1248.12" cy="990.71" r="3.1" fill="#e4262b"/>
<circle cx="1246.00" cy="1003.84" r="3.1" fill="#e4262b"/>
<circle cx="1249.79" cy="992.32" r="3.1" fill="#e4262b"/>
<circle cx="1246.64" cy="993.01" r="3.1" fill="#e4262b"/>
<circle cx="1243.88" cy="983.79" r="3.1" fill="#e4262b"/>
<circle cx="1251.11" cy="1005.42" r="3.1" fill="#e4262b"/>
<circle cx="1244.20" cy="998.81" r="3.1" fill="#e4262b"/>
<circle cx="1153.30" cy="962.20" r="3.1" fill="#2b58a8"/>
<circle cx="1202.20" cy="963.30" r="3.1" fill="#2b58a8"/>
<circle cx="1221.10" cy="969.30" r="3.1" fill="#2b58a8"/>
<circle cx="1223.30" cy="984.90" r="3.1" fill="#2b58a8"/>
<circle cx="1148.40" cy="991.10" r="3.1" fill="#2b58a8"/>
<circle cx="1164.90" cy="988.90" r="3.1" fill="#2b58a8"/>
<circle cx="1177.30" cy="992.90" r="3.1" fill="#2b58a8"/>
<circle cx="1215.60" cy="993.30" r="3.1" fill="#2b58a8"/>
<circle cx="1190.70" cy="1001.60" r="3.1" fill="#2b58a8"/>
<circle cx="1214.00" cy="1003.80" r="3.1" fill="#2b58a8"/>
<circle cx="1224.90" cy="1004.40" r="3.1" fill="#2b58a8"/>
<circle cx="1231.10" cy="964.90" r="3.1" fill="#2b58a8"/>
<circle cx="1249.60" cy="962.70" r="3.1" fill="#e4262b"/>
<circle cx="1248.90" cy="975.10" r="3.1" fill="#e4262b"/>
<circle cx="1252.20" cy="942.90" r="3.1" fill="#e4262b"/>
<circle cx="1292.20" cy="914.00" r="3.1" fill="#e4262b"/>
<circle cx="1260.00" cy="985.60" r="3.1" fill="#e4262b"/>
<circle cx="1260.40" cy="1001.10" r="3.1" fill="#e4262b"/>
<circle cx="1292.90" cy="997.10" r="3.1" fill="#e4262b"/>
<circle cx="1307.80" cy="991.10" r="3.1" fill="#e4262b"/>
<circle cx="1302.70" cy="1001.80" r="3.1" fill="#e4262b"/>
<circle cx="1310.00" cy="1003.60" r="3.1" fill="#e4262b"/>
<circle cx="1322.70" cy="995.10" r="3.1" fill="#e4262b"/>
<circle cx="1335.10" cy="1001.80" r="3.1" fill="#e4262b"/>
<circle cx="1340.00" cy="1003.60" r="3.1" fill="#e4262b"/>
<circle cx="1348.90" cy="1001.80" r="3.1" fill="#e4262b"/>
<circle cx="1353.30" cy="998.20" r="3.1" fill="#e4262b"/>
<circle cx="1357.30" cy="994.00" r="3.1" fill="#e4262b"/>
<circle cx="1374.90" cy="1000.20" r="3.1" fill="#e4262b"/>
<circle cx="1414.40" cy="665.60" r="3.1" fill="#e4262b"/>
<g stroke="#000" stroke-width="2" stroke-dasharray="9.8,12.1">
<line x1="1242.80" y1="1033.20" x2="1242.80" y2="599.75" stroke="#000" stroke-width="2"/>
<line x1="1053.50" y1="1006.02" x2="1431.70" y2="1006.02" stroke="#000" stroke-width="2"/>
</g>
<line x1="1386.80" y1="632.70" x2="1413.40" y2="664.60" stroke="#000" stroke-width="1.5"/>
<text x="1327.49" y="629.10" font-size="18.2" fill="#000">Gm6565</text>
<line x1="1224.40" y1="929.30" x2="1237.30" y2="975.60" stroke="#000" stroke-width="1.5"/>
<text x="1201.24" y="923.30" font-size="18.2" fill="#000">Mbp</text>
<line x1="1190.00" y1="944.90" x2="1231.10" y2="962.70" stroke="#000" stroke-width="1.5"/>
<text x="1164.14" y="943.30" font-size="18.2" fill="#000">Mal</text>
<line x1="1183.30" y1="962.20" x2="1231.10" y2="971.10" stroke="#000" stroke-width="1.5"/>
<text x="1152.39" y="958.90" font-size="18.2" fill="#000">Cnp</text>
<line x1="1280.40" y1="930.70" x2="1250.00" y2="960.00" stroke="#000" stroke-width="1.5"/>
<text x="1283.09" y="934.40" font-size="18.2" fill="#000">Cpne9</text>
<line x1="1287.10" y1="952.20" x2="1254.40" y2="978.20" stroke="#000" stroke-width="1.5"/>
<text x="1288.54" y="957.80" font-size="18.2" fill="#000">Bok</text>
<rect x="1053.50" y="599.75" width="378.20" height="433.45" fill="none" stroke="#000" stroke-width="1.6"/>
<line x1="1067.80" y1="1033.20" x2="1067.80" y2="1047.70" stroke="#000" stroke-width="1.6"/>
<text x="1048.32" y="1072.70" font-size="23.2" fill="#000">−10</text>
<line x1="1155.30" y1="1033.20" x2="1155.30" y2="1047.70" stroke="#000" stroke-width="1.6"/>
<text x="1142.26" y="1072.70" font-size="23.2" fill="#000">−5</text>
<line x1="1242.80" y1="1033.20" x2="1242.80" y2="1047.70" stroke="#000" stroke-width="1.6"/>
<text x="1236.36" y="1072.70" font-size="23.2" fill="#000">0</text>
<line x1="1330.30" y1="1033.20" x2="1330.30" y2="1047.70" stroke="#000" stroke-width="1.6"/>
<text x="1323.86" y="1072.70" font-size="23.2" fill="#000">5</text>
<line x1="1417.80" y1="1033.20" x2="1417.80" y2="1047.70" stroke="#000" stroke-width="1.6"/>
<text x="1404.52" y="1072.70" font-size="23.2" fill="#000">10</text>
<line x1="1039.00" y1="1017.50" x2="1053.50" y2="1017.50" stroke="#000" stroke-width="1.6"/>
<text x="0" y="0" font-size="23.2" fill="#000" transform="translate(1028.20,1022.94) rotate(-90)">0</text>
<line x1="1039.00" y1="960.10" x2="1053.50" y2="960.10" stroke="#000" stroke-width="1.6"/>
<text x="0" y="0" font-size="23.2" fill="#000" transform="translate(1028.20,965.54) rotate(-90)">5</text>
<line x1="1039.00" y1="902.70" x2="1053.50" y2="902.70" stroke="#000" stroke-width="1.6"/>
<text x="0" y="0" font-size="23.2" fill="#000" transform="translate(1028.20,914.98) rotate(-90)">10</text>
<line x1="1039.00" y1="845.30" x2="1053.50" y2="845.30" stroke="#000" stroke-width="1.6"/>
<text x="0" y="0" font-size="23.2" fill="#000" transform="translate(1028.20,857.58) rotate(-90)">15</text>
<line x1="1039.00" y1="787.90" x2="1053.50" y2="787.90" stroke="#000" stroke-width="1.6"/>
<text x="0" y="0" font-size="23.2" fill="#000" transform="translate(1028.20,799.89) rotate(-90)">20</text>
<line x1="1039.00" y1="730.50" x2="1053.50" y2="730.50" stroke="#000" stroke-width="1.6"/>
<text x="0" y="0" font-size="23.2" fill="#000" transform="translate(1028.20,742.49) rotate(-90)">25</text>
<line x1="1039.00" y1="673.10" x2="1053.50" y2="673.10" stroke="#000" stroke-width="1.6"/>
<text x="0" y="0" font-size="23.2" fill="#000" transform="translate(1028.20,684.98) rotate(-90)">30</text>
<line x1="1039.00" y1="615.70" x2="1053.50" y2="615.70" stroke="#000" stroke-width="1.6"/>
<text x="0" y="0" font-size="23.2" fill="#000" transform="translate(1028.20,627.58) rotate(-90)">35</text>
<text x="0" y="0" font-size="29.3" fill="#000" transform="translate(976.50,882.07) rotate(-90)">−log10(FDR)</text>
<text x="1210.90" y="1117.10" font-size="29.3" fill="#000">logFC</text>
<text x="1145.87" y="573.50" font-size="40.5" font-weight="bold" fill="#000">mPFC-M</text>
<text x="954.38" y="563.30" font-size="25" font-weight="bold" fill="#000">E</text>
<circle cx="658.28" cy="1656.84" r="3.1" fill="#b5b5b5"/>
<circle cx="752.15" cy="1658.97" r="3.1" fill="#b5b5b5"/>
<circle cx="640.50" cy="1656.40" r="3.1" fill="#b5b5b5"/>
<circle cx="637.80" cy="1658.80" r="3.1" fill="#b5b5b5"/>
<circle cx="663.95" cy="1653.46" r="3.1" fill="#b5b5b5"/>
<circle cx="713.84" cy="1658.51" r="3.1" fill="#b5b5b5"/>
<circle cx="694.50" cy="1653.02" r="3.1" fill="#b5b5b5"/>
<circle cx="685.40" cy="1655.99" r="3.1" fill="#b5b5b5"/>
<circle cx="666.99" cy="1652.73" r="3.1" fill="#b5b5b5"/>
<circle cx="726.96" cy="1657.13" r="3.1" fill="#b5b5b5"/>
<circle cx="638.54" cy="1657.77" r="3.1" fill="#b5b5b5"/>
<circle cx="645.19" cy="1657.79" r="3.1" fill="#b5b5b5"/>
<circle cx="657.38" cy="1657.28" r="3.1" fill="#b5b5b5"/>
<circle cx="680.03" cy="1655.25" r="3.1" fill="#b5b5b5"/>
<circle cx="654.54" cy="1658.97" r="3.1" fill="#b5b5b5"/>
<circle cx="675.36" cy="1654.45" r="3.1" fill="#b5b5b5"/>
<circle cx="768.73" cy="1657.04" r="3.1" fill="#b5b5b5"/>
<circle cx="765.45" cy="1659.23" r="3.1" fill="#b5b5b5"/>
<circle cx="718.71" cy="1657.68" r="3.1" fill="#b5b5b5"/>
<circle cx="744.81" cy="1655.89" r="3.1" fill="#b5b5b5"/>
<circle cx="676.69" cy="1658.61" r="3.1" fill="#b5b5b5"/>
<circle cx="771.54" cy="1656.73" r="3.1" fill="#b5b5b5"/>
<circle cx="650.76" cy="1657.44" r="3.1" fill="#b5b5b5"/>
<circle cx="711.11" cy="1656.50" r="3.1" fill="#b5b5b5"/>
<circle cx="671.37" cy="1658.54" r="3.1" fill="#b5b5b5"/>
<circle cx="725.86" cy="1658.93" r="3.1" fill="#b5b5b5"/>
<circle cx="628.09" cy="1657.78" r="3.1" fill="#b5b5b5"/>
<circle cx="703.49" cy="1656.66" r="3.1" fill="#b5b5b5"/>
<circle cx="671.65" cy="1659.59" r="3.1" fill="#b5b5b5"/>
<circle cx="775.77" cy="1658.66" r="3.1" fill="#b5b5b5"/>
<circle cx="659.86" cy="1659.32" r="3.1" fill="#b5b5b5"/>
<circle cx="691.81" cy="1649.12" r="3.1" fill="#b5b5b5"/>
<circle cx="618.01" cy="1657.95" r="3.1" fill="#b5b5b5"/>
<circle cx="771.30" cy="1657.80" r="3.1" fill="#b5b5b5"/>
<circle cx="723.55" cy="1659.51" r="3.1" fill="#b5b5b5"/>
<circle cx="696.82" cy="1651.83" r="3.1" fill="#b5b5b5"/>
<circle cx="658.21" cy="1658.26" r="3.1" fill="#b5b5b5"/>
<circle cx="655.94" cy="1658.92" r="3.1" fill="#b5b5b5"/>
<circle cx="672.88" cy="1656.83" r="3.1" fill="#b5b5b5"/>
<circle cx="712.47" cy="1656.33" r="3.1" fill="#b5b5b5"/>
<circle cx="647.38" cy="1657.70" r="3.1" fill="#b5b5b5"/>
<circle cx="670.03" cy="1656.38" r="3.1" fill="#b5b5b5"/>
<circle cx="651.81" cy="1658.20" r="3.1" fill="#b5b5b5"/>
<circle cx="622.41" cy="1658.43" r="3.1" fill="#b5b5b5"/>
<circle cx="687.36" cy="1649.74" r="3.1" fill="#b5b5b5"/>
<circle cx="624.03" cy="1659.21" r="3.1" fill="#b5b5b5"/>
<circle cx="703.82" cy="1659.58" r="3.1" fill="#b5b5b5"/>
<circle cx="640.91" cy="1658.10" r="3.1" fill="#b5b5b5"/>
<circle cx="671.95" cy="1658.20" r="3.1" fill="#b5b5b5"/>
<circle cx="731.32" cy="1656.09" r="3.1" fill="#b5b5b5"/>
<circle cx="699.76" cy="1655.94" r="3.1" fill="#b5b5b5"/>
<circle cx="708.25" cy="1655.41" r="3.1" fill="#b5b5b5"/>
<circle cx="759.82" cy="1659.20" r="3.1" fill="#b5b5b5"/>
<circle cx="701.98" cy="1655.65" r="3.1" fill="#b5b5b5"/>
<circle cx="664.46" cy="1659.30" r="3.1" fill="#b5b5b5"/>
<circle cx="745.74" cy="1656.96" r="3.1" fill="#b5b5b5"/>
<circle cx="749.57" cy="1658.64" r="3.1" fill="#b5b5b5"/>
<circle cx="738.26" cy="1658.69" r="3.1" fill="#b5b5b5"/>
<circle cx="741.89" cy="1659.59" r="3.1" fill="#b5b5b5"/>
<circle cx="621.75" cy="1658.55" r="3.1" fill="#b5b5b5"/>
<circle cx="766.13" cy="1656.90" r="3.1" fill="#b5b5b5"/>
<circle cx="752.81" cy="1656.50" r="3.1" fill="#b5b5b5"/>
<circle cx="690.41" cy="1653.46" r="3.1" fill="#b5b5b5"/>
<circle cx="647.42" cy="1659.51" r="3.1" fill="#b5b5b5"/>
<circle cx="747.68" cy="1659.26" r="3.1" fill="#b5b5b5"/>
<circle cx="696.11" cy="1650.32" r="3.1" fill="#b5b5b5"/>
<circle cx="685.22" cy="1659.46" r="3.1" fill="#b5b5b5"/>
<circle cx="754.20" cy="1657.03" r="3.1" fill="#b5b5b5"/>
<circle cx="764.31" cy="1658.17" r="3.1" fill="#b5b5b5"/>
<circle cx="713.78" cy="1657.38" r="3.1" fill="#b5b5b5"/>
<circle cx="618.62" cy="1657.01" r="3.1" fill="#b5b5b5"/>
<circle cx="728.50" cy="1656.44" r="3.1" fill="#b5b5b5"/>
<circle cx="734.85" cy="1656.32" r="3.1" fill="#b5b5b5"/>
<circle cx="749.28" cy="1656.94" r="3.1" fill="#b5b5b5"/>
<circle cx="723.18" cy="1658.70" r="3.1" fill="#b5b5b5"/>
<circle cx="711.95" cy="1656.94" r="3.1" fill="#b5b5b5"/>
<circle cx="714.10" cy="1656.18" r="3.1" fill="#b5b5b5"/>
<circle cx="756.44" cy="1656.94" r="3.1" fill="#b5b5b5"/>
<circle cx="696.48" cy="1655.41" r="3.1" fill="#b5b5b5"/>
<circle cx="765.45" cy="1656.59" r="3.1" fill="#b5b5b5"/>
<circle cx="670.88" cy="1652.53" r="3.1" fill="#b5b5b5"/>
<circle cx="693.16" cy="1649.37" r="3.1" fill="#b5b5b5"/>
<circle cx="688.29" cy="1653.94" r="3.1" fill="#b5b5b5"/>
<circle cx="736.31" cy="1658.96" r="3.1" fill="#b5b5b5"/>
<circle cx="640.28" cy="1658.40" r="3.1" fill="#b5b5b5"/>
<circle cx="663.94" cy="1652.35" r="3.1" fill="#b5b5b5"/>
<circle cx="631.27" cy="1659.28" r="3.1" fill="#b5b5b5"/>
<circle cx="627.74" cy="1658.96" r="3.1" fill="#b5b5b5"/>
<circle cx="642.40" cy="1656.77" r="3.1" fill="#b5b5b5"/>
<circle cx="624.94" cy="1657.59" r="3.1" fill="#b5b5b5"/>
<circle cx="757.58" cy="1657.23" r="3.1" fill="#b5b5b5"/>
<circle cx="641.75" cy="1657.04" r="3.1" fill="#b5b5b5"/>
<circle cx="699.59" cy="1652.62" r="3.1" fill="#b5b5b5"/>
<circle cx="684.14" cy="1657.39" r="3.1" fill="#b5b5b5"/>
<circle cx="709.15" cy="1655.27" r="3.1" fill="#b5b5b5"/>
<circle cx="661.65" cy="1659.15" r="3.1" fill="#b5b5b5"/>
<circle cx="720.77" cy="1655.67" r="3.1" fill="#b5b5b5"/>
<circle cx="652.02" cy="1659.27" r="3.1" fill="#b5b5b5"/>
<circle cx="687.30" cy="1652.85" r="3.1" fill="#b5b5b5"/>
<circle cx="708.61" cy="1656.18" r="3.1" fill="#b5b5b5"/>
<circle cx="631.13" cy="1657.21" r="3.1" fill="#b5b5b5"/>
<circle cx="747.23" cy="1657.94" r="3.1" fill="#b5b5b5"/>
<circle cx="639.24" cy="1657.39" r="3.1" fill="#b5b5b5"/>
<circle cx="655.87" cy="1656.11" r="3.1" fill="#b5b5b5"/>
<circle cx="620.16" cy="1657.08" r="3.1" fill="#b5b5b5"/>
<circle cx="735.83" cy="1657.08" r="3.1" fill="#b5b5b5"/>
<circle cx="706.69" cy="1654.44" r="3.1" fill="#b5b5b5"/>
<circle cx="744.08" cy="1656.34" r="3.1" fill="#b5b5b5"/>
<circle cx="715.59" cy="1659.53" r="3.1" fill="#b5b5b5"/>
<circle cx="742.66" cy="1658.00" r="3.1" fill="#b5b5b5"/>
<circle cx="662.82" cy="1657.16" r="3.1" fill="#b5b5b5"/>
<circle cx="749.71" cy="1657.65" r="3.1" fill="#b5b5b5"/>
<circle cx="741.60" cy="1657.68" r="3.1" fill="#b5b5b5"/>
<circle cx="758.76" cy="1657.75" r="3.1" fill="#b5b5b5"/>
<circle cx="647.06" cy="1658.16" r="3.1" fill="#b5b5b5"/>
<circle cx="696.41" cy="1659.25" r="3.1" fill="#b5b5b5"/>
<circle cx="672.69" cy="1656.36" r="3.1" fill="#b5b5b5"/>
<circle cx="751.99" cy="1657.19" r="3.1" fill="#b5b5b5"/>
<circle cx="685.67" cy="1659.21" r="3.1" fill="#b5b5b5"/>
<circle cx="681.15" cy="1652.91" r="3.1" fill="#b5b5b5"/>
<circle cx="706.78" cy="1659.45" r="3.1" fill="#b5b5b5"/>
<circle cx="728.27" cy="1657.17" r="3.1" fill="#b5b5b5"/>
<circle cx="714.40" cy="1655.65" r="3.1" fill="#b5b5b5"/>
<circle cx="698.55" cy="1659.15" r="3.1" fill="#b5b5b5"/>
<circle cx="743.93" cy="1658.70" r="3.1" fill="#b5b5b5"/>
<circle cx="635.17" cy="1656.19" r="3.1" fill="#b5b5b5"/>
<circle cx="755.52" cy="1659.52" r="3.1" fill="#b5b5b5"/>
<circle cx="748.90" cy="1656.83" r="3.1" fill="#b5b5b5"/>
<circle cx="743.30" cy="1659.55" r="3.1" fill="#b5b5b5"/>
<circle cx="707.00" cy="1655.96" r="3.1" fill="#b5b5b5"/>
<circle cx="695.65" cy="1657.08" r="3.1" fill="#b5b5b5"/>
<circle cx="691.46" cy="1650.76" r="3.1" fill="#b5b5b5"/>
<circle cx="706.65" cy="1659.49" r="3.1" fill="#b5b5b5"/>
<circle cx="716.46" cy="1655.24" r="3.1" fill="#b5b5b5"/>
<circle cx="639.79" cy="1656.84" r="3.1" fill="#b5b5b5"/>
<circle cx="644.98" cy="1658.82" r="3.1" fill="#b5b5b5"/>
<circle cx="700.31" cy="1653.64" r="3.1" fill="#b5b5b5"/>
<circle cx="698.57" cy="1653.78" r="3.1" fill="#b5b5b5"/>
<circle cx="656.16" cy="1657.97" r="3.1" fill="#b5b5b5"/>
<circle cx="736.55" cy="1658.21" r="3.1" fill="#b5b5b5"/>
<circle cx="654.49" cy="1656.57" r="3.1" fill="#b5b5b5"/>
<circle cx="659.10" cy="1657.69" r="3.1" fill="#b5b5b5"/>
<circle cx="745.38" cy="1659.60" r="3.1" fill="#b5b5b5"/>
<circle cx="655.44" cy="1657.02" r="3.1" fill="#b5b5b5"/>
<circle cx="660.21" cy="1655.33" r="3.1" fill="#b5b5b5"/>
<circle cx="687.39" cy="1650.80" r="3.1" fill="#b5b5b5"/>
<circle cx="634.50" cy="1657.55" r="3.1" fill="#b5b5b5"/>
<circle cx="645.08" cy="1656.38" r="3.1" fill="#b5b5b5"/>
<circle cx="691.43" cy="1654.12" r="3.1" fill="#b5b5b5"/>
<circle cx="671.13" cy="1657.19" r="3.1" fill="#b5b5b5"/>
<circle cx="641.82" cy="1659.35" r="3.1" fill="#b5b5b5"/>
<circle cx="709.83" cy="1658.43" r="3.1" fill="#b5b5b5"/>
<circle cx="746.22" cy="1658.86" r="3.1" fill="#b5b5b5"/>
<circle cx="624.55" cy="1655.94" r="3.1" fill="#b5b5b5"/>
<circle cx="692.21" cy="1654.57" r="3.1" fill="#b5b5b5"/>
<circle cx="636.52" cy="1656.97" r="3.1" fill="#b5b5b5"/>
<circle cx="620.40" cy="1658.58" r="3.1" fill="#b5b5b5"/>
<circle cx="769.88" cy="1659.10" r="3.1" fill="#b5b5b5"/>
<circle cx="736.50" cy="1657.39" r="3.1" fill="#b5b5b5"/>
<circle cx="699.00" cy="1658.86" r="3.1" fill="#b5b5b5"/>
<circle cx="774.35" cy="1658.87" r="3.1" fill="#b5b5b5"/>
<circle cx="673.76" cy="1653.28" r="3.1" fill="#b5b5b5"/>
<circle cx="750.93" cy="1659.57" r="3.1" fill="#b5b5b5"/>
<circle cx="655.53" cy="1656.26" r="3.1" fill="#b5b5b5"/>
<circle cx="687.45" cy="1654.30" r="3.1" fill="#b5b5b5"/>
<circle cx="754.54" cy="1656.83" r="3.1" fill="#b5b5b5"/>
<circle cx="633.85" cy="1658.61" r="3.1" fill="#b5b5b5"/>
<circle cx="643.96" cy="1657.16" r="3.1" fill="#b5b5b5"/>
<circle cx="636.80" cy="1655.63" r="3.1" fill="#b5b5b5"/>
<circle cx="675.39" cy="1658.36" r="3.1" fill="#b5b5b5"/>
<circle cx="664.20" cy="1656.20" r="3.1" fill="#b5b5b5"/>
<circle cx="627.91" cy="1656.71" r="3.1" fill="#b5b5b5"/>
<circle cx="673.25" cy="1655.09" r="3.1" fill="#b5b5b5"/>
<circle cx="716.55" cy="1656.86" r="3.1" fill="#b5b5b5"/>
<circle cx="683.07" cy="1651.15" r="3.1" fill="#b5b5b5"/>
<circle cx="634.18" cy="1656.56" r="3.1" fill="#b5b5b5"/>
<circle cx="649.82" cy="1656.33" r="3.1" fill="#b5b5b5"/>
<circle cx="688.47" cy="1656.03" r="3.1" fill="#b5b5b5"/>
<circle cx="647.40" cy="1656.61" r="3.1" fill="#b5b5b5"/>
<circle cx="770.53" cy="1658.58" r="3.1" fill="#b5b5b5"/>
<circle cx="646.12" cy="1659.35" r="3.1" fill="#b5b5b5"/>
<circle cx="708.30" cy="1658.00" r="3.1" fill="#b5b5b5"/>
<circle cx="683.13" cy="1657.56" r="3.1" fill="#b5b5b5"/>
<circle cx="629.83" cy="1657.75" r="3.1" fill="#b5b5b5"/>
<circle cx="680.51" cy="1655.70" r="3.1" fill="#b5b5b5"/>
<circle cx="693.38" cy="1654.05" r="3.1" fill="#b5b5b5"/>
<circle cx="750.24" cy="1656.54" r="3.1" fill="#b5b5b5"/>
<circle cx="701.02" cy="1657.26" r="3.1" fill="#b5b5b5"/>
<circle cx="704.95" cy="1658.44" r="3.1" fill="#b5b5b5"/>
<circle cx="684.53" cy="1652.07" r="3.1" fill="#b5b5b5"/>
<circle cx="736.73" cy="1656.68" r="3.1" fill="#b5b5b5"/>
<circle cx="762.68" cy="1658.32" r="3.1" fill="#b5b5b5"/>
<circle cx="620.27" cy="1656.28" r="3.1" fill="#b5b5b5"/>
<circle cx="617.70" cy="1656.38" r="3.1" fill="#b5b5b5"/>
<circle cx="664.50" cy="1655.30" r="3.1" fill="#b5b5b5"/>
<circle cx="688.09" cy="1658.78" r="3.1" fill="#b5b5b5"/>
<circle cx="678.95" cy="1651.04" r="3.1" fill="#b5b5b5"/>
<circle cx="694.34" cy="1648.74" r="3.1" fill="#b5b5b5"/>
<circle cx="723.82" cy="1657.71" r="3.1" fill="#b5b5b5"/>
<circle cx="661.27" cy="1656.30" r="3.1" fill="#b5b5b5"/>
<circle cx="669.05" cy="1658.37" r="3.1" fill="#b5b5b5"/>
<circle cx="691.77" cy="1658.76" r="3.1" fill="#b5b5b5"/>
<circle cx="715.89" cy="1656.42" r="3.1" fill="#b5b5b5"/>
<circle cx="761.77" cy="1657.51" r="3.1" fill="#b5b5b5"/>
<circle cx="670.99" cy="1655.47" r="3.1" fill="#b5b5b5"/>
<circle cx="698.62" cy="1657.84" r="3.1" fill="#b5b5b5"/>
<circle cx="709.53" cy="1657.38" r="3.1" fill="#b5b5b5"/>
<circle cx="679.21" cy="1651.70" r="3.1" fill="#b5b5b5"/>
<circle cx="774.78" cy="1657.02" r="3.1" fill="#b5b5b5"/>
<circle cx="668.72" cy="1659.24" r="3.1" fill="#b5b5b5"/>
<circle cx="726.88" cy="1656.72" r="3.1" fill="#b5b5b5"/>
<circle cx="624.39" cy="1657.97" r="3.1" fill="#b5b5b5"/>
<circle cx="730.68" cy="1658.08" r="3.1" fill="#b5b5b5"/>
<circle cx="722.60" cy="1656.93" r="3.1" fill="#b5b5b5"/>
<circle cx="626.70" cy="1657.36" r="3.1" fill="#b5b5b5"/>
<circle cx="667.10" cy="1655.33" r="3.1" fill="#b5b5b5"/>
<circle cx="691.44" cy="1648.69" r="3.1" fill="#b5b5b5"/>
<circle cx="679.48" cy="1653.12" r="3.1" fill="#b5b5b5"/>
<circle cx="772.76" cy="1659.47" r="3.1" fill="#b5b5b5"/>
<circle cx="769.55" cy="1657.97" r="3.1" fill="#b5b5b5"/>
<circle cx="705.58" cy="1656.77" r="3.1" fill="#b5b5b5"/>
<circle cx="666.12" cy="1658.77" r="3.1" fill="#b5b5b5"/>
<circle cx="762.61" cy="1656.71" r="3.1" fill="#b5b5b5"/>
<circle cx="706.45" cy="1658.05" r="3.1" fill="#b5b5b5"/>
<circle cx="701.61" cy="1652.54" r="3.1" fill="#b5b5b5"/>
<circle cx="619.06" cy="1658.85" r="3.1" fill="#b5b5b5"/>
<circle cx="640.01" cy="1655.34" r="3.1" fill="#b5b5b5"/>
<circle cx="720.15" cy="1654.92" r="3.1" fill="#b5b5b5"/>
<circle cx="703.77" cy="1652.79" r="3.1" fill="#b5b5b5"/>
<circle cx="696.13" cy="1648.94" r="3.1" fill="#b5b5b5"/>
<circle cx="676.07" cy="1651.48" r="3.1" fill="#b5b5b5"/>
<circle cx="688.79" cy="1649.47" r="3.1" fill="#b5b5b5"/>
<circle cx="718.72" cy="1659.40" r="3.1" fill="#b5b5b5"/>
<circle cx="691.26" cy="1656.58" r="3.1" fill="#b5b5b5"/>
<circle cx="708.77" cy="1658.51" r="3.1" fill="#b5b5b5"/>
<circle cx="693.66" cy="1650.94" r="3.1" fill="#b5b5b5"/>
<circle cx="653.93" cy="1656.89" r="3.1" fill="#b5b5b5"/>
<circle cx="672.76" cy="1652.23" r="3.1" fill="#b5b5b5"/>
<circle cx="650.29" cy="1659.35" r="3.1" fill="#b5b5b5"/>
<circle cx="756.63" cy="1659.19" r="3.1" fill="#b5b5b5"/>
<circle cx="746.11" cy="1659.60" r="3.1" fill="#b5b5b5"/>
<circle cx="653.14" cy="1656.47" r="3.1" fill="#b5b5b5"/>
<circle cx="740.60" cy="1656.75" r="3.1" fill="#b5b5b5"/>
<circle cx="659.50" cy="1655.18" r="3.1" fill="#b5b5b5"/>
<circle cx="720.97" cy="1655.90" r="3.1" fill="#b5b5b5"/>
<circle cx="637.55" cy="1658.39" r="3.1" fill="#b5b5b5"/>
<circle cx="667.22" cy="1653.56" r="3.1" fill="#b5b5b5"/>
<circle cx="725.40" cy="1657.41" r="3.1" fill="#b5b5b5"/>
<circle cx="642.96" cy="1659.14" r="3.1" fill="#b5b5b5"/>
<circle cx="674.31" cy="1659.44" r="3.1" fill="#b5b5b5"/>
<circle cx="712.50" cy="1659.11" r="3.1" fill="#b5b5b5"/>
<circle cx="733.77" cy="1657.52" r="3.1" fill="#b5b5b5"/>
<circle cx="755.91" cy="1658.24" r="3.1" fill="#b5b5b5"/>
<circle cx="755.56" cy="1657.75" r="3.1" fill="#b5b5b5"/>
<circle cx="766.67" cy="1657.79" r="3.1" fill="#b5b5b5"/>
<circle cx="732.22" cy="1658.11" r="3.1" fill="#b5b5b5"/>
<circle cx="662.61" cy="1654.69" r="3.1" fill="#b5b5b5"/>
<circle cx="625.71" cy="1656.27" r="3.1" fill="#b5b5b5"/>
<circle cx="641.88" cy="1659.53" r="3.1" fill="#b5b5b5"/>
<circle cx="692.93" cy="1658.79" r="3.1" fill="#b5b5b5"/>
<circle cx="650.14" cy="1657.96" r="3.1" fill="#b5b5b5"/>
<circle cx="743.32" cy="1655.46" r="3.1" fill="#b5b5b5"/>
<circle cx="738.60" cy="1657.45" r="3.1" fill="#b5b5b5"/>
<circle cx="636.25" cy="1658.02" r="3.1" fill="#b5b5b5"/>
<circle cx="705.11" cy="1657.51" r="3.1" fill="#b5b5b5"/>
<circle cx="768.97" cy="1656.63" r="3.1" fill="#b5b5b5"/>
<circle cx="652.26" cy="1658.08" r="3.1" fill="#b5b5b5"/>
<circle cx="675.23" cy="1651.52" r="3.1" fill="#b5b5b5"/>
<circle cx="694.28" cy="1651.68" r="3.1" fill="#b5b5b5"/>
<circle cx="631.59" cy="1656.73" r="3.1" fill="#b5b5b5"/>
<circle cx="732.54" cy="1658.49" r="3.1" fill="#b5b5b5"/>
<circle cx="701.28" cy="1659.21" r="3.1" fill="#b5b5b5"/>
<circle cx="760.27" cy="1659.30" r="3.1" fill="#b5b5b5"/>
<circle cx="676.61" cy="1656.46" r="3.1" fill="#b5b5b5"/>
<circle cx="674.30" cy="1652.16" r="3.1" fill="#b5b5b5"/>
<circle cx="680.75" cy="1651.13" r="3.1" fill="#b5b5b5"/>
<circle cx="644.54" cy="1659.59" r="3.1" fill="#b5b5b5"/>
<circle cx="692.15" cy="1647.66" r="3.1" fill="#b5b5b5"/>
<circle cx="671.32" cy="1653.94" r="3.1" fill="#b5b5b5"/>
<circle cx="670.40" cy="1656.62" r="3.1" fill="#b5b5b5"/>
<circle cx="633.04" cy="1657.37" r="3.1" fill="#b5b5b5"/>
<circle cx="718.83" cy="1656.37" r="3.1" fill="#b5b5b5"/>
<circle cx="679.30" cy="1658.05" r="3.1" fill="#b5b5b5"/>
<circle cx="766.72" cy="1658.23" r="3.1" fill="#b5b5b5"/>
<circle cx="682.23" cy="1655.33" r="3.1" fill="#b5b5b5"/>
<circle cx="693.77" cy="1647.17" r="3.1" fill="#b5b5b5"/>
<circle cx="739.16" cy="1658.37" r="3.1" fill="#b5b5b5"/>
<circle cx="725.83" cy="1656.28" r="3.1" fill="#b5b5b5"/>
<circle cx="741.34" cy="1658.16" r="3.1" fill="#b5b5b5"/>
<circle cx="671.84" cy="1653.29" r="3.1" fill="#b5b5b5"/>
<circle cx="665.91" cy="1657.42" r="3.1" fill="#b5b5b5"/>
<circle cx="742.40" cy="1659.08" r="3.1" fill="#b5b5b5"/>
<circle cx="744.31" cy="1659.43" r="3.1" fill="#b5b5b5"/>
<circle cx="688.70" cy="1648.72" r="3.1" fill="#b5b5b5"/>
<circle cx="683.92" cy="1656.19" r="3.1" fill="#b5b5b5"/>
<circle cx="687.87" cy="1657.25" r="3.1" fill="#b5b5b5"/>
<circle cx="669.85" cy="1656.95" r="3.1" fill="#b5b5b5"/>
<circle cx="751.34" cy="1658.46" r="3.1" fill="#b5b5b5"/>
<circle cx="745.52" cy="1657.57" r="3.1" fill="#b5b5b5"/>
<circle cx="684.84" cy="1656.91" r="3.1" fill="#b5b5b5"/>
<circle cx="761.32" cy="1656.82" r="3.1" fill="#b5b5b5"/>
<circle cx="735.77" cy="1656.42" r="3.1" fill="#b5b5b5"/>
<circle cx="700.56" cy="1655.31" r="3.1" fill="#b5b5b5"/>
<circle cx="734.64" cy="1657.84" r="3.1" fill="#b5b5b5"/>
<circle cx="631.28" cy="1657.06" r="3.1" fill="#b5b5b5"/>
<circle cx="726.34" cy="1659.17" r="3.1" fill="#b5b5b5"/>
<circle cx="685.40" cy="1650.79" r="3.1" fill="#b5b5b5"/>
<circle cx="671.56" cy="1652.47" r="3.1" fill="#b5b5b5"/>
<circle cx="700.41" cy="1656.14" r="3.1" fill="#b5b5b5"/>
<circle cx="652.71" cy="1659.54" r="3.1" fill="#b5b5b5"/>
<circle cx="706.50" cy="1658.89" r="3.1" fill="#b5b5b5"/>
<circle cx="672.39" cy="1655.16" r="3.1" fill="#b5b5b5"/>
<circle cx="679.58" cy="1651.07" r="3.1" fill="#b5b5b5"/>
<circle cx="693.45" cy="1651.34" r="3.1" fill="#b5b5b5"/>
<circle cx="689.99" cy="1659.23" r="3.1" fill="#b5b5b5"/>
<circle cx="760.86" cy="1657.29" r="3.1" fill="#b5b5b5"/>
<circle cx="771.32" cy="1659.50" r="3.1" fill="#b5b5b5"/>
<circle cx="711.33" cy="1658.28" r="3.1" fill="#b5b5b5"/>
<circle cx="622.86" cy="1655.99" r="3.1" fill="#b5b5b5"/>
<circle cx="673.97" cy="1658.54" r="3.1" fill="#b5b5b5"/>
<circle cx="650.89" cy="1655.71" r="3.1" fill="#b5b5b5"/>
<circle cx="767.31" cy="1656.62" r="3.1" fill="#b5b5b5"/>
<circle cx="711.58" cy="1657.51" r="3.1" fill="#b5b5b5"/>
<circle cx="734.73" cy="1658.73" r="3.1" fill="#b5b5b5"/>
<circle cx="678.31" cy="1658.10" r="3.1" fill="#b5b5b5"/>
<circle cx="774.52" cy="1656.45" r="3.1" fill="#b5b5b5"/>
<circle cx="678.96" cy="1654.59" r="3.1" fill="#b5b5b5"/>
<circle cx="689.89" cy="1648.05" r="3.1" fill="#b5b5b5"/>
<circle cx="692.27" cy="1656.97" r="3.1" fill="#b5b5b5"/>
<circle cx="720.66" cy="1658.69" r="3.1" fill="#b5b5b5"/>
<circle cx="686.29" cy="1650.31" r="3.1" fill="#b5b5b5"/>
<circle cx="691.76" cy="1656.98" r="3.1" fill="#b5b5b5"/>
<circle cx="675.49" cy="1657.19" r="3.1" fill="#b5b5b5"/>
<circle cx="625.98" cy="1659.52" r="3.1" fill="#b5b5b5"/>
<circle cx="687.70" cy="1656.15" r="3.1" fill="#b5b5b5"/>
<circle cx="704.40" cy="1656.04" r="3.1" fill="#b5b5b5"/>
<circle cx="625.95" cy="1656.33" r="3.1" fill="#b5b5b5"/>
<circle cx="675.29" cy="1653.97" r="3.1" fill="#b5b5b5"/>
<circle cx="729.77" cy="1655.99" r="3.1" fill="#b5b5b5"/>
<circle cx="682.86" cy="1655.98" r="3.1" fill="#b5b5b5"/>
<circle cx="679.66" cy="1652.27" r="3.1" fill="#b5b5b5"/>
<circle cx="668.27" cy="1658.09" r="3.1" fill="#b5b5b5"/>
<circle cx="676.41" cy="1653.22" r="3.1" fill="#b5b5b5"/>
<circle cx="668.23" cy="1652.81" r="3.1" fill="#b5b5b5"/>
<circle cx="707.65" cy="1657.39" r="3.1" fill="#b5b5b5"/>
<circle cx="683.52" cy="1659.45" r="3.1" fill="#b5b5b5"/>
<circle cx="722.48" cy="1656.33" r="3.1" fill="#b5b5b5"/>
<circle cx="677.00" cy="1651.63" r="3.1" fill="#b5b5b5"/>
<circle cx="721.02" cy="1658.78" r="3.1" fill="#b5b5b5"/>
<circle cx="712.42" cy="1659.60" r="3.1" fill="#b5b5b5"/>
<circle cx="639.26" cy="1658.41" r="3.1" fill="#b5b5b5"/>
<circle cx="682.29" cy="1653.31" r="3.1" fill="#b5b5b5"/>
<circle cx="754.65" cy="1658.43" r="3.1" fill="#b5b5b5"/>
<circle cx="753.90" cy="1659.50" r="3.1" fill="#b5b5b5"/>
<circle cx="729.59" cy="1658.68" r="3.1" fill="#b5b5b5"/>
<circle cx="658.77" cy="1658.92" r="3.1" fill="#b5b5b5"/>
<circle cx="681.59" cy="1655.19" r="3.1" fill="#b5b5b5"/>
<circle cx="633.47" cy="1656.79" r="3.1" fill="#b5b5b5"/>
<circle cx="684.41" cy="1652.10" r="3.1" fill="#b5b5b5"/>
<circle cx="674.07" cy="1657.25" r="3.1" fill="#b5b5b5"/>
<circle cx="686.44" cy="1654.53" r="3.1" fill="#b5b5b5"/>
<circle cx="698.39" cy="1650.04" r="3.1" fill="#b5b5b5"/>
<circle cx="636.04" cy="1658.32" r="3.1" fill="#b5b5b5"/>
<circle cx="681.02" cy="1655.71" r="3.1" fill="#b5b5b5"/>
<circle cx="666.90" cy="1658.69" r="3.1" fill="#b5b5b5"/>
<circle cx="624.74" cy="1659.10" r="3.1" fill="#b5b5b5"/>
<circle cx="752.04" cy="1656.50" r="3.1" fill="#b5b5b5"/>
<circle cx="737.88" cy="1656.55" r="3.1" fill="#b5b5b5"/>
<circle cx="692.86" cy="1655.97" r="3.1" fill="#b5b5b5"/>
<circle cx="717.31" cy="1659.45" r="3.1" fill="#b5b5b5"/>
<circle cx="669.00" cy="1651.45" r="3.1" fill="#b5b5b5"/>
<circle cx="705.27" cy="1653.85" r="3.1" fill="#b5b5b5"/>
<circle cx="737.10" cy="1659.46" r="3.1" fill="#b5b5b5"/>
<circle cx="695.51" cy="1653.78" r="3.1" fill="#b5b5b5"/>
<circle cx="752.17" cy="1657.15" r="3.1" fill="#b5b5b5"/>
<circle cx="677.50" cy="1652.79" r="3.1" fill="#b5b5b5"/>
<circle cx="676.91" cy="1656.98" r="3.1" fill="#b5b5b5"/>
<circle cx="684.09" cy="1659.48" r="3.1" fill="#b5b5b5"/>
<circle cx="698.00" cy="1655.60" r="3.1" fill="#b5b5b5"/>
<circle cx="696.06" cy="1655.54" r="3.1" fill="#b5b5b5"/>
<circle cx="686.57" cy="1652.13" r="3.1" fill="#b5b5b5"/>
<circle cx="690.48" cy="1650.25" r="3.1" fill="#b5b5b5"/>
<circle cx="665.89" cy="1652.00" r="3.1" fill="#b5b5b5"/>
<circle cx="700.01" cy="1656.92" r="3.1" fill="#b5b5b5"/>
<circle cx="668.89" cy="1654.47" r="3.1" fill="#b5b5b5"/>
<circle cx="685.59" cy="1654.34" r="3.1" fill="#b5b5b5"/>
<circle cx="716.14" cy="1659.45" r="3.1" fill="#b5b5b5"/>
<circle cx="695.07" cy="1658.24" r="3.1" fill="#b5b5b5"/>
<circle cx="669.50" cy="1659.50" r="3.1" fill="#b5b5b5"/>
<circle cx="661.71" cy="1657.56" r="3.1" fill="#b5b5b5"/>
<circle cx="686.29" cy="1656.09" r="3.1" fill="#b5b5b5"/>
<circle cx="658.75" cy="1655.87" r="3.1" fill="#b5b5b5"/>
<circle cx="761.35" cy="1659.43" r="3.1" fill="#b5b5b5"/>
<circle cx="690.55" cy="1652.75" r="3.1" fill="#b5b5b5"/>
<circle cx="640.86" cy="1655.37" r="3.1" fill="#b5b5b5"/>
<circle cx="756.14" cy="1659.46" r="3.1" fill="#b5b5b5"/>
<circle cx="688.44" cy="1659.44" r="3.1" fill="#b5b5b5"/>
<circle cx="708.51" cy="1659.46" r="3.1" fill="#b5b5b5"/>
<circle cx="680.81" cy="1658.17" r="3.1" fill="#b5b5b5"/>
<circle cx="672.80" cy="1657.57" r="3.1" fill="#b5b5b5"/>
<circle cx="622.98" cy="1657.88" r="3.1" fill="#b5b5b5"/>
<circle cx="761.86" cy="1659.59" r="3.1" fill="#b5b5b5"/>
<circle cx="724.41" cy="1656.60" r="3.1" fill="#b5b5b5"/>
<circle cx="669.10" cy="1653.53" r="3.1" fill="#b5b5b5"/>
<circle cx="648.27" cy="1656.39" r="3.1" fill="#b5b5b5"/>
<circle cx="717.87" cy="1655.85" r="3.1" fill="#b5b5b5"/>
<circle cx="703.88" cy="1655.00" r="3.1" fill="#b5b5b5"/>
<circle cx="660.44" cy="1656.06" r="3.1" fill="#b5b5b5"/>
<circle cx="714.47" cy="1655.51" r="3.1" fill="#b5b5b5"/>
<circle cx="748.02" cy="1655.77" r="3.1" fill="#b5b5b5"/>
<circle cx="688.66" cy="1651.65" r="3.1" fill="#b5b5b5"/>
<circle cx="691.16" cy="1652.39" r="3.1" fill="#b5b5b5"/>
<circle cx="674.26" cy="1656.21" r="3.1" fill="#b5b5b5"/>
<circle cx="662.27" cy="1659.50" r="3.1" fill="#b5b5b5"/>
<circle cx="689.10" cy="1651.06" r="3.1" fill="#b5b5b5"/>
<circle cx="701.62" cy="1654.64" r="3.1" fill="#b5b5b5"/>
<circle cx="666.05" cy="1656.66" r="3.1" fill="#b5b5b5"/>
<circle cx="661.57" cy="1653.92" r="3.1" fill="#b5b5b5"/>
<circle cx="731.22" cy="1656.30" r="3.1" fill="#b5b5b5"/>
<circle cx="702.78" cy="1657.12" r="3.1" fill="#b5b5b5"/>
<circle cx="723.67" cy="1658.63" r="3.1" fill="#b5b5b5"/>
<circle cx="732.97" cy="1656.37" r="3.1" fill="#b5b5b5"/>
<circle cx="667.92" cy="1655.02" r="3.1" fill="#b5b5b5"/>
<circle cx="772.47" cy="1659.13" r="3.1" fill="#b5b5b5"/>
<circle cx="621.14" cy="1657.85" r="3.1" fill="#b5b5b5"/>
<circle cx="702.90" cy="1653.96" r="3.1" fill="#b5b5b5"/>
<circle cx="626.00" cy="1658.84" r="3.1" fill="#b5b5b5"/>
<circle cx="701.53" cy="1659.43" r="3.1" fill="#b5b5b5"/>
<circle cx="700.58" cy="1652.45" r="3.1" fill="#b5b5b5"/>
<circle cx="659.75" cy="1657.40" r="3.1" fill="#b5b5b5"/>
<circle cx="701.94" cy="1657.33" r="3.1" fill="#b5b5b5"/>
<circle cx="743.79" cy="1657.82" r="3.1" fill="#b5b5b5"/>
<circle cx="686.95" cy="1653.58" r="3.1" fill="#b5b5b5"/>
<circle cx="697.31" cy="1655.68" r="3.1" fill="#b5b5b5"/>
<circle cx="637.87" cy="1659.53" r="3.1" fill="#b5b5b5"/>
<circle cx="732.59" cy="1658.51" r="3.1" fill="#b5b5b5"/>
<circle cx="678.09" cy="1654.05" r="3.1" fill="#b5b5b5"/>
<circle cx="630.26" cy="1659.42" r="3.1" fill="#b5b5b5"/>
<circle cx="742.49" cy="1656.78" r="3.1" fill="#b5b5b5"/>
<circle cx="740.04" cy="1656.86" r="3.1" fill="#b5b5b5"/>
<circle cx="668.67" cy="1653.64" r="3.1" fill="#b5b5b5"/>
<circle cx="660.44" cy="1659.52" r="3.1" fill="#b5b5b5"/>
<circle cx="654.70" cy="1659.31" r="3.1" fill="#b5b5b5"/>
<circle cx="746.53" cy="1655.96" r="3.1" fill="#b5b5b5"/>
<circle cx="648.97" cy="1659.47" r="3.1" fill="#b5b5b5"/>
<circle cx="653.95" cy="1659.57" r="3.1" fill="#b5b5b5"/>
<circle cx="715.40" cy="1658.19" r="3.1" fill="#b5b5b5"/>
<circle cx="693.58" cy="1655.23" r="3.1" fill="#b5b5b5"/>
<circle cx="714.79" cy="1657.66" r="3.1" fill="#b5b5b5"/>
<circle cx="773.77" cy="1655.95" r="3.1" fill="#b5b5b5"/>
<circle cx="629.51" cy="1659.38" r="3.1" fill="#b5b5b5"/>
<circle cx="766.12" cy="1659.54" r="3.1" fill="#b5b5b5"/>
<circle cx="760.68" cy="1656.63" r="3.1" fill="#b5b5b5"/>
<circle cx="767.89" cy="1658.92" r="3.1" fill="#b5b5b5"/>
<circle cx="632.66" cy="1658.91" r="3.1" fill="#b5b5b5"/>
<circle cx="749.29" cy="1659.18" r="3.1" fill="#b5b5b5"/>
<circle cx="684.29" cy="1654.49" r="3.1" fill="#b5b5b5"/>
<circle cx="721.59" cy="1657.77" r="3.1" fill="#b5b5b5"/>
<circle cx="773.90" cy="1657.45" r="3.1" fill="#b5b5b5"/>
<circle cx="716.97" cy="1657.48" r="3.1" fill="#b5b5b5"/>
<circle cx="772.55" cy="1657.07" r="3.1" fill="#b5b5b5"/>
<circle cx="729.83" cy="1657.50" r="3.1" fill="#b5b5b5"/>
<circle cx="663.19" cy="1659.41" r="3.1" fill="#b5b5b5"/>
<circle cx="720.51" cy="1657.99" r="3.1" fill="#b5b5b5"/>
<circle cx="689.19" cy="1653.00" r="3.1" fill="#b5b5b5"/>
<circle cx="668.66" cy="1656.04" r="3.1" fill="#b5b5b5"/>
<circle cx="731.15" cy="1658.58" r="3.1" fill="#b5b5b5"/>
<circle cx="686.72" cy="1657.66" r="3.1" fill="#b5b5b5"/>
<circle cx="728.55" cy="1658.26" r="3.1" fill="#b5b5b5"/>
<circle cx="723.21" cy="1659.57" r="3.1" fill="#b5b5b5"/>
<circle cx="623.94" cy="1659.50" r="3.1" fill="#b5b5b5"/>
<circle cx="621.84" cy="1656.17" r="3.1" fill="#b5b5b5"/>
<circle cx="693.11" cy="1655.26" r="3.1" fill="#b5b5b5"/>
<circle cx="618.26" cy="1656.13" r="3.1" fill="#b5b5b5"/>
<circle cx="677.33" cy="1654.24" r="3.1" fill="#b5b5b5"/>
<circle cx="677.34" cy="1656.33" r="3.1" fill="#b5b5b5"/>
<circle cx="747.35" cy="1659.57" r="3.1" fill="#b5b5b5"/>
<circle cx="758.04" cy="1658.94" r="3.1" fill="#b5b5b5"/>
<circle cx="749.50" cy="1659.60" r="3.1" fill="#b5b5b5"/>
<circle cx="663.45" cy="1656.35" r="3.1" fill="#b5b5b5"/>
<circle cx="695.52" cy="1651.28" r="3.1" fill="#b5b5b5"/>
<circle cx="698.40" cy="1651.47" r="3.1" fill="#b5b5b5"/>
<circle cx="688.73" cy="1657.14" r="3.1" fill="#b5b5b5"/>
<circle cx="681.37" cy="1659.48" r="3.1" fill="#b5b5b5"/>
<circle cx="669.89" cy="1652.23" r="3.1" fill="#b5b5b5"/>
<circle cx="683.23" cy="1653.82" r="3.1" fill="#b5b5b5"/>
<circle cx="693.18" cy="1648.99" r="3.1" fill="#b5b5b5"/>
<circle cx="740.18" cy="1656.44" r="3.1" fill="#b5b5b5"/>
<circle cx="764.31" cy="1659.57" r="3.1" fill="#b5b5b5"/>
<circle cx="624.70" cy="1659.59" r="3.1" fill="#b5b5b5"/>
<circle cx="693.90" cy="1650.12" r="3.1" fill="#b5b5b5"/>
<circle cx="697.40" cy="1657.10" r="3.1" fill="#b5b5b5"/>
<circle cx="772.74" cy="1656.02" r="3.1" fill="#b5b5b5"/>
<circle cx="630.26" cy="1659.54" r="3.1" fill="#b5b5b5"/>
<circle cx="665.06" cy="1653.16" r="3.1" fill="#b5b5b5"/>
<circle cx="718.41" cy="1655.45" r="3.1" fill="#b5b5b5"/>
<circle cx="693.17" cy="1647.23" r="3.1" fill="#b5b5b5"/>
<circle cx="710.02" cy="1655.59" r="3.1" fill="#b5b5b5"/>
<circle cx="649.11" cy="1657.38" r="3.1" fill="#b5b5b5"/>
<circle cx="732.19" cy="1659.49" r="3.1" fill="#b5b5b5"/>
<circle cx="694.71" cy="1656.83" r="3.1" fill="#b5b5b5"/>
<circle cx="648.10" cy="1658.53" r="3.1" fill="#b5b5b5"/>
<circle cx="682.04" cy="1658.78" r="3.1" fill="#b5b5b5"/>
<circle cx="734.91" cy="1659.56" r="3.1" fill="#b5b5b5"/>
<circle cx="686.36" cy="1658.87" r="3.1" fill="#b5b5b5"/>
<circle cx="716.98" cy="1658.44" r="3.1" fill="#b5b5b5"/>
<circle cx="686.06" cy="1650.93" r="3.1" fill="#b5b5b5"/>
<circle cx="716.37" cy="1659.16" r="3.1" fill="#b5b5b5"/>
<circle cx="663.28" cy="1652.89" r="3.1" fill="#b5b5b5"/>
<circle cx="768.46" cy="1656.65" r="3.1" fill="#b5b5b5"/>
<circle cx="667.46" cy="1655.78" r="3.1" fill="#b5b5b5"/>
<circle cx="638.96" cy="1659.54" r="3.1" fill="#b5b5b5"/>
<circle cx="679.70" cy="1658.43" r="3.1" fill="#b5b5b5"/>
<circle cx="741.35" cy="1659.45" r="3.1" fill="#b5b5b5"/>
<circle cx="763.66" cy="1657.46" r="3.1" fill="#b5b5b5"/>
<circle cx="641.98" cy="1655.43" r="3.1" fill="#b5b5b5"/>
<circle cx="661.55" cy="1654.99" r="3.1" fill="#b5b5b5"/>
<circle cx="682.29" cy="1652.53" r="3.1" fill="#b5b5b5"/>
<circle cx="696.10" cy="1659.46" r="3.1" fill="#b5b5b5"/>
<circle cx="617.28" cy="1658.50" r="3.1" fill="#b5b5b5"/>
<circle cx="693.88" cy="1657.72" r="3.1" fill="#b5b5b5"/>
<circle cx="663.84" cy="1657.60" r="3.1" fill="#b5b5b5"/>
<circle cx="646.65" cy="1657.96" r="3.1" fill="#b5b5b5"/>
<circle cx="663.02" cy="1653.01" r="3.1" fill="#b5b5b5"/>
<circle cx="775.66" cy="1657.73" r="3.1" fill="#b5b5b5"/>
<circle cx="629.06" cy="1656.43" r="3.1" fill="#b5b5b5"/>
<circle cx="630.98" cy="1656.81" r="3.1" fill="#b5b5b5"/>
<circle cx="699.34" cy="1651.55" r="3.1" fill="#b5b5b5"/>
<circle cx="752.31" cy="1659.48" r="3.1" fill="#b5b5b5"/>
<circle cx="706.24" cy="1654.48" r="3.1" fill="#b5b5b5"/>
<circle cx="643.97" cy="1655.78" r="3.1" fill="#b5b5b5"/>
<circle cx="667.31" cy="1657.21" r="3.1" fill="#b5b5b5"/>
<circle cx="587.50" cy="1651.70" r="3.1" fill="#b5b5b5"/>
<circle cx="592.00" cy="1653.00" r="3.1" fill="#b5b5b5"/>
<circle cx="597.00" cy="1654.50" r="3.1" fill="#b5b5b5"/>
<circle cx="602.00" cy="1656.00" r="3.1" fill="#b5b5b5"/>
<circle cx="607.00" cy="1657.50" r="3.1" fill="#b5b5b5"/>
<circle cx="612.00" cy="1659.00" r="3.1" fill="#b5b5b5"/>
<circle cx="616.70" cy="1660.80" r="3.1" fill="#b5b5b5"/>
<circle cx="590.00" cy="1655.00" r="3.1" fill="#b5b5b5"/>
<circle cx="600.00" cy="1652.50" r="3.1" fill="#b5b5b5"/>
<circle cx="595.00" cy="1657.00" r="3.1" fill="#b5b5b5"/>
<circle cx="605.00" cy="1653.00" r="3.1" fill="#b5b5b5"/>
<circle cx="623.30" cy="1651.70" r="3.1" fill="#b5b5b5"/>
<circle cx="635.80" cy="1650.80" r="3.1" fill="#b5b5b5"/>
<circle cx="645.00" cy="1653.30" r="3.1" fill="#b5b5b5"/>
<circle cx="651.70" cy="1651.70" r="3.1" fill="#b5b5b5"/>
<circle cx="713.30" cy="1653.30" r="3.1" fill="#b5b5b5"/>
<circle cx="741.70" cy="1655.00" r="3.1" fill="#b5b5b5"/>
<circle cx="660.00" cy="1649.00" r="3.1" fill="#b5b5b5"/>
<circle cx="778.30" cy="1653.30" r="3.1" fill="#b5b5b5"/>
<circle cx="782.50" cy="1646.70" r="3.1" fill="#b5b5b5"/>
<circle cx="790.00" cy="1655.00" r="3.1" fill="#b5b5b5"/>
<circle cx="791.70" cy="1651.70" r="3.1" fill="#b5b5b5"/>
<circle cx="799.20" cy="1649.70" r="3.1" fill="#b5b5b5"/>
<circle cx="786.00" cy="1652.00" r="3.1" fill="#b5b5b5"/>
<circle cx="775.00" cy="1657.00" r="3.1" fill="#b5b5b5"/>
<circle cx="543.30" cy="1611.30" r="3.1" fill="#2b58a8"/>
<circle cx="553.40" cy="1613.20" r="3.1" fill="#2b58a8"/>
<circle cx="598.00" cy="1613.70" r="3.1" fill="#2b58a8"/>
<circle cx="594.80" cy="1629.40" r="3.1" fill="#2b58a8"/>
<circle cx="594.80" cy="1644.10" r="3.1" fill="#2b58a8"/>
<circle cx="607.00" cy="1642.20" r="3.1" fill="#2b58a8"/>
<circle cx="620.50" cy="1637.30" r="3.1" fill="#2b58a8"/>
<circle cx="619.20" cy="1642.20" r="3.1" fill="#2b58a8"/>
<circle cx="627.30" cy="1645.40" r="3.1" fill="#2b58a8"/>
<circle cx="635.40" cy="1641.40" r="3.1" fill="#2b58a8"/>
<circle cx="639.50" cy="1630.50" r="3.1" fill="#2b58a8"/>
<circle cx="643.50" cy="1641.40" r="3.1" fill="#2b58a8"/>
<circle cx="647.60" cy="1643.50" r="3.1" fill="#2b58a8"/>
<circle cx="653.00" cy="1643.50" r="3.1" fill="#2b58a8"/>
<circle cx="657.60" cy="1640.00" r="3.1" fill="#2b58a8"/>
<circle cx="672.00" cy="1645.40" r="3.1" fill="#2b58a8"/>
<circle cx="676.00" cy="1611.30" r="3.1" fill="#2b58a8"/>
<circle cx="681.50" cy="1627.80" r="3.1" fill="#2b58a8"/>
<circle cx="685.50" cy="1629.20" r="3.1" fill="#2b58a8"/>
<circle cx="678.80" cy="1633.80" r="3.1" fill="#2b58a8"/>
<circle cx="682.80" cy="1637.30" r="3.1" fill="#2b58a8"/>
<circle cx="686.90" cy="1640.00" r="3.1" fill="#2b58a8"/>
<circle cx="681.00" cy="1643.00" r="3.1" fill="#2b58a8"/>
<circle cx="686.00" cy="1644.00" r="3.1" fill="#2b58a8"/>
<circle cx="679.30" cy="1568.20" r="3.1" fill="#2b58a8"/>
<circle cx="685.80" cy="1589.90" r="3.1" fill="#2b58a8"/>
<circle cx="676.60" cy="1586.60" r="3.1" fill="#2b58a8"/>
<circle cx="610.00" cy="1643.00" r="3.1" fill="#2b58a8"/>
<circle cx="625.00" cy="1644.00" r="3.1" fill="#2b58a8"/>
<circle cx="684.00" cy="1622.00" r="3.1" fill="#2b58a8"/>
<circle cx="688.00" cy="1630.00" r="3.1" fill="#2b58a8"/>
<circle cx="699.90" cy="1611.60" r="3.1" fill="#e4262b"/>
<circle cx="701.80" cy="1621.00" r="3.1" fill="#e4262b"/>
<circle cx="697.70" cy="1627.00" r="3.1" fill="#e4262b"/>
<circle cx="698.50" cy="1630.50" r="3.1" fill="#e4262b"/>
<circle cx="711.80" cy="1633.20" r="3.1" fill="#e4262b"/>
<circle cx="701.80" cy="1636.50" r="3.1" fill="#e4262b"/>
<circle cx="695.00" cy="1637.30" r="3.1" fill="#e4262b"/>
<circle cx="695.00" cy="1642.70" r="3.1" fill="#e4262b"/>
<circle cx="805.50" cy="1622.90" r="3.1" fill="#e4262b"/>
<circle cx="810.90" cy="1626.50" r="3.1" fill="#e4262b"/>
<circle cx="797.10" cy="1639.20" r="3.1" fill="#e4262b"/>
<circle cx="813.60" cy="1611.60" r="3.1" fill="#e4262b"/>
<circle cx="826.70" cy="1279.90" r="3.1" fill="#e4262b"/>
<circle cx="697.00" cy="1640.00" r="3.1" fill="#e4262b"/>
<circle cx="700.00" cy="1644.00" r="3.1" fill="#e4262b"/>
<g stroke="#000" stroke-width="2" stroke-dasharray="9.8,12.1">
<line x1="691.40" y1="1675.60" x2="691.40" y2="1235.00" stroke="#000" stroke-width="2"/>
<line x1="499.20" y1="1646.02" x2="883.90" y2="1646.02" stroke="#000" stroke-width="2"/>
</g>
<line x1="788.10" y1="1254.60" x2="826.00" y2="1279.20" stroke="#000" stroke-width="1.5"/>
<text x="716.79" y="1253.90" font-size="18.2" fill="#000">Gm6565</text>
<line x1="648.40" y1="1535.70" x2="679.30" y2="1567.40" stroke="#000" stroke-width="1.5"/>
<text x="578.99" y="1533.00" font-size="18.2" fill="#000">Gm5641</text>
<line x1="654.90" y1="1557.40" x2="685.50" y2="1588.50" stroke="#000" stroke-width="1.5"/>
<text x="589.08" y="1559.60" font-size="18.2" fill="#000">Slc7a11</text>
<line x1="635.40" y1="1570.10" x2="676.00" y2="1586.40" stroke="#000" stroke-width="1.5"/>
<text x="575.49" y="1577.70" font-size="18.2" fill="#000">Col3a1</text>
<line x1="732.40" y1="1581.00" x2="700.40" y2="1610.20" stroke="#000" stroke-width="1.5"/>
<text x="727.48" y="1576.40" font-size="18.2" fill="#000">Syt6</text>
<line x1="846.10" y1="1579.10" x2="814.20" y2="1610.20" stroke="#000" stroke-width="1.5"/>
<text x="819.99" y="1575.00" font-size="18.2" fill="#000">Ccl21b</text>
<rect x="499.20" y="1235.00" width="384.70" height="440.60" fill="none" stroke="#000" stroke-width="1.6"/>
<line x1="542.80" y1="1675.60" x2="542.80" y2="1690.10" stroke="#000" stroke-width="1.6"/>
<text x="523.32" y="1715.10" font-size="23.2" fill="#000">−10</text>
<line x1="617.10" y1="1675.60" x2="617.10" y2="1690.10" stroke="#000" stroke-width="1.6"/>
<text x="604.06" y="1715.10" font-size="23.2" fill="#000">−5</text>
<line x1="691.40" y1="1675.60" x2="691.40" y2="1690.10" stroke="#000" stroke-width="1.6"/>
<text x="684.96" y="1715.10" font-size="23.2" fill="#000">0</text>
<line x1="765.70" y1="1675.60" x2="765.70" y2="1690.10" stroke="#000" stroke-width="1.6"/>
<text x="759.26" y="1715.10" font-size="23.2" fill="#000">5</text>
<line x1="840.00" y1="1675.60" x2="840.00" y2="1690.10" stroke="#000" stroke-width="1.6"/>
<text x="826.72" y="1715.10" font-size="23.2" fill="#000">10</text>
<line x1="484.70" y1="1659.60" x2="499.20" y2="1659.60" stroke="#000" stroke-width="1.6"/>
<text x="0" y="0" font-size="23.2" fill="#000" transform="translate(473.90,1665.04) rotate(-90)">0</text>
<line x1="484.70" y1="1591.70" x2="499.20" y2="1591.70" stroke="#000" stroke-width="1.6"/>
<text x="0" y="0" font-size="23.2" fill="#000" transform="translate(473.90,1597.14) rotate(-90)">5</text>
<line x1="484.70" y1="1523.80" x2="499.20" y2="1523.80" stroke="#000" stroke-width="1.6"/>
<text x="0" y="0" font-size="23.2" fill="#000" transform="translate(473.90,1536.08) rotate(-90)">10</text>
<line x1="484.70" y1="1455.90" x2="499.20" y2="1455.90" stroke="#000" stroke-width="1.6"/>
<text x="0" y="0" font-size="23.2" fill="#000" transform="translate(473.90,1468.18) rotate(-90)">15</text>
<line x1="484.70" y1="1388.00" x2="499.20" y2="1388.00" stroke="#000" stroke-width="1.6"/>
<text x="0" y="0" font-size="23.2" fill="#000" transform="translate(473.90,1399.99) rotate(-90)">20</text>
<line x1="484.70" y1="1320.10" x2="499.20" y2="1320.10" stroke="#000" stroke-width="1.6"/>
<text x="0" y="0" font-size="23.2" fill="#000" transform="translate(473.90,1332.09) rotate(-90)">25</text>
<line x1="484.70" y1="1252.20" x2="499.20" y2="1252.20" stroke="#000" stroke-width="1.6"/>
<text x="0" y="0" font-size="23.2" fill="#000" transform="translate(473.90,1264.08) rotate(-90)">30</text>
<text x="0" y="0" font-size="29.3" fill="#000" transform="translate(421.70,1522.46) rotate(-90)">−log10(FDR)</text>
<text x="659.40" y="1759.90" font-size="29.3" fill="#000">logFC</text>
<text x="614.69" y="1211.70" font-size="40.5" font-weight="bold" fill="#000">ACC-F</text>
<text x="396.48" y="1199.20" font-size="25" font-weight="bold" fill="#000">F</text>
<circle cx="1166.55" cy="1659.32" r="3.1" fill="#b5b5b5"/>
<circle cx="1284.70" cy="1659.46" r="3.1" fill="#b5b5b5"/>
<circle cx="1202.15" cy="1659.05" r="3.1" fill="#b5b5b5"/>
<circle cx="1302.47" cy="1659.30" r="3.1" fill="#b5b5b5"/>
<circle cx="1209.06" cy="1659.31" r="3.1" fill="#b5b5b5"/>
<circle cx="1229.36" cy="1659.37" r="3.1" fill="#b5b5b5"/>
<circle cx="1169.06" cy="1659.03" r="3.1" fill="#b5b5b5"/>
<circle cx="1338.75" cy="1659.11" r="3.1" fill="#b5b5b5"/>
<circle cx="1199.83" cy="1659.38" r="3.1" fill="#b5b5b5"/>
<circle cx="1280.28" cy="1658.99" r="3.1" fill="#b5b5b5"/>
<circle cx="1262.87" cy="1659.30" r="3.1" fill="#b5b5b5"/>
<circle cx="1179.14" cy="1659.29" r="3.1" fill="#b5b5b5"/>
<circle cx="1170.06" cy="1659.10" r="3.1" fill="#b5b5b5"/>
<circle cx="1161.43" cy="1659.02" r="3.1" fill="#b5b5b5"/>
<circle cx="1355.33" cy="1659.14" r="3.1" fill="#b5b5b5"/>
<circle cx="1358.03" cy="1659.16" r="3.1" fill="#b5b5b5"/>
<circle cx="1275.05" cy="1659.42" r="3.1" fill="#b5b5b5"/>
<circle cx="1292.25" cy="1658.97" r="3.1" fill="#b5b5b5"/>
<circle cx="1271.05" cy="1659.28" r="3.1" fill="#b5b5b5"/>
<circle cx="1182.67" cy="1658.96" r="3.1" fill="#b5b5b5"/>
<circle cx="1332.97" cy="1659.21" r="3.1" fill="#b5b5b5"/>
<circle cx="1185.40" cy="1659.17" r="3.1" fill="#b5b5b5"/>
<circle cx="1190.68" cy="1659.38" r="3.1" fill="#b5b5b5"/>
<circle cx="1251.85" cy="1658.96" r="3.1" fill="#b5b5b5"/>
<circle cx="1320.69" cy="1658.95" r="3.1" fill="#b5b5b5"/>
<circle cx="1204.22" cy="1658.92" r="3.1" fill="#b5b5b5"/>
<circle cx="1303.83" cy="1658.97" r="3.1" fill="#b5b5b5"/>
<circle cx="1257.33" cy="1658.96" r="3.1" fill="#b5b5b5"/>
<circle cx="1247.51" cy="1659.31" r="3.1" fill="#b5b5b5"/>
<circle cx="1259.30" cy="1659.17" r="3.1" fill="#b5b5b5"/>
<circle cx="1248.47" cy="1659.16" r="3.1" fill="#b5b5b5"/>
<circle cx="1272.43" cy="1658.96" r="3.1" fill="#b5b5b5"/>
<circle cx="1246.23" cy="1659.04" r="3.1" fill="#b5b5b5"/>
<circle cx="1330.94" cy="1659.46" r="3.1" fill="#b5b5b5"/>
<circle cx="1157.80" cy="1658.99" r="3.1" fill="#b5b5b5"/>
<circle cx="1295.84" cy="1659.24" r="3.1" fill="#b5b5b5"/>
<circle cx="1147.54" cy="1659.32" r="3.1" fill="#b5b5b5"/>
<circle cx="1347.95" cy="1659.15" r="3.1" fill="#b5b5b5"/>
<circle cx="1218.70" cy="1659.24" r="3.1" fill="#b5b5b5"/>
<circle cx="1346.91" cy="1659.06" r="3.1" fill="#b5b5b5"/>
<circle cx="1208.91" cy="1659.01" r="3.1" fill="#b5b5b5"/>
<circle cx="1279.58" cy="1659.18" r="3.1" fill="#b5b5b5"/>
<circle cx="1198.89" cy="1659.13" r="3.1" fill="#b5b5b5"/>
<circle cx="1150.94" cy="1659.09" r="3.1" fill="#b5b5b5"/>
<circle cx="1356.40" cy="1659.25" r="3.1" fill="#b5b5b5"/>
<circle cx="1204.64" cy="1659.46" r="3.1" fill="#b5b5b5"/>
<circle cx="1221.04" cy="1659.05" r="3.1" fill="#b5b5b5"/>
<circle cx="1151.01" cy="1658.99" r="3.1" fill="#b5b5b5"/>
<circle cx="1186.53" cy="1659.04" r="3.1" fill="#b5b5b5"/>
<circle cx="1332.57" cy="1659.06" r="3.1" fill="#b5b5b5"/>
<circle cx="1197.27" cy="1659.26" r="3.1" fill="#b5b5b5"/>
<circle cx="1342.14" cy="1659.07" r="3.1" fill="#b5b5b5"/>
<circle cx="1308.44" cy="1659.12" r="3.1" fill="#b5b5b5"/>
<circle cx="1264.99" cy="1659.26" r="3.1" fill="#b5b5b5"/>
<circle cx="1347.60" cy="1659.35" r="3.1" fill="#b5b5b5"/>
<circle cx="1253.52" cy="1659.40" r="3.1" fill="#b5b5b5"/>
<circle cx="1222.81" cy="1659.13" r="3.1" fill="#b5b5b5"/>
<circle cx="1351.43" cy="1659.23" r="3.1" fill="#b5b5b5"/>
<circle cx="1311.00" cy="1659.09" r="3.1" fill="#b5b5b5"/>
<circle cx="1341.74" cy="1659.27" r="3.1" fill="#b5b5b5"/>
<circle cx="1196.99" cy="1659.46" r="3.1" fill="#b5b5b5"/>
<circle cx="1245.02" cy="1659.10" r="3.1" fill="#b5b5b5"/>
<circle cx="1200.34" cy="1658.96" r="3.1" fill="#b5b5b5"/>
<circle cx="1186.88" cy="1659.32" r="3.1" fill="#b5b5b5"/>
<circle cx="1173.88" cy="1659.06" r="3.1" fill="#b5b5b5"/>
<circle cx="1240.35" cy="1659.23" r="3.1" fill="#b5b5b5"/>
<circle cx="1225.86" cy="1659.37" r="3.1" fill="#b5b5b5"/>
<circle cx="1199.04" cy="1659.12" r="3.1" fill="#b5b5b5"/>
<circle cx="1235.50" cy="1658.98" r="3.1" fill="#b5b5b5"/>
<circle cx="1191.58" cy="1658.99" r="3.1" fill="#b5b5b5"/>
<circle cx="1300.59" cy="1658.99" r="3.1" fill="#b5b5b5"/>
<circle cx="1288.17" cy="1659.03" r="3.1" fill="#b5b5b5"/>
<circle cx="1283.59" cy="1659.29" r="3.1" fill="#b5b5b5"/>
<circle cx="1220.00" cy="1659.46" r="3.1" fill="#b5b5b5"/>
<circle cx="1285.73" cy="1659.23" r="3.1" fill="#b5b5b5"/>
<circle cx="1153.43" cy="1659.14" r="3.1" fill="#b5b5b5"/>
<circle cx="1201.06" cy="1659.18" r="3.1" fill="#b5b5b5"/>
<circle cx="1345.65" cy="1659.42" r="3.1" fill="#b5b5b5"/>
<circle cx="1156.81" cy="1659.31" r="3.1" fill="#b5b5b5"/>
<circle cx="1345.84" cy="1659.23" r="3.1" fill="#b5b5b5"/>
<circle cx="1164.37" cy="1659.42" r="3.1" fill="#b5b5b5"/>
<circle cx="1235.79" cy="1659.49" r="3.1" fill="#b5b5b5"/>
<circle cx="1332.90" cy="1659.40" r="3.1" fill="#b5b5b5"/>
<circle cx="1345.20" cy="1658.94" r="3.1" fill="#b5b5b5"/>
<circle cx="1315.41" cy="1659.08" r="3.1" fill="#b5b5b5"/>
<circle cx="1172.69" cy="1659.13" r="3.1" fill="#b5b5b5"/>
<circle cx="1271.02" cy="1658.90" r="3.1" fill="#b5b5b5"/>
<circle cx="1240.84" cy="1659.37" r="3.1" fill="#b5b5b5"/>
<circle cx="1250.73" cy="1659.22" r="3.1" fill="#b5b5b5"/>
<circle cx="1207.61" cy="1659.48" r="3.1" fill="#b5b5b5"/>
<circle cx="1197.18" cy="1659.31" r="3.1" fill="#b5b5b5"/>
<circle cx="1283.35" cy="1658.90" r="3.1" fill="#b5b5b5"/>
<circle cx="1359.34" cy="1659.04" r="3.1" fill="#b5b5b5"/>
<circle cx="1357.68" cy="1659.46" r="3.1" fill="#b5b5b5"/>
<circle cx="1338.64" cy="1659.41" r="3.1" fill="#b5b5b5"/>
<circle cx="1229.59" cy="1659.17" r="3.1" fill="#b5b5b5"/>
<circle cx="1218.32" cy="1659.46" r="3.1" fill="#b5b5b5"/>
<circle cx="1149.74" cy="1658.98" r="3.1" fill="#b5b5b5"/>
<circle cx="1350.65" cy="1659.38" r="3.1" fill="#b5b5b5"/>
<circle cx="1296.40" cy="1659.48" r="3.1" fill="#b5b5b5"/>
<circle cx="1256.87" cy="1659.40" r="3.1" fill="#b5b5b5"/>
<circle cx="1239.37" cy="1659.44" r="3.1" fill="#b5b5b5"/>
<circle cx="1158.49" cy="1659.16" r="3.1" fill="#b5b5b5"/>
<circle cx="1268.44" cy="1659.38" r="3.1" fill="#b5b5b5"/>
<circle cx="1234.96" cy="1659.31" r="3.1" fill="#b5b5b5"/>
<circle cx="1353.12" cy="1659.15" r="3.1" fill="#b5b5b5"/>
<circle cx="1186.64" cy="1658.92" r="3.1" fill="#b5b5b5"/>
<circle cx="1330.15" cy="1659.19" r="3.1" fill="#b5b5b5"/>
<circle cx="1227.48" cy="1659.21" r="3.1" fill="#b5b5b5"/>
<circle cx="1169.51" cy="1659.03" r="3.1" fill="#b5b5b5"/>
<circle cx="1194.49" cy="1659.05" r="3.1" fill="#b5b5b5"/>
<circle cx="1329.67" cy="1659.05" r="3.1" fill="#b5b5b5"/>
<circle cx="1163.01" cy="1659.42" r="3.1" fill="#b5b5b5"/>
<circle cx="1264.37" cy="1658.92" r="3.1" fill="#b5b5b5"/>
<circle cx="1289.71" cy="1659.31" r="3.1" fill="#b5b5b5"/>
<circle cx="1284.17" cy="1659.36" r="3.1" fill="#b5b5b5"/>
<circle cx="1235.27" cy="1659.03" r="3.1" fill="#b5b5b5"/>
<circle cx="1304.68" cy="1659.28" r="3.1" fill="#b5b5b5"/>
<circle cx="1295.90" cy="1659.01" r="3.1" fill="#b5b5b5"/>
<circle cx="1224.16" cy="1659.31" r="3.1" fill="#b5b5b5"/>
<circle cx="1226.74" cy="1659.26" r="3.1" fill="#b5b5b5"/>
<circle cx="1245.89" cy="1659.35" r="3.1" fill="#b5b5b5"/>
<circle cx="1218.89" cy="1659.20" r="3.1" fill="#b5b5b5"/>
<circle cx="1322.93" cy="1659.09" r="3.1" fill="#b5b5b5"/>
<circle cx="1181.48" cy="1659.28" r="3.1" fill="#b5b5b5"/>
<circle cx="1172.25" cy="1659.41" r="3.1" fill="#b5b5b5"/>
<circle cx="1202.98" cy="1659.44" r="3.1" fill="#b5b5b5"/>
<circle cx="1259.07" cy="1658.99" r="3.1" fill="#b5b5b5"/>
<circle cx="1256.31" cy="1659.31" r="3.1" fill="#b5b5b5"/>
<circle cx="1248.75" cy="1659.28" r="3.1" fill="#b5b5b5"/>
<circle cx="1223.36" cy="1659.48" r="3.1" fill="#b5b5b5"/>
<circle cx="1181.20" cy="1659.38" r="3.1" fill="#b5b5b5"/>
<circle cx="1148.54" cy="1659.20" r="3.1" fill="#b5b5b5"/>
<circle cx="1157.81" cy="1658.98" r="3.1" fill="#b5b5b5"/>
<circle cx="1270.93" cy="1659.44" r="3.1" fill="#b5b5b5"/>
<circle cx="1210.42" cy="1659.14" r="3.1" fill="#b5b5b5"/>
<circle cx="1246.55" cy="1659.26" r="3.1" fill="#b5b5b5"/>
<circle cx="1219.31" cy="1659.11" r="3.1" fill="#b5b5b5"/>
<circle cx="1328.35" cy="1659.23" r="3.1" fill="#b5b5b5"/>
<circle cx="1219.78" cy="1659.39" r="3.1" fill="#b5b5b5"/>
<circle cx="1359.89" cy="1659.16" r="3.1" fill="#b5b5b5"/>
<circle cx="1146.70" cy="1659.08" r="3.1" fill="#b5b5b5"/>
<circle cx="1338.02" cy="1659.00" r="3.1" fill="#b5b5b5"/>
<circle cx="1186.46" cy="1659.38" r="3.1" fill="#b5b5b5"/>
<circle cx="1168.17" cy="1659.41" r="3.1" fill="#b5b5b5"/>
<circle cx="1192.43" cy="1659.13" r="3.1" fill="#b5b5b5"/>
<circle cx="1272.20" cy="1658.97" r="3.1" fill="#b5b5b5"/>
<circle cx="1311.34" cy="1659.16" r="3.1" fill="#b5b5b5"/>
<circle cx="1310.32" cy="1659.36" r="3.1" fill="#b5b5b5"/>
<circle cx="1160.04" cy="1659.39" r="3.1" fill="#b5b5b5"/>
<circle cx="1321.27" cy="1659.05" r="3.1" fill="#b5b5b5"/>
<circle cx="1271.54" cy="1659.02" r="3.1" fill="#b5b5b5"/>
<circle cx="1260.10" cy="1659.35" r="3.1" fill="#b5b5b5"/>
<circle cx="1225.06" cy="1659.22" r="3.1" fill="#b5b5b5"/>
<circle cx="1171.88" cy="1659.42" r="3.1" fill="#b5b5b5"/>
<circle cx="1279.14" cy="1659.40" r="3.1" fill="#b5b5b5"/>
<circle cx="1160.89" cy="1659.35" r="3.1" fill="#b5b5b5"/>
<circle cx="1163.00" cy="1659.23" r="3.1" fill="#b5b5b5"/>
<circle cx="1193.40" cy="1659.44" r="3.1" fill="#b5b5b5"/>
<circle cx="1166.42" cy="1659.18" r="3.1" fill="#b5b5b5"/>
<circle cx="1245.44" cy="1659.13" r="3.1" fill="#b5b5b5"/>
<circle cx="1157.39" cy="1659.30" r="3.1" fill="#b5b5b5"/>
<circle cx="1354.03" cy="1659.12" r="3.1" fill="#b5b5b5"/>
<circle cx="1338.17" cy="1659.10" r="3.1" fill="#b5b5b5"/>
<circle cx="1202.60" cy="1659.17" r="3.1" fill="#b5b5b5"/>
<circle cx="1354.21" cy="1659.37" r="3.1" fill="#b5b5b5"/>
<circle cx="1280.48" cy="1658.92" r="3.1" fill="#b5b5b5"/>
<circle cx="1241.21" cy="1658.91" r="3.1" fill="#b5b5b5"/>
<circle cx="1156.84" cy="1659.13" r="3.1" fill="#b5b5b5"/>
<circle cx="1196.28" cy="1658.96" r="3.1" fill="#b5b5b5"/>
<circle cx="1254.28" cy="1659.37" r="3.1" fill="#b5b5b5"/>
<circle cx="1344.00" cy="1659.45" r="3.1" fill="#b5b5b5"/>
<circle cx="1235.73" cy="1659.01" r="3.1" fill="#b5b5b5"/>
<circle cx="1352.22" cy="1659.15" r="3.1" fill="#b5b5b5"/>
<circle cx="1217.73" cy="1659.39" r="3.1" fill="#b5b5b5"/>
<circle cx="1264.34" cy="1659.47" r="3.1" fill="#b5b5b5"/>
<circle cx="1295.35" cy="1659.47" r="3.1" fill="#b5b5b5"/>
<circle cx="1176.59" cy="1659.47" r="3.1" fill="#b5b5b5"/>
<circle cx="1260.77" cy="1659.32" r="3.1" fill="#b5b5b5"/>
<circle cx="1208.61" cy="1659.05" r="3.1" fill="#b5b5b5"/>
<circle cx="1207.69" cy="1659.00" r="3.1" fill="#b5b5b5"/>
<circle cx="1351.57" cy="1658.97" r="3.1" fill="#b5b5b5"/>
<circle cx="1195.99" cy="1659.28" r="3.1" fill="#b5b5b5"/>
<circle cx="1187.74" cy="1659.03" r="3.1" fill="#b5b5b5"/>
<circle cx="1198.22" cy="1659.04" r="3.1" fill="#b5b5b5"/>
<circle cx="1145.62" cy="1659.34" r="3.1" fill="#b5b5b5"/>
<circle cx="1286.25" cy="1659.09" r="3.1" fill="#b5b5b5"/>
<circle cx="1338.26" cy="1659.24" r="3.1" fill="#b5b5b5"/>
<circle cx="1191.08" cy="1659.48" r="3.1" fill="#b5b5b5"/>
<circle cx="1193.18" cy="1659.39" r="3.1" fill="#b5b5b5"/>
<circle cx="1320.34" cy="1658.90" r="3.1" fill="#b5b5b5"/>
<circle cx="1326.96" cy="1659.15" r="3.1" fill="#b5b5b5"/>
<circle cx="1252.23" cy="1659.47" r="3.1" fill="#b5b5b5"/>
<circle cx="1241.27" cy="1659.04" r="3.1" fill="#b5b5b5"/>
<circle cx="1154.13" cy="1659.43" r="3.1" fill="#b5b5b5"/>
<circle cx="1241.98" cy="1659.33" r="3.1" fill="#b5b5b5"/>
<circle cx="1282.28" cy="1659.49" r="3.1" fill="#b5b5b5"/>
<circle cx="1346.28" cy="1659.46" r="3.1" fill="#b5b5b5"/>
<circle cx="1252.72" cy="1659.45" r="3.1" fill="#b5b5b5"/>
<circle cx="1209.84" cy="1658.97" r="3.1" fill="#b5b5b5"/>
<circle cx="1281.96" cy="1658.92" r="3.1" fill="#b5b5b5"/>
<circle cx="1354.10" cy="1659.09" r="3.1" fill="#b5b5b5"/>
<circle cx="1235.31" cy="1659.07" r="3.1" fill="#b5b5b5"/>
<circle cx="1213.38" cy="1659.22" r="3.1" fill="#b5b5b5"/>
<circle cx="1316.99" cy="1658.91" r="3.1" fill="#b5b5b5"/>
<circle cx="1217.76" cy="1659.05" r="3.1" fill="#b5b5b5"/>
<circle cx="1351.12" cy="1659.16" r="3.1" fill="#b5b5b5"/>
<circle cx="1239.67" cy="1659.46" r="3.1" fill="#b5b5b5"/>
<circle cx="1227.27" cy="1659.13" r="3.1" fill="#b5b5b5"/>
<circle cx="1229.92" cy="1659.04" r="3.1" fill="#b5b5b5"/>
<circle cx="1295.94" cy="1659.07" r="3.1" fill="#b5b5b5"/>
<circle cx="1253.79" cy="1659.24" r="3.1" fill="#b5b5b5"/>
<circle cx="1309.54" cy="1659.34" r="3.1" fill="#b5b5b5"/>
<circle cx="1247.68" cy="1659.47" r="3.1" fill="#b5b5b5"/>
<circle cx="1348.34" cy="1659.46" r="3.1" fill="#b5b5b5"/>
<circle cx="1298.16" cy="1659.17" r="3.1" fill="#b5b5b5"/>
<circle cx="1221.39" cy="1659.42" r="3.1" fill="#b5b5b5"/>
<circle cx="1246.03" cy="1659.35" r="3.1" fill="#b5b5b5"/>
<circle cx="1227.39" cy="1659.12" r="3.1" fill="#b5b5b5"/>
<circle cx="1147.30" cy="1659.34" r="3.1" fill="#b5b5b5"/>
<circle cx="1206.20" cy="1659.20" r="3.1" fill="#b5b5b5"/>
<circle cx="1300.67" cy="1659.40" r="3.1" fill="#b5b5b5"/>
<circle cx="1348.12" cy="1659.30" r="3.1" fill="#b5b5b5"/>
<circle cx="1193.86" cy="1659.46" r="3.1" fill="#b5b5b5"/>
<circle cx="1155.19" cy="1659.15" r="3.1" fill="#b5b5b5"/>
<circle cx="1343.85" cy="1659.41" r="3.1" fill="#b5b5b5"/>
<circle cx="1272.26" cy="1659.42" r="3.1" fill="#b5b5b5"/>
<circle cx="1181.77" cy="1658.92" r="3.1" fill="#b5b5b5"/>
<circle cx="1207.71" cy="1659.46" r="3.1" fill="#b5b5b5"/>
<circle cx="1152.02" cy="1659.10" r="3.1" fill="#b5b5b5"/>
<circle cx="1253.51" cy="1659.02" r="3.1" fill="#b5b5b5"/>
<circle cx="1332.21" cy="1658.96" r="3.1" fill="#b5b5b5"/>
<circle cx="1161.92" cy="1659.50" r="3.1" fill="#b5b5b5"/>
<circle cx="1146.04" cy="1659.03" r="3.1" fill="#b5b5b5"/>
<circle cx="1231.89" cy="1659.43" r="3.1" fill="#b5b5b5"/>
<circle cx="1216.13" cy="1659.24" r="3.1" fill="#b5b5b5"/>
<circle cx="1317.74" cy="1659.27" r="3.1" fill="#b5b5b5"/>
<circle cx="1323.46" cy="1658.91" r="3.1" fill="#b5b5b5"/>
<circle cx="1260.73" cy="1658.91" r="3.1" fill="#b5b5b5"/>
<circle cx="1328.15" cy="1658.92" r="3.1" fill="#b5b5b5"/>
<circle cx="1163.90" cy="1659.16" r="3.1" fill="#b5b5b5"/>
<circle cx="1277.95" cy="1658.91" r="3.1" fill="#b5b5b5"/>
<circle cx="1282.07" cy="1658.96" r="3.1" fill="#b5b5b5"/>
<circle cx="1213.50" cy="1658.93" r="3.1" fill="#b5b5b5"/>
<circle cx="1300.94" cy="1659.40" r="3.1" fill="#b5b5b5"/>
<circle cx="1310.23" cy="1659.09" r="3.1" fill="#b5b5b5"/>
<circle cx="1197.54" cy="1659.48" r="3.1" fill="#b5b5b5"/>
<circle cx="1320.37" cy="1659.48" r="3.1" fill="#b5b5b5"/>
<circle cx="1233.32" cy="1659.43" r="3.1" fill="#b5b5b5"/>
<circle cx="1290.21" cy="1659.37" r="3.1" fill="#b5b5b5"/>
<circle cx="1254.39" cy="1659.37" r="3.1" fill="#b5b5b5"/>
<circle cx="1251.46" cy="1659.06" r="3.1" fill="#b5b5b5"/>
<circle cx="1246.90" cy="1658.92" r="3.1" fill="#b5b5b5"/>
<circle cx="1289.38" cy="1659.10" r="3.1" fill="#b5b5b5"/>
<circle cx="1182.54" cy="1659.38" r="3.1" fill="#b5b5b5"/>
<circle cx="1257.36" cy="1659.09" r="3.1" fill="#b5b5b5"/>
<circle cx="1343.41" cy="1659.46" r="3.1" fill="#b5b5b5"/>
<circle cx="1235.51" cy="1659.23" r="3.1" fill="#b5b5b5"/>
<circle cx="1143.45" cy="1659.11" r="3.1" fill="#b5b5b5"/>
<circle cx="1357.41" cy="1659.21" r="3.1" fill="#b5b5b5"/>
<circle cx="1377.70" cy="1659.20" r="3.1" fill="#b5b5b5"/>
<circle cx="1384.50" cy="1659.20" r="3.1" fill="#b5b5b5"/>
<circle cx="1100.10" cy="1659.20" r="3.1" fill="#b5b5b5"/>
<circle cx="1117.70" cy="1659.20" r="3.1" fill="#b5b5b5"/>
<circle cx="1122.60" cy="1648.30" r="3.1" fill="#b5b5b5"/>
<circle cx="1122.60" cy="1651.00" r="3.1" fill="#b5b5b5"/>
<circle cx="1137.20" cy="1648.30" r="3.1" fill="#b5b5b5"/>
<circle cx="1151.60" cy="1656.50" r="3.1" fill="#b5b5b5"/>
<circle cx="1228.80" cy="1648.30" r="3.1" fill="#b5b5b5"/>
<circle cx="1232.00" cy="1650.00" r="3.1" fill="#b5b5b5"/>
<circle cx="1236.90" cy="1653.70" r="3.1" fill="#b5b5b5"/>
<circle cx="1233.00" cy="1648.50" r="3.1" fill="#b5b5b5"/>
<circle cx="1251.80" cy="1648.30" r="3.1" fill="#b5b5b5"/>
<circle cx="1250.00" cy="1652.00" r="3.1" fill="#b5b5b5"/>
<circle cx="1262.60" cy="1653.20" r="3.1" fill="#b5b5b5"/>
<circle cx="1317.60" cy="1648.90" r="3.1" fill="#b5b5b5"/>
<circle cx="1240.00" cy="1655.00" r="3.1" fill="#b5b5b5"/>
<circle cx="1236.00" cy="1657.00" r="3.1" fill="#b5b5b5"/>
<circle cx="1162.30" cy="1291.00" r="3.1" fill="#2b58a8"/>
<circle cx="1233.40" cy="1593.60" r="3.1" fill="#2b58a8"/>
<circle cx="1109.60" cy="1637.00" r="3.1" fill="#2b58a8"/>
<circle cx="1236.30" cy="1637.00" r="3.1" fill="#2b58a8"/>
<circle cx="1310.70" cy="1517.00" r="3.1" fill="#e4262b"/>
<circle cx="1300.50" cy="1635.30" r="3.1" fill="#e4262b"/>
<circle cx="1323.00" cy="1637.00" r="3.1" fill="#e4262b"/>
<circle cx="1347.90" cy="1635.30" r="3.1" fill="#e4262b"/>
<g stroke="#000" stroke-width="2" stroke-dasharray="9.8,12.1">
<line x1="1243.00" y1="1676.00" x2="1243.00" y2="1235.60" stroke="#000" stroke-width="2"/>
<line x1="1051.25" y1="1643.20" x2="1435.30" y2="1643.20" stroke="#000" stroke-width="2"/>
</g>
<line x1="1125.80" y1="1264.50" x2="1160.90" y2="1288.20" stroke="#000" stroke-width="1.5"/>
<text x="1083.09" y="1264.50" font-size="18.2" fill="#000">Gcat</text>
<line x1="1342.50" y1="1484.00" x2="1310.70" y2="1515.90" stroke="#000" stroke-width="1.5"/>
<text x="1337.39" y="1480.50" font-size="18.2" fill="#000">Gm27177</text>
<line x1="1193.50" y1="1569.80" x2="1232.00" y2="1592.30" stroke="#000" stroke-width="1.5"/>
<text x="1118.99" y="1563.00" font-size="18.2" fill="#000">Gm16867</text>
<line x1="1085.20" y1="1596.90" x2="1108.20" y2="1635.30" stroke="#000" stroke-width="1.5"/>
<text x="1055.09" y="1594.20" font-size="18.2" fill="#000">Gm5641</text>
<line x1="1278.90" y1="1596.90" x2="1299.70" y2="1633.40" stroke="#000" stroke-width="1.5"/>
<text x="1257.59" y="1595.50" font-size="18.2" fill="#000">Gm27998</text>
<line x1="1378.30" y1="1600.90" x2="1347.90" y2="1632.10" stroke="#000" stroke-width="1.5"/>
<text x="1352.99" y="1596.90" font-size="18.2" fill="#000">Gm26920</text>
<rect x="1051.25" y="1235.60" width="384.05" height="440.40" fill="none" stroke="#000" stroke-width="1.6"/>
<line x1="1064.40" y1="1676.00" x2="1064.40" y2="1690.50" stroke="#000" stroke-width="1.6"/>
<text x="1044.92" y="1715.50" font-size="23.2" fill="#000">−10</text>
<line x1="1153.70" y1="1676.00" x2="1153.70" y2="1690.50" stroke="#000" stroke-width="1.6"/>
<text x="1140.66" y="1715.50" font-size="23.2" fill="#000">−5</text>
<line x1="1243.00" y1="1676.00" x2="1243.00" y2="1690.50" stroke="#000" stroke-width="1.6"/>
<text x="1236.56" y="1715.50" font-size="23.2" fill="#000">0</text>
<line x1="1332.30" y1="1676.00" x2="1332.30" y2="1690.50" stroke="#000" stroke-width="1.6"/>
<text x="1325.86" y="1715.50" font-size="23.2" fill="#000">5</text>
<line x1="1421.60" y1="1676.00" x2="1421.60" y2="1690.50" stroke="#000" stroke-width="1.6"/>
<text x="1408.32" y="1715.50" font-size="23.2" fill="#000">10</text>
<line x1="1036.75" y1="1659.50" x2="1051.25" y2="1659.50" stroke="#000" stroke-width="1.6"/>
<text x="0" y="0" font-size="23.2" fill="#000" transform="translate(1025.95,1664.94) rotate(-90)">0</text>
<line x1="1036.75" y1="1578.00" x2="1051.25" y2="1578.00" stroke="#000" stroke-width="1.6"/>
<text x="0" y="0" font-size="23.2" fill="#000" transform="translate(1025.95,1583.44) rotate(-90)">5</text>
<line x1="1036.75" y1="1496.50" x2="1051.25" y2="1496.50" stroke="#000" stroke-width="1.6"/>
<text x="0" y="0" font-size="23.2" fill="#000" transform="translate(1025.95,1508.78) rotate(-90)">10</text>
<line x1="1036.75" y1="1415.00" x2="1051.25" y2="1415.00" stroke="#000" stroke-width="1.6"/>
<text x="0" y="0" font-size="23.2" fill="#000" transform="translate(1025.95,1427.28) rotate(-90)">15</text>
<line x1="1036.75" y1="1333.50" x2="1051.25" y2="1333.50" stroke="#000" stroke-width="1.6"/>
<text x="0" y="0" font-size="23.2" fill="#000" transform="translate(1025.95,1345.49) rotate(-90)">20</text>
<line x1="1036.75" y1="1252.00" x2="1051.25" y2="1252.00" stroke="#000" stroke-width="1.6"/>
<text x="0" y="0" font-size="23.2" fill="#000" transform="translate(1025.95,1263.99) rotate(-90)">25</text>
<text x="0" y="0" font-size="29.3" fill="#000" transform="translate(972.80,1522.46) rotate(-90)">−log10(FDR)</text>
<text x="1216.60" y="1752.80" font-size="29.3" fill="#000">logFC</text>
<text x="1161.19" y="1210.20" font-size="40.5" font-weight="bold" fill="#000">ACC-M</text>
<text x="955.00" y="1199.20" font-size="25" font-weight="bold" fill="#000">G</text>
</svg></body></html>
